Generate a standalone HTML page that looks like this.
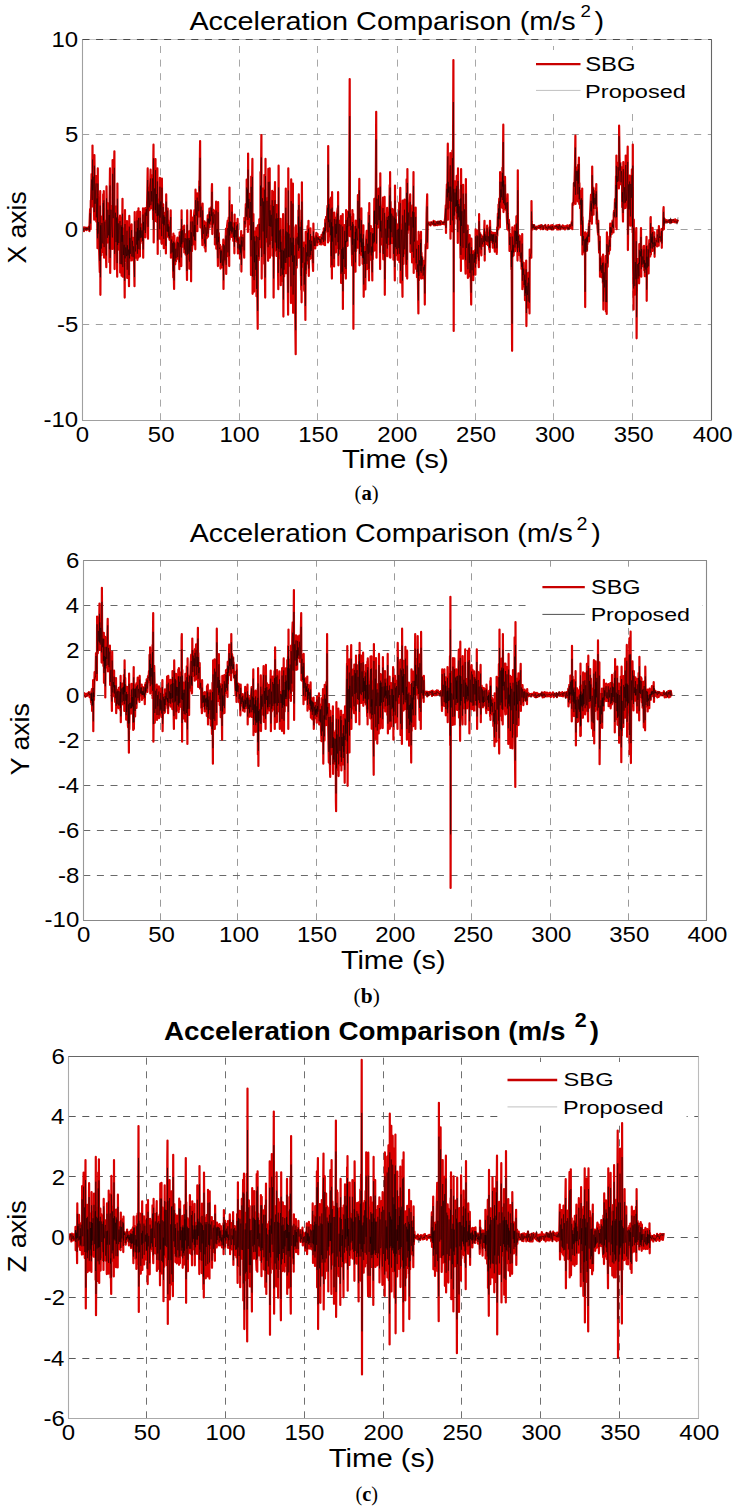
<!DOCTYPE html><html><head><meta charset="utf-8"><style>
html,body{margin:0;padding:0;background:#fff;}body{width:735px;height:1509px;overflow:hidden;position:relative;}
svg{position:absolute;left:0;top:0;}
</style></head><body>
<svg width="735" height="1509" viewBox="0 0 735 1509" font-family='"Liberation Sans", sans-serif'>
<g stroke-width="1" stroke-dasharray="7 6.6" fill="none"><line x1="160.5" y1="420.2" x2="160.5" y2="39.3" stroke="#a8a8a8"/><line x1="239.5" y1="420.2" x2="239.5" y2="39.3" stroke="#a8a8a8"/><line x1="317.5" y1="420.2" x2="317.5" y2="39.3" stroke="#a8a8a8"/><line x1="397.5" y1="420.2" x2="397.5" y2="39.3" stroke="#a8a8a8"/><line x1="475.5" y1="420.2" x2="475.5" y2="39.3" stroke="#a8a8a8"/><line x1="553.5" y1="420.2" x2="553.5" y2="39.3" stroke="#a8a8a8"/><line x1="632.5" y1="420.2" x2="632.5" y2="39.3" stroke="#a8a8a8"/><line x1="82.2" y1="134.5" x2="711.6" y2="134.5" stroke="#a0a0a0"/><line x1="82.2" y1="229.5" x2="711.6" y2="229.5" stroke="#a0a0a0"/><line x1="82.2" y1="324.5" x2="711.6" y2="324.5" stroke="#a0a0a0"/></g>
<clipPath id="c0"><rect x="82.2" y="39.3" width="629.4" height="380.9"/></clipPath>
<g clip-path="url(#c0)" fill="none" stroke-linejoin="round">
<polyline points="81.5,231.1 81.7,226.4 81.9,228.4 82.6,229.5 83.3,227.7 83.9,231.1 84.1,227.4 84.3,229.5 84.8,227.7 85.4,229.6 85.9,227.7 86.6,230.2 86.8,227.9 87.0,229.3 87.5,227.9 87.9,229.3 88.5,228.4 89.1,226.4 89.4,231.1 89.6,222.5 90.1,209.1 90.6,229.2 90.8,200.7 91.1,199.9 91.6,174.1 92.3,206.4 92.5,145.6 92.7,191.1 93.2,173.3 93.7,196.1 94.2,219.7 94.4,155.1 94.7,183.5 95.1,207.3 95.7,187.8 96.1,176.0 96.3,221.6 96.5,218.0 97.0,193.1 97.5,248.2 97.8,168.4 98.0,236.7 98.6,217.4 99.2,251.9 99.8,272.2 100.0,207.9 100.2,191.2 100.4,294.8 100.7,221.0 101.4,255.2 101.9,216.6 102.5,246.6 103.0,251.8 103.2,194.4 103.4,217.0 103.8,191.2 104.1,257.7 104.3,233.1 104.9,220.6 105.6,242.1 106.3,267.2 106.5,186.4 106.8,209.2 107.4,242.6 107.9,203.4 108.6,239.7 109.2,214.6 109.4,262.2 109.6,202.2 110.0,168.4 110.2,272.9 110.5,232.7 111.0,205.9 111.7,229.8 112.4,248.9 112.6,160.0 112.8,203.3 113.3,222.9 113.8,186.0 114.4,151.3 114.6,269.1 114.8,238.6 115.5,206.4 116.0,245.9 116.5,211.6 117.2,276.7 117.4,183.6 117.7,250.4 118.3,221.3 118.8,248.9 119.3,226.4 120.0,215.7 120.2,272.5 120.4,247.3 121.1,218.2 121.6,275.7 121.8,219.6 122.0,244.2 122.5,198.8 122.8,276.7 123.0,228.4 123.6,258.2 124.2,241.3 124.7,297.6 125.0,210.2 125.2,261.8 125.8,245.1 126.5,261.4 127.0,221.1 127.2,277.9 127.4,241.5 128.0,258.8 128.6,245.7 129.0,286.2 129.3,215.9 129.5,261.2 130.0,235.0 130.4,258.0 131.0,236.6 131.6,224.3 131.8,260.5 132.0,256.6 132.5,237.6 133.1,254.8 133.6,243.3 134.0,256.8 134.5,286.2 134.7,212.1 135.0,232.8 135.6,257.7 136.1,228.6 136.7,248.7 137.2,211.5 137.4,260.0 137.6,226.0 138.2,257.7 138.5,208.3 138.7,243.3 139.3,228.0 139.9,256.5 140.1,211.9 140.3,239.7 140.7,224.0 141.4,240.7 141.9,227.9 142.6,243.3 143.0,208.3 143.2,257.7 143.5,221.0 144.1,232.1 144.5,218.4 145.2,208.0 145.4,237.3 145.6,228.4 146.1,208.4 146.7,216.4 147.2,199.5 147.7,168.4 148.0,238.7 148.2,212.5 148.7,187.7 149.4,210.1 150.0,189.4 150.6,169.7 150.8,208.5 151.0,208.3 151.5,186.7 151.9,205.2 152.5,175.2 153.1,219.4 153.3,162.6 153.5,144.7 153.7,242.5 153.9,212.6 154.6,183.5 155.3,211.5 155.5,159.0 155.7,221.1 156.4,190.2 157.0,222.1 157.4,168.4 157.7,253.9 157.9,199.3 158.4,218.4 159.1,199.7 159.7,238.7 159.9,177.8 160.1,219.9 160.8,197.7 161.2,225.4 161.7,243.8 161.9,178.5 162.1,207.7 162.8,226.3 163.2,204.3 163.8,248.2 164.0,213.3 164.2,226.0 164.9,212.8 165.4,227.3 165.9,253.5 166.2,194.4 166.4,215.7 167.0,236.1 167.7,208.5 167.9,236.5 168.1,220.4 168.6,237.5 169.0,226.6 169.5,239.8 170.2,229.8 170.7,210.4 170.9,257.7 171.2,243.1 171.6,237.2 172.1,254.0 172.6,239.5 173.3,277.5 173.4,233.7 173.7,270.2 174.1,288.9 174.4,235.5 174.6,250.9 175.2,264.3 175.7,248.5 176.1,261.3 176.7,243.8 177.4,237.5 177.6,258.7 177.8,257.7 178.4,239.9 178.9,251.7 179.4,269.2 179.6,232.3 179.8,235.2 180.4,247.6 180.9,229.5 181.3,266.1 181.6,210.4 181.8,245.3 182.4,226.9 183.0,246.7 183.5,233.4 184.2,225.5 184.3,252.4 184.5,248.3 185.2,234.0 185.6,254.6 186.3,234.6 187.0,279.9 187.2,210.4 187.5,258.7 188.1,235.5 188.7,258.4 189.2,231.4 189.4,268.7 189.6,238.0 190.2,254.6 190.9,210.4 191.1,281.3 191.3,228.5 191.9,251.1 192.5,243.8 192.7,217.5 192.9,221.3 193.6,241.0 194.0,215.9 194.5,210.0 194.6,244.7 194.9,226.8 195.3,249.3 195.5,189.7 195.8,207.0 196.3,218.7 196.8,204.8 197.2,193.3 197.4,231.2 197.6,217.0 198.0,198.9 198.7,213.1 199.1,216.3 199.3,181.0 199.5,188.6 200.1,141.0 200.4,227.3 200.6,213.9 201.2,205.5 201.8,227.1 202.4,245.2 202.6,203.6 202.8,224.7 203.5,237.7 203.9,228.8 204.5,221.4 204.7,247.8 204.9,241.2 205.6,251.4 205.8,222.9 206.0,229.2 206.7,238.2 207.2,226.6 207.8,215.3 208.0,236.7 208.2,228.5 208.6,216.3 209.0,225.5 209.4,208.5 209.6,227.4 209.8,211.9 210.5,223.7 211.0,207.4 211.6,220.0 211.8,189.0 212.0,184.0 212.3,234.1 212.5,221.5 213.1,209.6 213.6,223.8 214.2,210.5 214.8,212.5 214.9,244.5 215.2,230.0 215.7,222.8 216.1,201.7 216.3,248.7 216.5,235.7 217.2,227.3 217.9,266.1 218.1,202.0 218.3,246.5 218.8,233.0 219.3,251.7 220.0,244.8 220.5,268.6 220.7,246.3 220.9,263.5 221.6,249.9 222.3,267.3 222.8,258.6 223.3,239.7 223.5,288.9 223.7,267.0 224.4,244.7 224.9,261.1 225.5,242.9 226.0,228.6 226.2,273.9 226.4,253.8 227.1,225.9 227.7,220.7 227.9,256.1 228.1,248.1 228.7,217.7 229.2,266.1 229.5,187.6 229.7,239.8 230.3,217.7 230.7,235.3 231.2,219.9 231.8,237.0 231.9,205.2 232.1,236.7 232.7,225.2 233.3,240.9 234.0,223.1 234.4,253.3 234.6,214.6 234.8,240.3 235.4,229.2 236.0,241.0 236.7,222.9 236.9,241.7 237.1,227.3 237.6,218.8 237.9,253.5 238.1,241.3 238.8,237.8 239.2,250.0 239.8,241.3 240.0,258.6 240.2,243.1 240.6,252.9 241.2,231.1 241.4,271.6 241.7,239.6 242.2,248.2 242.9,235.3 243.5,241.4 244.2,257.7 244.4,217.8 244.7,218.0 245.2,226.7 245.8,204.2 246.5,219.2 246.7,179.6 246.9,211.5 247.4,185.6 247.9,231.9 248.1,153.6 248.4,211.3 249.0,193.5 249.6,224.3 250.3,194.8 251.0,275.0 251.2,176.6 251.4,246.5 251.8,205.5 252.4,158.9 252.6,293.8 252.9,254.5 253.4,214.1 254.1,291.6 254.3,231.4 254.5,267.6 255.0,232.7 255.6,274.8 256.3,227.9 256.5,296.3 256.7,250.7 257.2,286.0 257.7,328.8 257.9,225.4 258.1,240.8 258.8,259.9 259.3,219.3 259.7,247.3 260.4,246.1 260.5,172.0 260.8,200.9 261.4,135.0 261.7,278.6 261.9,236.9 262.5,188.4 263.1,234.3 263.6,192.4 264.2,263.8 264.4,174.9 264.6,242.7 265.2,297.6 265.5,158.9 265.7,199.7 266.4,241.4 267.0,198.5 267.5,233.1 268.1,260.8 268.3,168.9 268.5,208.3 269.2,230.8 269.7,168.4 269.9,257.7 270.1,205.6 270.8,232.6 271.3,209.4 272.0,240.4 272.2,190.8 272.4,255.7 272.8,231.3 273.4,192.2 273.6,297.6 273.8,261.3 274.3,217.2 275.0,182.2 275.2,243.4 275.4,250.3 275.9,215.4 276.5,256.0 276.7,205.1 276.9,253.6 277.5,208.6 277.9,213.4 278.1,273.2 278.3,289.2 278.6,165.7 278.8,251.6 279.4,225.9 280.0,258.2 280.6,218.8 280.8,285.2 281.0,237.7 281.4,275.3 281.9,243.7 282.4,281.1 283.1,214.0 283.4,316.6 283.6,247.5 284.1,276.5 284.7,241.9 285.1,268.9 285.8,188.5 286.0,273.2 286.2,224.0 286.8,265.6 287.4,224.1 288.1,314.7 288.3,168.4 288.6,259.5 289.1,226.1 289.8,265.7 290.4,235.1 291.0,303.1 291.2,179.4 291.4,260.4 292.0,238.0 292.5,273.6 292.9,183.6 293.1,312.8 293.4,227.2 293.9,274.6 294.5,245.8 295.0,296.9 295.7,354.2 295.9,225.4 296.1,253.4 296.7,267.7 297.1,234.8 297.6,244.4 298.2,250.6 298.4,210.4 298.6,257.7 298.8,194.4 299.0,218.9 299.7,250.1 300.1,223.2 300.7,257.2 301.2,290.0 301.4,210.4 301.6,302.3 301.9,182.3 302.1,225.8 302.7,266.6 303.4,246.2 304.0,242.7 304.2,289.8 304.4,290.8 304.8,256.7 305.4,320.0 305.7,231.9 305.9,273.8 306.6,248.4 307.2,263.4 307.6,226.2 307.8,260.1 308.0,244.7 308.5,220.8 308.8,275.9 309.0,255.2 309.5,236.2 309.9,259.1 310.5,228.4 310.7,257.9 310.9,243.1 311.3,251.8 311.7,237.2 312.4,255.9 313.1,271.0 313.4,223.5 313.6,239.8 314.3,247.3 314.7,237.9 315.2,248.5 315.7,239.4 316.3,232.8 316.5,241.0 316.7,242.2 317.3,245.2 317.5,233.9 317.8,237.4 318.3,241.8 318.7,238.2 319.3,240.5 319.7,237.0 319.9,244.1 320.1,238.3 320.7,241.7 321.3,244.4 321.5,234.9 321.8,235.7 322.4,239.5 323.0,232.0 323.6,244.5 323.8,228.5 324.0,237.1 324.4,227.9 325.0,245.2 325.2,219.7 325.5,232.4 326.1,216.8 326.8,222.7 327.5,205.8 328.0,242.5 328.2,146.0 328.5,226.2 328.9,199.2 329.4,236.2 329.9,217.3 330.4,241.1 331.0,197.5 331.2,266.9 331.4,217.8 331.9,278.6 332.1,192.2 332.3,243.8 332.8,221.4 333.5,249.5 334.1,266.5 334.3,212.6 334.5,218.4 335.1,238.7 335.8,219.1 335.9,252.5 336.1,217.5 336.5,236.7 337.1,213.3 337.7,208.2 337.9,248.5 338.1,192.2 338.4,265.3 338.6,245.4 339.3,220.8 339.8,253.2 340.4,239.8 340.9,216.1 341.1,283.0 341.3,259.1 341.7,244.9 342.2,276.1 342.7,214.0 342.9,309.0 343.1,244.7 343.6,261.5 344.3,242.4 344.7,225.2 344.9,273.1 345.1,253.4 345.5,237.2 345.9,278.6 346.1,210.2 346.4,245.9 347.1,223.0 347.6,245.8 347.7,211.5 347.9,236.3 348.4,212.6 349.1,222.3 349.7,79.1 350.0,236.2 350.2,216.5 350.7,236.4 351.2,224.2 351.6,241.7 352.2,265.5 352.4,210.2 352.6,241.3 353.2,214.0 353.4,328.8 353.7,250.6 354.1,233.0 354.8,249.5 355.3,226.9 355.5,271.7 355.7,220.7 356.1,251.1 356.5,224.8 357.1,242.3 357.7,247.7 357.9,195.2 358.1,219.9 358.8,231.8 359.3,178.9 359.5,265.3 359.7,211.6 360.3,248.7 360.8,232.1 361.2,251.3 361.4,208.4 361.6,255.0 362.2,236.7 362.6,263.8 363.0,237.3 363.2,261.1 363.4,225.4 363.7,296.8 363.9,249.8 364.3,264.4 364.8,247.2 365.3,246.8 365.4,289.5 365.6,264.2 366.1,240.1 366.7,230.8 366.9,269.1 367.1,259.6 367.6,239.8 368.2,252.2 368.6,212.5 368.8,269.0 369.0,280.5 369.3,203.2 369.5,236.3 369.9,259.8 370.4,233.5 370.8,226.0 371.0,256.4 371.2,259.7 371.7,245.5 372.3,280.5 372.5,229.2 372.8,259.3 373.2,229.8 373.8,248.8 374.3,198.9 374.5,250.6 374.7,212.1 375.2,231.7 375.8,187.3 376.2,111.8 376.5,257.7 376.7,225.0 377.1,195.4 377.7,227.7 378.3,221.4 378.5,188.7 378.7,205.8 379.1,225.1 379.7,202.5 380.1,269.1 380.3,173.3 380.6,235.2 381.1,217.8 381.8,244.4 382.4,216.2 383.0,197.5 383.1,249.8 383.3,259.3 384.0,232.9 384.6,196.9 384.8,294.8 385.0,262.4 385.7,222.9 386.4,243.9 387.1,207.9 387.3,256.2 387.5,213.2 388.1,244.3 388.5,212.7 389.1,236.1 389.7,185.2 389.9,257.4 390.1,172.2 390.4,257.7 390.6,201.8 391.1,238.0 391.7,208.7 392.1,242.9 392.6,209.1 393.3,211.6 393.5,259.7 393.7,241.4 394.2,213.1 394.8,280.5 395.0,185.5 395.3,254.3 395.8,213.2 396.3,255.1 397.0,224.7 397.4,228.4 397.6,259.8 397.8,251.2 398.3,226.0 398.8,251.4 399.2,202.7 399.4,262.2 399.6,217.7 400.3,187.8 400.5,282.4 400.7,254.9 401.4,224.5 401.9,259.2 402.5,296.8 402.7,200.7 403.0,232.9 403.5,263.9 403.9,232.3 404.5,199.7 404.7,253.2 404.9,243.1 405.4,218.3 405.9,250.5 406.4,276.3 406.6,179.4 406.8,204.1 407.2,278.6 407.4,169.0 407.7,233.1 408.4,209.3 409.0,229.4 409.5,209.4 410.2,194.4 410.4,252.0 410.7,235.2 411.1,212.5 411.7,236.5 412.1,262.5 412.3,216.0 412.5,205.4 413.1,229.4 413.5,172.2 413.7,272.9 414.0,207.5 414.4,247.5 415.0,233.5 415.7,207.5 415.9,262.4 416.1,269.0 416.6,241.3 417.0,277.2 417.7,262.9 418.4,313.4 418.6,231.9 418.9,280.4 419.6,257.4 420.0,269.5 420.6,235.2 420.8,276.1 421.0,231.9 421.2,278.6 421.5,252.8 421.9,267.9 422.3,257.0 423.0,278.3 423.5,276.6 423.7,263.2 423.9,269.3 424.5,260.6 424.8,304.6 425.0,275.4 425.6,244.5 426.1,245.1 426.6,213.6 427.2,194.4 427.4,248.2 427.7,225.6 428.3,222.3 429.2,224.4 429.7,222.6 430.5,225.5 431.3,222.2 432.0,224.2 432.5,222.4 433.1,224.2 433.6,220.9 434.1,225.3 435.0,221.5 435.7,225.2 436.6,222.4 437.4,225.1 438.0,221.6 438.8,224.6 439.5,221.5 440.2,224.7 440.8,221.1 441.6,224.1 442.3,222.3 443.0,223.9 443.5,222.5 444.3,224.3 445.1,218.2 445.8,205.4 446.0,233.0 446.2,209.5 446.9,184.4 447.3,198.2 447.8,143.7 448.0,219.7 448.2,179.5 448.7,195.2 449.2,183.4 449.7,207.6 450.3,153.2 450.5,238.7 450.7,185.5 451.3,207.8 451.9,183.5 452.4,150.6 452.6,231.5 452.8,207.6 453.4,60.1 453.7,331.0 453.9,183.9 454.3,224.1 455.0,181.4 455.5,209.9 456.1,183.5 456.5,211.1 456.7,175.9 456.9,218.7 457.4,198.9 457.8,242.9 458.0,168.4 458.3,219.6 458.8,200.0 459.3,228.2 459.8,201.4 460.5,258.1 460.7,189.7 460.9,271.0 461.1,169.0 461.4,229.8 462.0,205.1 462.4,231.5 463.0,258.8 463.2,184.8 463.4,210.3 463.9,233.4 464.5,205.4 465.0,247.3 465.6,273.7 465.9,179.0 466.1,214.4 466.6,250.2 467.1,230.9 467.7,225.7 467.9,277.9 468.1,258.9 468.6,240.4 469.3,264.5 469.7,235.2 469.9,276.6 470.1,250.8 470.8,278.0 471.2,304.6 471.4,238.7 471.7,257.2 472.1,273.7 472.6,251.1 473.1,258.5 473.3,280.2 473.5,266.4 474.0,251.0 474.5,263.6 475.0,250.1 475.4,274.7 475.6,229.4 475.8,263.8 476.5,240.5 477.0,230.7 477.2,256.0 477.4,255.6 477.8,232.8 478.2,253.3 478.8,267.2 479.1,214.2 479.3,236.3 479.7,250.0 480.2,233.0 480.7,249.6 481.4,255.3 481.6,235.4 481.8,236.6 482.4,246.0 483.1,236.8 483.8,245.6 484.5,220.8 484.7,260.6 484.9,232.1 485.5,242.4 486.0,234.7 486.5,243.9 486.9,241.7 487.1,225.7 487.3,232.4 487.9,245.2 488.4,233.0 488.8,243.6 489.4,249.8 489.6,227.5 489.8,252.0 490.0,220.8 490.3,232.9 490.7,241.6 491.3,231.9 491.8,240.5 492.2,232.7 492.8,247.6 492.9,233.8 493.2,242.4 493.6,232.9 494.2,244.3 494.8,251.7 495.0,232.8 495.2,234.0 495.7,243.3 496.3,235.1 496.8,253.9 497.1,227.3 497.3,236.0 497.9,213.6 498.3,229.5 498.5,204.6 498.7,221.5 499.2,198.7 499.9,227.3 500.1,172.2 500.3,207.9 500.9,186.5 501.4,203.1 501.8,178.7 502.3,207.8 502.4,167.8 502.7,190.0 503.3,124.7 503.5,212.1 503.7,178.6 504.2,197.6 504.8,208.8 505.0,176.9 505.2,191.6 505.6,209.7 506.3,201.6 506.8,216.6 507.3,229.2 507.6,194.4 507.8,213.9 508.5,230.4 508.9,219.8 509.3,226.8 509.5,251.0 509.7,243.3 510.1,233.9 510.7,247.2 511.2,246.2 511.4,269.5 511.6,245.2 512.1,350.8 512.3,227.3 512.6,256.8 513.2,240.0 513.6,255.5 514.2,239.7 514.8,225.5 515.0,251.2 515.2,245.3 515.6,230.8 516.2,244.2 516.4,216.4 516.6,247.3 517.1,231.0 517.5,260.6 517.8,170.3 518.0,250.7 518.6,235.2 519.2,253.8 519.6,255.2 519.8,235.8 520.0,247.5 520.6,261.2 521.2,252.5 521.6,269.0 522.2,234.1 522.4,289.2 522.6,262.2 523.2,277.1 523.7,262.8 524.1,286.4 524.8,270.8 525.0,300.2 525.2,277.5 525.6,294.8 526.2,260.6 526.4,326.1 526.7,284.6 527.4,295.8 528.0,279.3 528.2,307.5 528.4,272.9 529.0,287.7 529.5,313.4 529.7,249.5 530.0,258.6 530.7,252.6 531.3,257.7 531.5,201.1 531.7,221.4 532.3,229.5 532.9,225.0 533.5,228.1 534.1,225.0 534.7,228.2 535.4,226.8 536.2,229.4 537.0,226.6 537.7,228.0 538.7,226.0 539.2,227.9 540.0,225.6 540.7,229.2 541.3,225.2 541.9,228.6 542.4,226.5 543.1,229.2 543.8,226.1 544.4,228.0 545.3,225.0 545.8,229.1 546.6,226.6 547.4,229.8 548.3,225.2 548.9,228.3 549.8,226.7 550.3,229.0 551.1,225.3 551.7,229.5 552.5,225.2 553.2,229.5 554.0,226.6 554.6,228.3 555.3,225.8 555.9,228.0 556.5,225.3 557.2,229.5 558.0,225.1 558.6,229.3 559.4,224.8 560.2,229.3 561.1,226.7 562.0,228.3 562.7,225.4 563.6,228.6 564.2,226.2 565.0,229.5 565.9,226.0 566.5,228.5 567.3,225.3 567.9,228.7 568.4,226.5 569.1,228.6 569.7,225.0 570.4,228.2 571.0,226.4 571.9,221.4 572.3,229.2 572.5,203.9 572.8,203.0 573.4,204.8 573.9,183.0 574.3,191.3 575.0,164.5 575.4,135.7 575.6,203.9 575.9,182.5 576.3,167.4 576.8,179.4 577.3,168.2 577.9,201.5 578.1,164.9 578.3,185.0 578.9,157.6 579.2,203.9 579.4,183.0 580.1,208.2 580.7,197.9 581.2,235.2 581.4,190.8 581.6,222.0 582.2,188.5 582.4,254.5 582.6,217.1 583.1,244.8 583.5,232.3 584.1,252.2 584.8,234.3 585.0,256.6 585.2,307.1 585.4,232.4 585.6,246.0 586.1,250.8 586.6,237.5 587.0,250.7 587.2,233.8 587.4,244.2 587.8,232.7 588.3,236.7 588.9,223.7 589.1,241.4 589.4,220.6 589.8,221.3 590.5,205.0 591.0,194.7 591.1,213.7 591.3,205.7 591.9,223.7 592.2,166.5 592.4,184.5 592.9,207.7 593.4,187.7 593.6,214.7 593.8,190.9 594.2,207.8 594.8,196.0 595.3,207.9 596.0,188.4 596.1,207.4 596.3,184.0 596.6,223.7 596.8,207.6 597.5,227.4 598.1,234.8 598.3,220.7 598.5,233.2 599.1,252.7 599.8,236.8 600.0,276.7 600.3,256.0 600.7,271.5 601.3,265.1 601.7,277.3 602.1,267.9 602.7,256.7 602.9,283.1 603.1,254.5 603.4,309.6 603.6,292.7 604.2,270.6 604.6,286.5 605.2,269.2 605.7,256.0 605.9,311.5 606.1,281.5 606.7,313.9 606.9,232.4 607.1,254.4 607.7,266.6 608.2,245.1 608.6,254.4 609.0,253.3 609.2,242.7 609.4,236.5 610.0,250.1 610.2,223.7 610.4,237.6 611.0,227.1 611.6,234.2 612.0,225.3 612.5,220.7 612.7,228.4 612.9,225.5 613.5,232.4 613.7,214.9 614.0,210.9 614.5,216.8 615.0,199.0 615.5,211.4 616.0,176.3 616.2,227.2 616.4,155.5 616.6,229.2 616.9,170.2 617.4,185.4 618.0,162.5 618.4,172.4 618.9,188.5 619.1,125.7 619.4,148.6 619.9,174.2 620.4,162.8 621.0,184.5 621.4,167.2 622.0,174.9 622.2,207.2 622.4,195.1 623.0,221.6 623.3,162.1 623.5,178.3 624.1,208.5 624.6,187.7 625.0,201.7 625.5,208.0 625.7,155.6 625.9,179.7 626.5,205.3 627.0,190.7 627.7,146.6 627.9,250.1 628.2,218.9 628.6,180.4 629.1,210.2 629.6,175.5 630.0,202.3 630.4,225.7 630.6,179.6 630.8,176.3 631.3,199.3 631.9,169.4 632.6,232.4 632.8,144.5 633.0,257.4 633.6,309.6 633.8,219.7 634.1,255.3 634.8,294.6 635.3,265.6 635.9,283.1 636.1,232.2 636.3,228.1 636.6,338.3 636.8,295.8 637.4,258.8 638.1,277.1 638.6,260.2 639.1,283.3 639.3,244.2 639.5,268.3 640.1,246.2 640.5,259.5 641.0,228.1 641.3,276.7 641.5,246.1 642.1,265.5 642.7,253.6 643.4,266.4 644.0,245.8 644.2,270.5 644.4,258.6 644.8,276.1 645.4,262.4 645.8,273.6 646.5,236.8 646.7,300.8 647.0,252.4 647.4,271.5 647.9,246.7 648.4,248.8 648.6,273.4 648.8,252.1 649.3,240.2 649.8,245.1 650.3,256.4 650.5,218.1 650.7,217.0 650.9,254.5 651.2,233.1 651.6,245.3 652.0,233.6 652.4,251.0 652.6,227.9 652.8,244.6 653.3,240.4 653.7,247.8 654.3,232.4 654.6,256.8 654.8,240.0 655.4,244.8 656.0,238.8 656.5,242.2 657.1,246.4 657.3,230.3 657.5,233.4 658.1,238.7 658.7,245.7 658.9,226.0 659.1,232.3 659.6,238.7 660.3,235.0 661.0,241.3 661.5,229.2 661.8,247.8 662.0,230.5 662.6,230.3 663.2,226.4 663.4,210.3 663.6,207.2 663.9,229.2 664.1,218.1 664.7,222.5 665.5,219.7 666.1,222.4 666.7,220.3 667.2,221.6 667.9,220.3 668.7,221.9 669.3,220.3 670.1,222.5 670.6,219.9 671.4,222.5 671.9,220.1 672.6,221.9 673.4,220.0 674.2,222.2 675.1,219.4 675.7,222.3 676.3,220.2 677.0,222.5 678.0,219.7" stroke="#d80000" stroke-width="2.2"/>
<polyline points="81.5,230.7 81.7,227.0 81.9,228.9 82.6,230.1 83.3,228.4 83.9,231.3 84.1,227.8 84.3,228.0 84.8,228.5 85.4,229.9 85.9,227.5 86.6,229.4 86.8,228.1 87.0,230.0 87.5,228.1 87.9,228.4 88.5,229.5 89.1,226.4 89.4,231.1 89.6,223.3 90.1,213.2 90.6,223.5 90.8,203.5 91.1,198.2 91.6,179.5 92.3,200.0 92.5,159.5 92.7,190.3 93.2,176.6 93.7,191.4 94.2,212.1 94.4,165.7 94.7,186.2 95.1,203.8 95.7,188.3 96.1,183.4 96.3,217.4 96.5,212.3 97.0,198.4 97.5,238.3 97.8,183.5 98.0,233.7 98.6,222.0 99.2,242.5 99.8,260.9 100.0,218.0 100.2,205.6 100.4,277.3 100.7,225.3 101.4,248.6 101.9,222.9 102.5,242.5 103.0,243.6 103.2,203.0 103.4,220.3 103.8,200.3 104.1,247.1 104.3,232.4 104.9,221.6 105.6,239.4 106.3,255.5 106.5,198.3 106.8,214.5 107.4,237.9 107.9,209.7 108.6,235.4 109.2,215.0 109.4,249.4 109.6,211.1 110.0,185.4 110.2,257.9 110.5,231.7 111.0,209.7 111.7,227.5 112.4,237.5 112.6,173.8 112.8,202.7 113.3,218.2 113.8,191.7 114.4,167.8 114.6,253.9 114.8,232.0 115.5,212.7 116.0,242.1 116.5,217.5 117.2,263.1 117.4,198.7 117.7,245.1 118.3,223.3 118.8,243.0 119.3,230.6 120.0,221.1 120.2,264.1 120.4,244.0 121.1,225.3 121.6,264.3 121.8,227.0 122.0,241.8 122.5,213.7 122.8,267.1 123.0,235.0 123.6,255.0 124.2,244.8 124.7,280.9 125.0,224.0 125.2,258.4 125.8,247.4 126.5,256.2 127.0,230.7 127.2,269.8 127.4,245.2 128.0,255.5 128.6,249.5 129.0,275.2 129.3,226.6 129.5,258.4 130.0,237.9 130.4,253.9 131.0,238.9 131.6,230.1 131.8,256.4 132.0,253.7 132.5,240.8 133.1,257.2 133.6,246.3 134.0,253.3 134.5,277.1 134.7,221.3 135.0,238.4 135.6,251.5 136.1,231.6 136.7,244.7 137.2,220.3 137.4,253.8 137.6,228.0 138.2,249.1 138.5,217.9 138.7,240.5 139.3,230.2 139.9,249.6 140.1,217.7 140.3,238.1 140.7,227.3 141.4,237.6 141.9,230.4 142.6,241.0 143.0,214.5 143.2,249.5 143.5,221.9 144.1,230.3 144.5,222.2 145.2,212.5 145.4,233.0 145.6,224.8 146.1,209.1 146.7,215.9 147.2,204.1 147.7,180.0 148.0,226.9 148.2,209.7 148.7,191.4 149.4,207.4 150.0,190.7 150.6,178.5 150.8,205.2 151.0,203.9 151.5,191.2 151.9,201.5 152.5,178.4 153.1,210.8 153.3,172.9 153.5,158.3 153.7,229.3 153.9,205.4 154.6,188.4 155.3,210.1 155.5,170.1 155.7,213.3 156.4,194.0 157.0,216.1 157.4,181.4 157.7,240.4 157.9,203.2 158.4,215.6 159.1,204.5 159.7,229.3 159.9,186.7 160.1,217.7 160.8,201.5 161.2,220.5 161.7,236.2 161.9,187.6 162.1,210.2 162.8,223.8 163.2,207.0 163.8,238.9 164.0,215.3 164.2,225.3 164.9,216.9 165.4,223.8 165.9,245.8 166.2,201.6 166.4,217.9 167.0,231.5 167.7,210.5 167.9,231.9 168.1,224.2 168.6,236.4 169.0,226.5 169.5,238.4 170.2,231.4 170.7,217.0 170.9,253.6 171.2,243.8 171.6,239.5 172.1,252.4 172.6,243.1 173.3,271.4 173.4,241.5 173.7,267.5 174.1,280.4 174.4,242.5 174.6,255.2 175.2,261.4 175.7,248.7 176.1,258.2 176.7,247.6 177.4,241.8 177.6,257.1 177.8,256.6 178.4,242.6 178.9,251.7 179.4,262.4 179.6,235.4 179.8,236.9 180.4,247.1 180.9,231.2 181.3,257.5 181.6,219.0 181.8,244.2 182.4,230.2 183.0,242.3 183.5,235.4 184.2,229.2 184.3,249.6 184.5,244.8 185.2,238.0 185.6,253.8 186.3,238.6 187.0,271.0 187.2,224.6 187.5,254.8 188.1,238.3 188.7,253.8 189.2,237.9 189.4,261.7 189.6,240.2 190.2,251.5 190.9,221.5 191.1,270.1 191.3,232.2 191.9,245.9 192.5,242.4 192.7,221.4 192.9,224.5 193.6,236.5 194.0,219.4 194.5,214.9 194.6,240.1 194.9,225.0 195.3,240.8 195.5,200.1 195.8,207.1 196.3,215.7 196.8,206.4 197.2,197.6 197.4,224.8 197.6,217.6 198.0,201.1 198.7,211.2 199.1,209.4 199.3,186.2 199.5,191.5 200.1,157.8 200.4,217.3 200.6,211.5 201.2,206.6 201.8,223.8 202.4,238.9 202.6,210.3 202.8,227.1 203.5,233.9 203.9,228.1 204.5,224.9 204.7,243.6 204.9,239.1 205.6,246.6 205.8,227.3 206.0,230.3 206.7,236.1 207.2,225.6 207.8,218.4 208.0,233.7 208.2,227.3 208.6,218.8 209.0,222.9 209.4,211.5 209.6,224.3 209.8,214.0 210.5,221.4 211.0,208.0 211.6,216.2 211.8,196.1 212.0,191.8 212.3,227.6 212.5,218.0 213.1,212.3 213.6,223.6 214.2,214.7 214.8,214.5 214.9,238.1 215.2,227.8 215.7,222.9 216.1,210.5 216.3,244.6 216.5,233.6 217.2,228.9 217.9,258.3 218.1,212.2 218.3,242.2 218.8,236.8 219.3,248.9 220.0,247.5 220.5,263.1 220.7,250.4 220.9,262.6 221.6,250.6 222.3,265.7 222.8,258.6 223.3,244.1 223.5,280.3 223.7,263.7 224.4,245.4 224.9,260.4 225.5,246.5 226.0,235.5 226.2,264.8 226.4,249.2 227.1,230.4 227.7,228.1 227.9,252.4 228.1,243.7 228.7,222.2 229.2,256.4 229.5,200.2 229.7,235.5 230.3,221.4 230.7,230.8 231.2,222.0 231.8,233.6 231.9,211.7 232.1,231.9 232.7,226.6 233.3,237.1 234.0,227.8 234.4,246.7 234.6,222.5 234.8,239.2 235.4,230.0 236.0,237.3 236.7,225.6 236.9,240.8 237.1,230.0 237.6,224.2 237.9,248.4 238.1,238.3 238.8,239.2 239.2,249.7 239.8,244.0 240.0,254.6 240.2,245.3 240.6,252.7 241.2,236.5 241.4,265.0 241.7,240.4 242.2,246.7 242.9,237.0 243.5,240.5 244.2,250.4 244.4,221.2 244.7,220.9 245.2,224.3 245.8,207.5 246.5,216.7 246.7,187.5 246.9,207.6 247.4,189.4 247.9,219.9 248.1,169.6 248.4,208.5 249.0,198.9 249.6,217.9 250.3,202.0 251.0,256.5 251.2,186.9 251.4,240.1 251.8,213.8 252.4,176.9 252.6,276.6 252.9,250.6 253.4,222.0 254.1,280.1 254.3,236.4 254.5,262.3 255.0,241.3 255.6,269.8 256.3,235.8 256.5,288.9 256.7,255.0 257.2,280.3 257.7,310.9 257.9,237.0 258.1,246.4 258.8,256.8 259.3,223.8 259.7,240.1 260.4,235.4 260.5,185.6 260.8,206.1 261.4,157.4 261.7,257.0 261.9,229.2 262.5,198.2 263.1,231.5 263.6,201.4 264.2,254.2 264.4,189.6 264.6,234.7 265.2,277.5 265.5,176.1 265.7,207.8 266.4,238.1 267.0,200.8 267.5,228.4 268.1,247.2 268.3,181.9 268.5,210.9 269.2,226.1 269.7,181.7 269.9,244.7 270.1,210.3 270.8,226.8 271.3,214.8 272.0,236.4 272.2,200.2 272.4,248.3 272.8,232.5 273.4,205.9 273.6,278.5 273.8,254.2 274.3,221.9 275.0,200.1 275.2,241.8 275.4,242.5 275.9,218.6 276.5,250.6 276.7,213.3 276.9,247.9 277.5,219.9 277.9,218.0 278.1,263.0 278.3,272.9 278.6,187.4 278.8,248.9 279.4,230.4 280.0,252.1 280.6,229.4 280.8,276.2 281.0,241.8 281.4,268.3 281.9,249.8 282.4,274.7 283.1,229.1 283.4,299.6 283.6,250.6 284.1,269.7 284.7,248.5 285.1,262.9 285.8,207.7 286.0,262.8 286.2,231.4 286.8,257.9 287.4,232.3 288.1,292.7 288.3,190.4 288.6,256.9 289.1,233.7 289.8,257.2 290.4,237.7 291.0,286.4 291.2,201.1 291.4,255.4 292.0,242.5 292.5,262.0 292.9,203.6 293.1,294.6 293.4,237.7 293.9,275.2 294.5,255.5 295.0,288.4 295.7,330.2 295.9,238.4 296.1,258.9 296.7,265.9 297.1,236.7 297.6,243.5 298.2,244.8 298.4,216.5 298.6,250.8 298.8,205.0 299.0,222.9 299.7,248.3 300.1,226.8 300.7,256.1 301.2,276.0 301.4,219.9 301.6,285.8 301.9,201.6 302.1,230.6 302.7,262.8 303.4,247.3 304.0,248.4 304.2,284.6 304.4,284.0 304.8,262.6 305.4,305.9 305.7,244.4 305.9,270.3 306.6,252.3 307.2,261.3 307.6,232.7 307.8,256.4 308.0,246.3 308.5,228.7 308.8,268.6 309.0,253.3 309.5,239.9 309.9,257.1 310.5,234.0 310.7,255.1 310.9,244.2 311.3,250.9 311.7,240.8 312.4,253.4 313.1,263.2 313.4,231.4 313.6,241.3 314.3,246.0 314.7,237.8 315.2,245.9 315.7,240.6 316.3,235.5 316.5,240.2 316.7,240.8 317.3,243.2 317.5,237.2 317.8,237.6 318.3,239.9 318.7,237.5 319.3,240.0 319.7,239.4 319.9,242.2 320.1,239.0 320.7,243.5 321.3,242.7 321.5,237.3 321.8,237.9 322.4,239.4 323.0,232.0 323.6,242.0 323.8,230.6 324.0,234.4 324.4,228.1 325.0,240.6 325.2,222.7 325.5,231.2 326.1,220.4 326.8,219.2 327.5,207.7 328.0,232.2 328.2,164.6 328.5,222.2 328.9,204.2 329.4,227.4 329.9,219.5 330.4,235.3 331.0,208.8 331.2,256.2 331.4,222.3 331.9,265.3 332.1,207.6 332.3,241.7 332.8,226.4 333.5,243.1 334.1,258.9 334.3,218.9 334.5,224.5 335.1,237.6 335.8,223.9 335.9,245.5 336.1,219.4 336.5,233.8 337.1,217.1 337.7,213.5 337.9,242.2 338.1,205.4 338.4,255.8 338.6,242.6 339.3,223.9 339.8,249.5 340.4,240.4 340.9,224.6 341.1,273.8 341.3,254.9 341.7,249.2 342.2,271.8 342.7,226.5 342.9,291.3 343.1,247.4 343.6,259.0 344.3,247.0 344.7,230.8 344.9,267.1 345.1,249.7 345.5,240.8 345.9,269.0 346.1,219.9 346.4,242.2 347.1,225.9 347.6,241.4 347.7,217.4 347.9,226.4 348.4,211.3 349.1,217.7 349.7,116.1 350.0,226.1 350.2,213.5 350.7,230.2 351.2,225.9 351.6,239.5 352.2,254.8 352.4,222.0 352.6,244.8 353.2,224.3 353.4,304.8 353.7,249.5 354.1,238.9 354.8,251.8 355.3,231.8 355.5,262.4 355.7,225.9 356.1,248.6 356.5,228.6 357.1,237.1 357.7,240.4 357.9,200.8 358.1,221.6 358.8,228.5 359.3,190.2 359.5,253.9 359.7,218.5 360.3,242.4 360.8,233.7 361.2,247.1 361.4,220.1 361.6,252.1 362.2,238.5 362.6,257.7 363.0,242.4 363.2,258.5 363.4,234.3 363.7,284.5 363.9,251.1 364.3,264.0 364.8,253.0 365.3,251.0 365.4,278.0 365.6,261.6 366.1,245.9 366.7,238.8 366.9,263.9 367.1,254.1 367.6,243.7 368.2,253.9 368.6,222.7 368.8,258.4 369.0,268.9 369.3,215.0 369.5,238.0 369.9,252.6 370.4,235.4 370.8,232.2 371.0,253.8 371.2,255.5 371.7,246.5 372.3,272.3 372.5,233.7 372.8,252.4 373.2,233.1 373.8,243.3 374.3,211.1 374.5,241.7 374.7,210.4 375.2,223.9 375.8,193.7 376.2,139.5 376.5,243.6 376.7,218.3 377.1,198.7 377.7,224.9 378.3,219.4 378.5,195.2 378.7,212.3 379.1,220.1 379.7,205.8 380.1,252.8 380.3,186.6 380.6,231.4 381.1,220.7 381.8,237.7 382.4,222.0 383.0,208.1 383.1,243.2 383.3,254.0 384.0,235.3 384.6,212.9 384.8,279.5 385.0,255.0 385.7,228.6 386.4,243.7 387.1,216.8 387.3,248.6 387.5,220.0 388.1,237.7 388.5,215.9 389.1,228.6 389.7,195.5 389.9,244.8 390.1,187.5 390.4,244.2 390.6,208.9 391.1,232.2 391.7,213.6 392.1,237.3 392.6,215.8 393.3,216.2 393.5,253.9 393.7,237.9 394.2,217.5 394.8,267.0 395.0,200.5 395.3,247.2 395.8,218.9 396.3,249.1 397.0,229.8 397.4,230.1 397.6,254.4 397.8,246.2 398.3,228.8 398.8,248.2 399.2,210.3 399.4,253.9 399.6,222.0 400.3,203.2 400.5,270.7 400.7,252.8 401.4,229.7 401.9,255.9 402.5,280.7 402.7,215.3 403.0,234.6 403.5,257.0 403.9,232.9 404.5,209.7 404.7,249.3 404.9,243.9 405.4,222.6 405.9,246.4 406.4,264.8 406.6,192.8 406.8,210.7 407.2,259.9 407.4,182.9 407.7,230.4 408.4,212.5 409.0,225.6 409.5,214.7 410.2,201.8 410.4,244.3 410.7,235.2 411.1,217.1 411.7,235.1 412.1,251.9 412.3,216.8 412.5,211.5 413.1,227.6 413.5,185.8 413.7,257.8 414.0,212.2 414.4,241.6 415.0,237.7 415.7,216.9 415.9,258.4 416.1,263.2 416.6,248.8 417.0,272.1 417.7,264.3 418.4,300.4 418.6,245.0 418.9,275.9 419.6,260.2 420.0,265.7 420.6,243.0 420.8,271.1 421.0,239.4 421.2,272.8 421.5,256.0 421.9,265.6 422.3,257.8 423.0,275.7 423.5,274.4 423.7,266.9 423.9,270.4 424.5,264.7 424.8,293.5 425.0,270.5 425.6,246.6 426.1,246.5 426.6,220.5 427.2,206.4 427.4,242.6 427.7,224.8 428.3,222.5 429.2,225.4 429.7,224.6 430.5,225.3 431.3,221.9 432.0,223.3 432.5,222.8 433.1,224.6 433.6,221.0 434.1,225.2 435.0,223.2 435.7,225.4 436.6,221.4 437.4,224.3 438.0,221.1 438.8,224.6 439.5,221.1 440.2,224.7 440.8,221.9 441.6,221.3 442.3,221.9 443.0,223.9 443.5,221.8 444.3,223.1 445.1,217.5 445.8,208.4 446.0,227.9 446.2,206.6 446.9,188.8 447.3,197.3 447.8,156.3 448.0,209.4 448.2,181.8 448.7,192.7 449.2,186.6 449.7,200.9 450.3,165.3 450.5,225.1 450.7,186.6 451.3,201.7 451.9,189.5 452.4,158.1 452.6,220.4 452.8,202.4 453.4,102.0 453.7,292.3 453.9,188.9 454.3,215.6 455.0,192.5 455.5,206.7 456.1,188.6 456.5,206.1 456.7,185.8 456.9,213.3 457.4,200.2 457.8,232.1 458.0,181.0 458.3,217.3 458.8,204.0 459.3,220.4 459.8,206.3 460.5,245.9 460.7,198.4 460.9,254.9 461.1,184.8 461.4,226.0 462.0,211.2 462.4,224.9 463.0,247.8 463.2,193.6 463.4,214.4 463.9,233.1 464.5,209.3 465.0,239.4 465.6,260.2 465.9,193.5 466.1,220.1 466.6,248.0 467.1,230.9 467.7,230.1 467.9,269.3 468.1,255.5 468.6,243.6 469.3,262.9 469.7,242.6 469.9,273.1 470.1,253.7 470.8,274.8 471.2,292.7 471.4,247.2 471.7,260.9 472.1,270.3 472.6,254.1 473.1,261.0 473.3,275.6 473.5,263.7 474.0,253.6 474.5,262.7 475.0,251.8 475.4,267.6 475.6,236.3 475.8,259.1 476.5,243.4 477.0,235.2 477.2,253.9 477.4,253.3 477.8,236.2 478.2,251.4 478.8,260.7 479.1,221.2 479.3,238.2 479.7,247.2 480.2,233.7 480.7,246.9 481.4,249.7 481.6,238.1 481.8,238.0 482.4,244.4 483.1,236.1 483.8,242.2 484.5,228.6 484.7,255.0 484.9,233.8 485.5,240.8 486.0,235.6 486.5,241.6 486.9,240.2 487.1,228.3 487.3,234.1 487.9,242.3 488.4,236.2 488.8,242.0 489.4,247.5 489.6,229.5 489.8,248.1 490.0,226.4 490.3,233.3 490.7,240.8 491.3,233.9 491.8,241.0 492.2,234.5 492.8,244.1 492.9,234.5 493.2,242.1 493.6,234.3 494.2,242.7 494.8,248.4 495.0,234.2 495.2,235.5 495.7,242.6 496.3,236.0 496.8,248.3 497.1,229.3 497.3,234.6 497.9,216.5 498.3,226.6 498.5,208.4 498.7,218.7 499.2,201.4 499.9,219.5 500.1,181.7 500.3,202.5 500.9,189.5 501.4,197.3 501.8,181.7 502.3,200.0 502.4,172.9 502.7,186.6 503.3,142.0 503.5,203.3 503.7,180.5 504.2,195.4 504.8,205.3 505.0,184.4 505.2,193.9 505.6,208.9 506.3,202.6 506.8,214.3 507.3,224.3 507.6,202.0 507.8,217.0 508.5,229.4 508.9,223.5 509.3,229.1 509.5,245.0 509.7,242.8 510.1,236.8 510.7,248.7 511.2,250.8 511.4,267.0 511.6,250.7 512.1,323.7 512.3,236.5 512.6,257.3 513.2,244.8 513.6,252.5 514.2,240.7 514.8,230.5 515.0,247.6 515.2,242.6 515.6,231.0 516.2,244.2 516.4,223.5 516.6,240.9 517.1,231.5 517.5,252.2 517.8,190.1 518.0,247.8 518.6,235.7 519.2,246.0 519.6,252.1 519.8,240.8 520.0,250.2 520.6,258.5 521.2,252.5 521.6,266.9 522.2,243.6 522.4,280.8 522.6,263.3 523.2,275.0 523.7,268.6 524.1,285.0 524.8,274.6 525.0,295.9 525.2,279.9 525.6,293.3 526.2,269.3 526.4,313.0 526.7,285.9 527.4,295.0 528.0,282.7 528.2,301.6 528.4,277.7 529.0,286.7 529.5,302.7 529.7,257.3 530.0,257.7 530.7,254.3 531.3,253.0 531.5,211.5 531.7,224.4 532.3,228.5 532.9,224.0 533.5,227.8 534.1,224.7 534.7,229.9 535.4,227.0 536.2,229.4 537.0,226.8 537.7,227.5 538.7,227.3 539.2,228.2 540.0,225.3 540.7,228.2 541.3,226.5 541.9,226.2 542.4,224.6 543.1,229.9 543.8,226.2 544.4,225.4 545.3,225.0 545.8,228.3 546.6,227.0 547.4,229.5 548.3,226.2 548.9,228.5 549.8,226.3 550.3,228.8 551.1,226.4 551.7,230.0 552.5,226.0 553.2,229.7 554.0,227.1 554.6,226.9 555.3,226.0 555.9,227.2 556.5,225.5 557.2,228.6 558.0,225.9 558.6,228.9 559.4,224.9 560.2,229.6 561.1,225.7 562.0,227.9 562.7,226.8 563.6,228.7 564.2,227.3 565.0,228.6 565.9,227.2 566.5,227.0 567.3,226.8 567.9,230.3 568.4,227.4 569.1,230.0 569.7,225.4 570.4,226.7 571.0,224.8 571.9,222.2 572.3,226.2 572.5,204.1 572.8,203.4 573.4,202.5 573.9,182.2 574.3,186.7 575.0,168.2 575.4,147.5 575.6,194.9 575.9,178.6 576.3,170.8 576.8,180.9 577.3,171.2 577.9,194.4 578.1,169.5 578.3,183.6 578.9,164.0 579.2,199.3 579.4,187.0 580.1,204.9 580.7,199.8 581.2,224.7 581.4,198.2 581.6,220.7 582.2,200.1 582.4,245.4 582.6,220.5 583.1,240.9 583.5,236.1 584.1,251.6 584.8,239.4 585.0,254.6 585.2,291.8 585.4,238.6 585.6,250.3 586.1,252.0 586.6,237.4 587.0,250.2 587.2,236.3 587.4,241.8 587.8,234.5 588.3,236.5 588.9,226.1 589.1,236.7 589.4,220.6 589.8,221.8 590.5,208.0 591.0,200.8 591.1,211.4 591.3,203.5 591.9,215.8 592.2,175.2 592.4,189.2 592.9,203.4 593.4,188.5 593.6,208.7 593.8,192.8 594.2,205.3 594.8,197.9 595.3,204.0 596.0,193.9 596.1,205.6 596.3,191.3 596.6,220.1 596.8,211.5 597.5,225.7 598.1,232.9 598.3,222.8 598.5,234.4 599.1,250.3 599.8,240.8 600.0,271.3 600.3,257.5 600.7,269.6 601.3,265.2 601.7,272.9 602.1,268.0 602.7,263.1 602.9,282.2 603.1,262.4 603.4,301.6 603.6,287.9 604.2,272.3 604.6,287.5 605.2,272.2 605.7,263.2 605.9,302.0 606.1,280.0 606.7,302.2 606.9,244.1 607.1,256.7 607.7,263.5 608.2,245.4 608.6,252.1 609.0,251.0 609.2,242.4 609.4,239.8 610.0,246.8 610.2,227.1 610.4,236.7 611.0,227.5 611.6,232.7 612.0,227.1 612.5,221.4 612.7,227.0 612.9,224.4 613.5,228.2 613.7,214.9 614.0,212.0 614.5,216.7 615.0,202.3 615.5,208.3 616.0,185.0 616.2,217.5 616.4,165.8 616.6,216.9 616.9,176.0 617.4,182.0 618.0,167.1 618.4,171.3 618.9,181.4 619.1,136.2 619.4,154.3 619.9,170.6 620.4,163.2 621.0,182.3 621.4,171.1 622.0,178.0 622.2,201.9 622.4,192.2 623.0,213.0 623.3,169.1 623.5,183.5 624.1,203.3 624.6,187.2 625.0,197.8 625.5,202.6 625.7,165.0 625.9,179.8 626.5,200.7 627.0,191.8 627.7,161.9 627.9,234.7 628.2,211.5 628.6,184.3 629.1,209.5 629.6,181.5 630.0,198.0 630.4,216.5 630.6,184.0 630.8,183.9 631.3,197.8 631.9,175.3 632.6,227.3 632.8,165.6 633.0,247.7 633.6,288.5 633.8,227.7 634.1,259.6 634.8,286.1 635.3,262.0 635.9,279.3 636.1,246.1 636.3,241.2 636.6,317.3 636.8,289.7 637.4,264.1 638.1,278.7 638.6,262.9 639.1,276.3 639.3,249.8 639.5,263.8 640.1,251.3 640.5,256.4 641.0,236.9 641.3,269.2 641.5,249.0 642.1,264.7 642.7,256.4 643.4,263.7 644.0,249.3 644.2,267.7 644.4,260.2 644.8,272.8 645.4,262.8 645.8,269.6 646.5,246.0 646.7,289.8 647.0,256.7 647.4,267.6 647.9,249.2 648.4,250.0 648.6,266.4 648.8,251.5 649.3,243.4 649.8,243.3 650.3,252.8 650.5,224.2 650.7,223.2 650.9,248.3 651.2,233.6 651.6,242.6 652.0,236.7 652.4,248.7 652.6,232.0 652.8,243.8 653.3,242.5 653.7,247.1 654.3,236.3 654.6,254.4 654.8,242.3 655.4,245.8 656.0,239.8 656.5,241.0 657.1,242.3 657.3,234.4 657.5,235.3 658.1,237.1 658.7,242.7 658.9,229.2 659.1,232.0 659.6,238.0 660.3,236.3 661.0,241.1 661.5,231.0 661.8,243.5 662.0,231.9 662.6,229.9 663.2,225.7 663.4,213.2 663.6,211.8 663.9,225.6 664.1,217.7 664.7,223.4 665.5,220.7 666.1,221.5 666.7,221.1 667.2,223.5 667.9,220.9 668.7,220.9 669.3,219.1 670.1,224.2 670.6,217.8 671.4,223.1 671.9,219.6 672.6,220.4 673.4,219.4 674.2,221.6 675.1,221.1 675.7,221.3 676.3,221.1 677.0,224.3 678.0,217.3" stroke="#000" stroke-width="0.7" stroke-opacity="0.6"/>
</g>
<g stroke-width="1.1" fill="none"><line x1="82.0" y1="39.5" x2="712.0" y2="39.5" stroke="#c8c8c8"/><line x1="711.5" y1="39.5" x2="711.5" y2="420.5" stroke="#666"/><line x1="82.0" y1="420.5" x2="712.0" y2="420.5" stroke="#a0a0a0"/><line x1="82.5" y1="39.5" x2="82.5" y2="420.5" stroke="#a0a0a0"/><line x1="82.5" y1="39.5" x2="711.5" y2="39.5" stroke="#4a4a4a" stroke-dasharray="7 6.6"/></g>
<g fill="#000"><text transform="translate(51.53,46.76) scale(1.0900,1)" font-family='"Liberation Sans", sans-serif' font-size="22.00" font-weight="normal" fill="#000">10</text><text transform="translate(64.90,141.65) scale(1.0900,1)" font-family='"Liberation Sans", sans-serif' font-size="22.00" font-weight="normal" fill="#000">5</text><text transform="translate(64.84,236.76) scale(1.0900,1)" font-family='"Liberation Sans", sans-serif' font-size="22.00" font-weight="normal" fill="#000">0</text><text transform="translate(56.93,331.65) scale(1.0900,1)" font-family='"Liberation Sans", sans-serif' font-size="22.00" font-weight="normal" fill="#000">-5</text><text transform="translate(43.50,426.76) scale(1.0900,1)" font-family='"Liberation Sans", sans-serif' font-size="22.00" font-weight="normal" fill="#000">-10</text><text transform="translate(75.77,442.25) scale(1.0900,1)" font-family='"Liberation Sans", sans-serif' font-size="22.00" font-weight="normal" fill="#000">0</text><text transform="translate(147.86,442.25) scale(1.0900,1)" font-family='"Liberation Sans", sans-serif' font-size="22.00" font-weight="normal" fill="#000">50</text><text transform="translate(219.51,442.25) scale(1.0900,1)" font-family='"Liberation Sans", sans-serif' font-size="22.00" font-weight="normal" fill="#000">100</text><text transform="translate(298.26,442.25) scale(1.0900,1)" font-family='"Liberation Sans", sans-serif' font-size="22.00" font-weight="normal" fill="#000">150</text><text transform="translate(377.31,442.25) scale(1.0900,1)" font-family='"Liberation Sans", sans-serif' font-size="22.00" font-weight="normal" fill="#000">200</text><text transform="translate(456.06,442.25) scale(1.0900,1)" font-family='"Liberation Sans", sans-serif' font-size="22.00" font-weight="normal" fill="#000">250</text><text transform="translate(534.96,442.25) scale(1.0900,1)" font-family='"Liberation Sans", sans-serif' font-size="22.00" font-weight="normal" fill="#000">300</text><text transform="translate(613.71,442.25) scale(1.0900,1)" font-family='"Liberation Sans", sans-serif' font-size="22.00" font-weight="normal" fill="#000">350</text><text transform="translate(692.64,442.25) scale(1.0900,1)" font-family='"Liberation Sans", sans-serif' font-size="22.00" font-weight="normal" fill="#000">400</text></g>
<g stroke-width="1" stroke-dasharray="7 6.6" fill="none"><line x1="160.5" y1="920.3" x2="160.5" y2="560.4" stroke="#9a9a9a"/><line x1="237.5" y1="920.3" x2="237.5" y2="560.4" stroke="#9a9a9a"/><line x1="316.5" y1="920.3" x2="316.5" y2="560.4" stroke="#9a9a9a"/><line x1="394.5" y1="920.3" x2="394.5" y2="560.4" stroke="#9a9a9a"/><line x1="471.5" y1="920.3" x2="471.5" y2="560.4" stroke="#9a9a9a"/><line x1="550.5" y1="920.3" x2="550.5" y2="560.4" stroke="#9a9a9a"/><line x1="628.5" y1="920.3" x2="628.5" y2="560.4" stroke="#9a9a9a"/><line x1="83.3" y1="605.5" x2="706.5" y2="605.5" stroke="#6a6a6a"/><line x1="83.3" y1="650.5" x2="706.5" y2="650.5" stroke="#6a6a6a"/><line x1="83.3" y1="695.5" x2="706.5" y2="695.5" stroke="#6a6a6a"/><line x1="83.3" y1="740.5" x2="706.5" y2="740.5" stroke="#6a6a6a"/><line x1="83.3" y1="785.5" x2="706.5" y2="785.5" stroke="#6a6a6a"/><line x1="83.3" y1="830.5" x2="706.5" y2="830.5" stroke="#6a6a6a"/><line x1="83.3" y1="875.5" x2="706.5" y2="875.5" stroke="#6a6a6a"/></g>
<clipPath id="c1"><rect x="83.3" y="560.4" width="623.2" height="359.9"/></clipPath>
<g clip-path="url(#c1)" fill="none" stroke-linejoin="round">
<polyline points="82.6,693.2 83.4,695.7 84.3,693.2 85.3,696.8 86.0,693.9 86.9,695.9 87.6,693.3 88.3,695.2 88.9,692.2 89.6,697.2 90.5,693.8 91.1,702.5 91.3,691.4 91.5,704.2 91.9,689.1 92.1,710.9 92.4,697.0 92.7,708.6 93.1,680.2 93.3,731.2 93.5,692.2 94.0,700.1 94.6,672.2 95.1,677.3 95.6,678.4 95.8,662.3 96.0,653.2 96.4,667.4 96.9,680.2 97.1,616.6 97.4,636.7 97.8,653.3 98.4,629.5 98.9,646.9 99.5,603.5 99.7,650.0 99.9,620.8 100.2,647.7 100.7,622.1 101.2,633.5 101.6,662.6 101.9,587.8 102.1,627.1 102.6,649.3 103.0,637.8 103.4,666.1 103.8,632.8 104.0,682.8 104.2,651.5 104.7,671.7 105.1,636.8 105.3,697.5 105.6,652.8 106.1,667.4 106.5,646.5 106.8,662.0 107.2,642.8 107.7,618.8 108.0,671.4 108.2,660.6 108.6,646.3 109.0,668.5 109.3,653.0 109.9,645.6 110.1,684.9 110.3,683.9 110.9,666.8 111.4,688.1 111.9,710.9 112.2,651.6 112.4,677.6 112.8,695.7 113.3,683.0 113.9,691.0 114.1,670.7 114.3,696.6 114.6,686.3 115.2,702.0 115.6,691.1 116.0,678.1 116.2,713.2 116.5,701.9 116.9,690.8 117.2,704.4 117.8,689.9 118.2,706.4 118.6,708.2 118.8,687.9 119.0,689.0 119.3,708.2 119.8,694.7 120.2,686.8 120.4,710.6 120.6,675.9 120.8,722.2 121.0,700.6 121.5,686.6 122.1,704.3 122.6,683.7 123.0,695.0 123.5,685.1 123.7,704.2 123.9,675.0 124.3,710.9 124.6,660.4 124.8,693.7 125.2,677.9 125.7,708.0 126.0,692.5 126.2,719.7 126.4,686.6 126.7,715.8 127.3,697.2 127.7,687.1 127.9,725.3 128.1,727.5 128.4,699.3 128.9,752.7 129.1,673.6 129.3,729.2 129.8,699.0 130.4,713.6 130.9,699.0 131.3,711.6 131.5,683.9 131.7,713.3 132.2,694.6 132.6,708.5 133.0,684.9 133.2,730.0 133.4,693.3 133.7,667.1 133.9,728.9 134.2,701.1 134.7,685.2 135.1,716.4 135.3,685.5 135.5,699.4 135.9,689.5 136.4,683.3 136.5,708.0 136.7,700.8 137.3,686.9 137.7,677.6 137.9,699.5 138.1,696.5 138.5,686.2 138.9,692.6 139.4,702.0 139.7,675.9 139.9,686.9 140.3,695.3 140.8,688.8 141.1,694.4 141.7,684.5 141.9,700.0 142.1,688.6 142.5,697.6 142.9,687.6 143.4,696.6 143.9,687.3 144.1,698.5 144.3,691.6 144.8,704.2 145.1,684.7 145.3,694.7 145.7,682.9 146.2,691.3 146.7,679.3 147.2,681.3 147.4,691.9 147.6,686.2 148.0,676.1 148.5,680.1 149.0,671.1 149.4,676.2 149.5,654.9 149.7,682.4 150.1,647.4 150.3,693.4 150.6,659.4 151.1,680.2 151.5,665.4 152.0,691.0 152.5,645.2 152.6,698.2 152.8,656.7 153.2,613.2 153.4,741.7 153.7,706.9 154.2,665.9 154.6,683.1 154.8,722.8 155.0,705.3 155.4,686.6 155.7,710.0 156.3,696.4 156.8,684.7 157.0,719.9 157.2,708.8 157.6,695.5 157.9,706.2 158.3,699.7 158.9,686.4 159.0,718.1 159.2,711.0 159.8,696.3 160.2,709.9 160.7,688.5 160.9,714.3 161.1,698.1 161.5,716.9 161.9,701.2 162.4,680.2 162.6,731.2 162.9,713.5 163.4,694.6 163.9,713.2 164.3,695.1 164.8,712.6 165.0,689.3 165.2,708.8 165.8,690.6 166.4,703.9 166.8,689.6 167.1,676.6 167.3,704.9 167.5,702.3 168.1,713.2 168.3,675.9 168.5,687.0 169.0,704.6 169.4,689.2 169.9,702.3 170.4,679.9 170.6,706.6 170.8,689.6 171.3,702.6 171.7,681.3 172.3,709.1 172.5,671.0 172.7,701.2 173.1,679.6 173.4,700.2 173.9,728.9 174.2,660.4 174.4,677.5 174.8,707.7 175.3,677.1 175.6,704.2 176.0,673.8 176.2,718.5 176.4,683.4 177.0,698.5 177.4,684.0 177.8,710.3 178.3,669.6 178.7,712.1 178.9,668.0 179.1,709.7 179.5,679.4 180.0,707.0 180.5,672.3 180.9,698.4 181.4,704.5 181.6,637.9 181.8,634.1 182.1,741.7 182.3,670.1 182.6,704.8 183.2,682.3 183.7,718.5 183.8,688.9 184.1,718.4 184.5,684.0 184.9,703.7 185.2,721.4 185.4,673.9 185.6,685.6 186.1,711.5 186.6,721.8 186.8,666.3 187.0,687.1 187.4,744.0 187.6,658.4 187.8,712.0 188.2,676.2 188.6,705.9 189.1,714.9 189.3,679.7 189.5,675.5 190.0,690.8 190.6,665.0 191.2,654.7 191.4,688.4 191.6,681.6 192.0,693.4 192.3,638.6 192.5,659.9 192.9,675.9 193.3,651.9 193.8,669.4 194.2,652.9 194.7,680.7 194.9,649.0 195.1,669.6 195.6,654.2 196.1,644.4 196.3,679.4 196.5,668.6 196.9,654.2 197.4,667.0 197.9,627.8 198.1,686.9 198.3,653.1 198.8,674.7 199.3,665.5 199.7,663.2 199.9,687.2 200.1,688.7 200.7,680.7 201.1,686.2 201.3,708.0 201.5,701.3 201.9,713.2 202.1,680.2 202.3,692.1 202.8,704.6 203.2,694.3 203.6,705.9 204.1,692.7 204.6,711.5 204.8,692.2 205.0,707.1 205.5,696.2 205.9,706.1 206.3,697.1 206.8,715.9 207.0,686.2 207.2,709.1 207.8,684.7 208.0,724.4 208.2,696.3 208.6,718.2 209.0,693.7 209.5,713.6 210.0,709.7 210.2,690.4 210.4,700.9 210.8,725.4 211.4,696.9 212.0,734.1 212.5,682.8 212.7,734.6 212.9,763.7 213.1,660.4 213.4,696.7 213.7,723.1 214.2,689.2 214.6,659.4 214.8,729.0 215.0,712.9 215.6,665.5 216.1,691.1 216.6,724.4 216.8,628.7 217.0,670.1 217.4,691.6 218.0,676.1 218.4,701.0 218.9,654.1 219.1,694.2 219.3,676.2 219.7,705.1 220.2,684.0 220.7,717.2 221.1,687.7 221.7,684.4 221.9,720.9 222.1,739.7 222.3,675.9 222.5,711.9 222.9,695.0 223.4,713.5 223.8,691.8 224.3,675.0 224.5,713.0 224.7,697.0 225.1,681.2 225.5,692.7 225.8,693.1 226.0,670.0 226.2,674.8 226.6,689.6 227.0,669.3 227.5,697.0 227.7,661.9 227.9,683.9 228.3,665.7 228.7,675.5 229.2,644.6 229.4,668.5 229.6,655.4 230.0,674.7 230.5,653.0 231.1,680.2 231.3,634.1 231.6,669.5 232.1,654.2 232.6,672.4 233.2,657.4 233.4,671.2 233.6,662.4 234.0,677.1 234.5,671.6 235.1,682.3 235.6,695.3 235.8,673.3 236.0,677.7 236.5,702.0 236.7,664.9 236.9,692.7 237.5,684.2 237.8,693.3 238.2,683.5 238.7,683.9 238.9,696.4 239.1,702.3 239.5,691.5 240.1,703.9 240.4,715.4 240.7,684.7 240.9,696.1 241.2,705.3 241.8,697.6 242.2,704.8 242.7,694.1 243.1,710.7 243.3,701.0 243.5,710.2 244.1,697.1 244.6,711.7 245.2,686.8 245.4,708.2 245.6,699.3 246.0,707.4 246.6,698.1 247.0,707.6 247.5,684.7 247.7,724.4 248.0,695.0 248.4,709.8 249.0,698.5 249.6,716.7 249.7,703.4 249.9,714.7 250.4,696.9 250.8,709.2 251.1,695.2 251.6,687.1 251.8,717.0 252.0,707.4 252.4,692.8 252.8,713.2 253.3,669.4 253.5,735.2 253.8,691.9 254.2,717.0 254.6,698.0 255.1,728.5 255.6,690.7 255.7,732.0 255.9,694.6 256.4,727.7 256.8,701.1 257.2,729.7 257.8,688.6 257.9,754.5 258.1,668.2 258.4,766.0 258.6,706.7 259.1,726.9 259.7,704.4 260.2,730.6 260.8,675.4 261.0,731.1 261.2,690.4 261.7,714.8 262.1,691.9 262.7,712.6 263.1,688.2 263.6,666.0 263.8,721.9 264.0,714.1 264.5,687.6 264.9,704.0 265.2,683.0 265.4,700.5 265.6,728.9 265.9,664.9 266.1,690.2 266.5,704.1 266.9,683.0 267.5,713.2 267.7,692.9 267.9,711.0 268.3,684.8 268.6,708.0 269.2,710.4 269.3,685.1 269.6,690.9 269.9,706.0 270.3,690.7 270.7,670.5 270.9,731.2 271.1,713.6 271.5,691.5 271.8,711.6 272.3,680.1 272.7,676.7 272.9,708.9 273.1,709.5 273.6,677.7 274.1,705.5 274.5,671.1 274.6,712.3 274.8,728.9 275.1,647.4 275.3,678.8 275.7,707.0 276.1,673.2 276.5,705.3 276.9,722.1 277.1,670.1 277.3,685.1 277.7,711.4 278.0,680.8 278.6,706.5 279.0,693.4 279.5,671.4 279.8,728.9 280.0,705.2 280.6,691.8 281.0,703.7 281.4,692.5 282.0,731.0 282.1,668.2 282.4,714.3 282.8,681.4 283.2,711.2 283.7,658.4 284.0,733.4 284.2,686.1 284.7,711.4 285.1,676.4 285.6,702.8 285.8,668.3 286.0,702.8 286.3,678.2 286.8,705.5 287.3,660.1 287.9,694.2 288.1,646.0 288.3,728.9 288.5,629.6 288.7,698.3 289.3,661.0 289.6,695.4 290.1,659.6 290.5,680.7 290.9,701.0 291.1,645.5 291.3,654.9 291.8,691.1 292.3,632.3 292.7,622.4 292.9,678.8 293.1,677.8 293.5,645.1 293.9,590.1 294.1,719.9 294.3,669.8 294.7,640.1 295.1,662.0 295.5,642.4 296.0,635.4 296.2,669.8 296.4,664.4 296.8,648.0 297.2,669.4 297.4,636.3 297.7,658.6 298.2,647.4 298.8,657.9 299.3,635.5 299.8,646.1 300.0,661.8 300.2,657.4 300.7,639.5 301.2,613.2 301.4,680.2 301.6,671.8 302.1,654.5 302.5,681.2 303.0,662.0 303.5,704.2 303.7,653.9 304.0,691.9 304.4,677.5 304.8,687.3 305.3,699.7 305.5,680.7 305.7,678.7 306.1,696.0 306.4,684.3 306.8,695.5 307.3,676.6 307.5,710.7 307.7,688.9 308.1,701.8 308.5,685.2 308.8,699.1 309.2,689.5 309.8,709.2 310.0,689.0 310.2,706.7 310.6,682.4 310.9,717.7 311.1,698.4 311.4,709.5 311.9,698.4 312.3,719.3 312.5,700.5 312.7,714.4 313.3,707.1 313.6,697.5 313.8,728.9 314.1,718.6 314.6,706.5 315.0,715.7 315.3,702.8 315.5,718.2 315.7,707.5 316.1,715.0 316.5,707.2 316.8,722.7 317.0,696.7 317.2,715.6 317.6,704.6 318.0,716.3 318.6,703.2 319.0,693.4 319.2,724.4 319.5,717.2 320.1,709.9 320.4,723.6 320.7,704.4 321.0,729.1 321.5,741.2 321.7,698.4 321.9,712.3 322.3,737.1 322.7,713.6 323.0,689.1 323.3,763.7 323.5,736.1 324.0,710.7 324.5,740.4 324.7,684.8 324.9,723.8 325.4,695.5 325.8,711.1 326.1,725.2 326.3,682.0 326.5,688.0 326.8,724.4 327.1,634.1 327.3,714.7 327.8,704.3 328.4,738.2 328.8,762.6 329.0,704.2 329.3,723.8 329.6,755.0 330.2,777.0 330.4,710.9 330.6,733.4 331.1,750.8 331.7,725.6 332.1,717.4 332.3,745.1 332.5,754.8 332.9,706.4 333.1,773.9 333.4,732.1 333.8,763.2 334.3,734.6 334.9,763.7 335.2,740.2 335.7,730.5 335.9,800.7 336.1,811.2 336.4,702.0 336.6,770.4 337.1,729.8 337.5,758.0 337.9,738.6 338.4,708.7 338.6,776.1 338.9,753.7 339.4,733.3 339.9,751.6 340.3,729.6 340.8,710.8 341.0,765.9 341.2,710.9 341.4,770.5 341.6,756.0 342.0,731.5 342.5,748.1 342.9,729.8 343.3,764.5 343.5,714.8 343.7,756.9 344.2,733.7 344.7,782.8 345.0,706.4 345.2,744.9 345.6,717.3 346.1,737.3 346.5,703.8 347.0,663.6 347.1,753.4 347.3,646.2 347.6,785.8 347.8,727.7 348.3,680.8 348.8,722.3 349.3,659.4 349.5,752.4 349.7,680.6 350.3,713.3 350.7,671.8 351.2,645.1 351.4,728.9 351.7,693.6 352.0,671.6 352.4,697.5 353.0,669.7 353.6,705.6 354.1,713.2 354.3,664.7 354.5,677.7 354.8,698.6 355.4,665.9 355.9,722.2 356.0,655.5 356.2,698.6 356.8,671.1 357.2,665.3 357.4,703.3 357.6,703.4 358.1,677.5 358.4,700.3 359.0,704.1 359.1,654.9 359.4,724.4 359.6,642.9 359.8,676.6 360.4,698.3 360.7,668.0 361.1,655.6 361.3,703.0 361.5,699.3 362.0,669.8 362.6,694.8 363.1,652.7 363.3,705.8 363.5,675.4 364.0,702.0 364.3,678.4 364.7,695.6 365.0,671.7 365.5,702.7 365.7,665.0 365.9,704.4 366.3,681.4 366.7,699.9 367.2,716.5 367.4,661.7 367.6,724.4 367.8,658.4 368.1,678.3 368.6,701.3 369.2,682.1 369.8,707.2 370.3,718.3 370.5,656.5 370.7,681.9 371.1,714.1 371.5,656.3 371.7,728.7 371.9,695.3 372.2,716.5 372.8,681.3 373.2,724.1 373.7,774.8 373.9,644.0 374.1,695.2 374.7,720.6 375.2,676.5 375.8,739.0 376.0,658.0 376.2,710.5 376.7,689.2 377.1,684.1 377.3,743.6 377.5,713.1 377.9,687.1 378.2,702.2 378.7,733.4 379.0,653.9 379.2,680.9 379.6,710.3 380.0,675.5 380.4,728.4 380.6,674.0 380.8,710.6 381.3,675.0 381.6,705.2 382.0,685.7 382.3,701.8 382.7,728.1 382.9,657.1 383.1,684.3 383.5,707.6 384.1,684.1 384.4,702.7 385.0,671.0 385.2,711.5 385.4,678.9 385.7,700.6 386.1,685.2 386.4,700.8 386.9,684.9 387.3,715.0 387.5,690.7 387.7,653.9 387.9,733.4 388.1,701.4 388.6,688.4 389.0,705.9 389.6,676.6 389.8,728.8 390.0,690.6 390.4,715.8 390.9,726.5 391.1,683.0 391.3,683.7 391.9,714.9 392.3,685.3 392.6,711.8 393.1,667.1 393.4,739.7 393.6,693.1 393.9,714.7 394.5,679.3 395.0,675.9 395.2,722.4 395.4,711.9 395.7,683.6 396.1,698.5 396.5,680.9 397.0,702.6 397.5,728.9 397.7,642.9 398.0,665.8 398.4,703.0 398.8,676.0 399.4,698.9 399.8,668.4 400.3,659.9 400.5,734.9 400.7,708.1 401.3,661.2 401.9,744.0 402.1,628.7 402.4,696.3 402.7,673.8 403.3,703.7 403.4,660.8 403.6,710.6 404.1,670.8 404.7,703.9 405.2,708.9 405.4,646.8 405.6,675.1 405.9,704.7 406.4,685.8 406.9,739.7 407.1,650.5 407.3,714.3 407.9,689.7 408.4,723.8 408.9,682.7 409.1,745.7 409.3,699.9 409.8,731.8 410.3,685.1 410.5,726.3 410.7,698.7 411.2,762.6 411.5,669.4 411.7,731.0 412.2,692.0 412.5,712.3 413.0,671.7 413.2,726.2 413.4,682.8 413.9,704.9 414.3,675.2 414.7,699.0 415.2,634.1 415.4,728.9 415.7,658.9 416.1,688.6 416.6,673.3 417.1,693.1 417.5,694.3 417.7,636.0 417.9,666.9 418.3,698.6 418.7,661.5 419.2,701.4 419.6,719.9 419.8,654.5 420.0,665.4 420.5,699.1 420.8,728.9 421.1,631.9 421.3,669.4 421.7,695.5 422.2,677.1 422.7,677.1 422.9,698.0 423.1,692.5 423.7,702.0 423.9,675.9 424.1,690.1 424.6,693.8 425.1,691.6 425.9,694.1 426.7,691.7 427.2,696.3 427.7,691.9 428.6,695.1 429.5,691.9 430.4,693.8 431.3,691.1 432.1,696.0 432.6,690.7 433.4,694.8 434.1,691.8 435.0,695.3 435.5,691.3 436.2,695.1 436.8,690.3 437.5,694.4 438.0,690.5 439.0,693.8 439.5,692.0 440.0,694.9 440.8,691.2 441.6,696.7 442.0,710.9 442.2,669.4 442.4,684.9 442.8,694.4 443.3,682.1 443.8,701.0 444.2,705.8 444.4,669.3 444.6,685.6 445.2,704.7 445.6,677.3 445.8,715.3 446.0,681.0 446.6,705.8 447.1,686.1 447.3,714.6 447.5,667.1 447.7,722.2 447.9,689.0 448.5,705.4 448.9,683.5 449.4,706.6 450.0,656.0 450.2,745.3 450.4,596.8 450.6,888.0 450.9,671.7 451.3,708.2 451.7,683.2 452.3,699.5 452.8,724.9 453.0,658.1 453.2,678.8 453.5,705.6 453.9,678.0 454.4,658.4 454.7,724.4 454.9,707.3 455.4,673.8 455.9,708.8 456.3,669.3 456.5,704.2 456.7,675.7 457.1,710.0 457.5,671.4 457.9,709.5 458.3,674.8 458.8,649.7 459.0,717.6 459.2,706.5 459.7,667.6 460.1,740.8 460.3,641.7 460.6,711.8 460.9,666.9 461.2,705.4 461.7,680.7 462.1,711.1 462.6,724.4 462.7,656.2 462.9,670.8 463.4,696.7 463.9,679.7 464.5,704.4 464.8,708.7 465.0,665.1 465.2,649.4 465.4,724.4 465.7,681.3 466.3,702.1 466.7,679.2 467.1,708.3 467.5,682.3 467.9,699.1 468.1,650.7 468.3,705.7 468.7,683.1 469.2,648.5 469.4,733.4 469.7,702.0 470.2,677.2 470.6,702.5 471.0,672.3 471.6,665.2 471.8,709.2 472.0,700.0 472.5,669.7 472.9,708.9 473.4,681.1 473.7,698.8 474.0,710.6 474.2,671.4 474.4,675.7 474.9,698.7 475.3,679.3 475.7,704.6 476.1,681.1 476.4,678.0 476.6,711.1 476.8,649.4 477.1,728.9 477.3,702.3 477.8,684.0 478.3,672.2 478.5,694.1 478.7,703.3 479.2,686.7 479.6,707.3 480.1,687.5 480.6,664.9 480.8,722.2 481.0,699.4 481.6,685.5 482.2,701.5 482.6,687.6 483.0,707.3 483.2,694.4 483.4,706.1 483.9,688.1 484.4,705.0 484.8,700.6 485.0,689.0 485.2,694.1 485.7,704.5 486.3,713.2 486.5,684.7 486.8,691.5 487.3,703.1 487.8,692.5 488.3,709.9 488.5,694.9 488.7,703.6 489.1,690.8 489.7,702.5 490.1,716.3 490.3,681.0 490.5,719.9 490.7,678.1 490.9,697.2 491.5,710.9 491.8,697.3 492.2,714.3 492.6,699.0 493.2,704.8 493.3,726.1 493.5,725.0 493.9,710.0 494.5,746.2 494.7,693.4 494.9,726.1 495.4,706.6 495.8,721.8 496.4,741.7 496.6,676.8 496.8,688.5 497.3,712.4 497.9,686.0 498.4,723.6 498.9,664.2 499.0,744.0 499.2,753.6 499.5,629.6 499.7,676.8 500.2,715.8 500.6,665.6 501.2,709.6 501.7,658.6 501.9,720.6 502.1,663.5 502.7,724.4 502.9,634.1 503.1,688.8 503.5,663.0 504.0,692.6 504.4,678.8 504.7,704.2 505.3,714.5 505.5,663.7 505.7,671.5 506.0,707.9 506.6,685.0 507.0,667.1 507.2,700.5 507.4,714.1 508.0,683.5 508.3,744.0 508.6,653.9 508.8,710.9 509.3,689.0 509.7,709.5 510.2,675.9 510.4,748.0 510.6,679.6 511.2,713.7 511.7,677.1 512.3,695.7 512.4,748.4 512.6,729.1 513.0,670.0 513.4,733.8 514.0,687.6 514.4,704.1 514.6,637.4 514.8,737.3 515.3,786.9 515.5,622.0 515.7,677.5 516.3,716.4 516.7,678.5 516.8,736.5 517.0,678.8 517.5,706.2 518.0,686.3 518.4,673.3 518.6,725.1 518.8,702.7 519.2,676.9 519.7,702.4 520.1,683.0 520.7,663.8 520.9,710.9 521.2,693.6 521.5,685.8 522.0,698.0 522.5,685.1 523.0,697.9 523.4,705.1 523.6,691.3 523.8,690.0 524.2,698.8 524.7,689.7 525.3,699.5 525.8,700.7 526.0,691.6 526.2,692.3 526.6,699.4 527.0,704.2 527.2,689.1 527.4,693.7 528.0,696.5 528.6,693.4 529.2,695.9 530.1,694.1 531.1,696.2 531.6,693.8 532.2,695.4 532.8,693.8 533.4,695.5 534.0,692.4 534.7,696.8 535.2,692.8 536.0,697.4 536.9,692.8 537.5,696.9 538.4,693.9 539.1,696.2 539.6,694.2 540.2,695.4 540.8,694.0 541.4,695.4 541.9,692.4 542.6,697.4 543.4,692.9 544.0,697.1 544.7,692.1 545.2,696.1 545.8,692.9 546.3,696.3 547.0,692.5 547.9,696.3 548.6,693.3 549.4,696.1 550.0,692.7 550.9,697.0 551.4,693.8 552.3,695.5 552.9,692.3 553.8,697.2 554.7,694.0 555.5,695.4 556.4,693.1 556.9,697.2 557.6,694.0 558.3,695.4 559.2,692.3 559.9,695.8 560.9,693.0 561.5,695.9 562.3,692.2 563.0,696.4 563.5,693.0 564.1,695.4 565.0,692.5 565.7,697.4 566.6,692.1 567.1,697.1 568.0,695.2 568.3,688.5 568.5,706.4 568.8,701.8 569.3,684.8 569.7,702.4 569.9,690.8 570.1,696.3 570.4,675.6 570.9,698.9 571.3,677.1 571.8,721.5 572.0,645.8 572.2,698.3 572.7,676.5 573.0,707.6 573.4,688.7 573.9,716.1 574.0,680.3 574.2,706.8 574.8,685.6 575.2,713.9 575.6,671.2 575.9,745.5 576.1,696.0 576.6,721.8 577.1,688.4 577.5,702.5 577.7,722.0 577.9,721.7 578.4,694.4 578.9,708.8 579.2,690.2 579.6,718.6 580.1,686.4 580.3,736.1 580.5,663.5 580.8,735.7 581.0,685.3 581.4,710.2 581.8,690.3 582.1,711.9 582.4,689.6 582.9,717.8 583.1,672.4 583.3,712.3 583.7,682.4 584.1,709.3 584.5,682.1 584.9,673.4 585.1,714.5 585.3,705.3 585.7,683.0 586.3,700.5 586.7,710.6 586.9,663.9 587.1,679.4 587.6,703.9 588.1,721.5 588.3,655.7 588.5,682.2 589.1,707.8 589.5,679.3 590.0,702.9 590.2,669.1 590.4,703.9 590.9,678.6 591.4,709.9 591.9,728.3 592.1,688.6 592.3,689.4 592.6,708.5 593.2,736.2 593.4,696.9 593.6,681.8 593.9,660.2 594.2,743.5 594.4,704.0 594.8,687.1 595.2,711.1 595.6,661.4 595.8,709.2 596.0,679.1 596.4,699.9 596.8,674.5 597.2,691.8 597.7,719.3 598.0,640.4 598.2,683.1 598.5,714.7 599.0,692.6 599.4,662.4 599.6,764.2 599.9,730.0 600.2,702.5 600.5,726.7 600.9,693.9 601.5,717.8 602.0,688.5 602.2,728.0 602.4,694.2 602.8,707.5 603.1,693.3 603.7,710.5 603.9,679.9 604.2,701.9 604.6,690.3 605.1,699.6 605.6,689.7 606.1,683.5 606.3,701.0 606.5,699.2 607.0,692.7 607.5,700.8 607.9,692.1 608.3,684.2 608.6,706.2 608.8,701.8 609.1,688.9 609.5,698.4 610.0,686.4 610.4,683.0 610.6,708.3 610.8,706.0 611.3,691.2 611.8,704.5 612.0,674.9 612.2,704.1 612.6,684.0 613.1,701.4 613.5,685.3 613.9,701.3 614.5,699.4 614.6,673.2 614.8,732.5 615.1,659.0 615.3,681.7 615.8,708.0 616.3,692.9 616.8,719.5 617.3,666.5 617.5,724.8 617.7,689.9 618.2,723.5 618.5,694.6 618.9,683.7 619.1,742.8 619.3,722.9 619.7,688.6 620.1,728.1 620.6,734.4 620.8,676.5 621.0,697.0 621.3,762.2 621.6,666.7 621.8,735.7 622.2,694.9 622.8,721.4 623.4,726.9 623.6,676.2 623.8,692.8 624.1,718.0 624.5,684.2 625.0,704.2 625.2,658.7 625.4,717.6 625.9,681.3 626.3,707.9 626.8,644.9 627.1,736.8 627.3,674.3 627.7,712.6 628.0,681.8 628.6,706.7 628.9,677.8 629.4,638.3 629.6,754.2 629.8,708.8 630.1,684.8 630.6,631.6 630.9,763.1 631.1,714.0 631.6,673.2 631.9,701.7 632.3,698.5 632.5,661.4 632.7,678.5 633.2,696.7 633.5,710.5 633.8,671.2 634.0,683.5 634.3,696.8 634.8,686.2 635.3,700.7 635.5,677.4 635.7,695.8 636.3,684.6 636.6,695.5 637.1,712.7 637.2,679.0 637.4,684.2 637.9,701.9 638.4,695.5 638.6,673.2 638.8,682.0 639.2,720.4 639.4,656.8 639.7,696.4 640.0,677.2 640.5,696.9 641.0,677.3 641.5,678.6 641.7,700.0 641.9,702.5 642.2,687.0 642.6,707.7 643.0,682.0 643.4,705.0 643.8,727.4 643.9,692.5 644.1,681.6 644.7,709.1 645.1,730.3 645.3,666.7 645.6,690.1 646.0,706.5 646.5,690.9 647.0,701.4 647.5,689.6 647.7,711.5 647.9,693.0 648.5,702.3 648.8,694.5 649.3,708.2 649.6,688.5 649.8,700.3 650.4,694.1 650.7,700.0 651.2,690.5 651.7,695.4 651.9,686.2 652.1,695.6 652.6,690.4 653.2,696.4 653.7,682.2 654.0,702.0 654.2,689.3 654.7,695.1 655.2,690.9 655.6,691.2 655.8,695.8 656.0,695.6 656.4,692.8 657.3,697.3 657.9,691.8 658.7,697.0 659.2,692.0 659.9,695.3 660.7,692.9 661.4,695.2 662.1,693.1 663.0,695.3 663.9,691.2 664.7,697.3 665.6,693.4 666.2,697.1 666.7,692.7 667.5,696.4 668.3,691.1 668.9,697.3 669.4,690.8 670.3,696.7 670.8,690.9 671.6,695.7" stroke="#d80000" stroke-width="2.2"/>
<polyline points="82.6,695.4 83.4,696.8 84.3,695.2 85.3,696.5 86.0,696.8 86.9,695.7 87.6,694.8 88.3,694.0 88.9,692.2 89.6,695.0 90.5,693.8 91.1,700.6 91.3,692.5 91.5,700.8 91.9,693.3 92.1,706.2 92.4,698.9 92.7,704.8 93.1,687.9 93.3,721.4 93.5,692.5 94.0,696.9 94.6,678.7 95.1,676.6 95.6,676.9 95.8,664.9 96.0,656.0 96.4,663.9 96.9,674.0 97.1,624.3 97.4,640.8 97.8,651.2 98.4,630.9 98.9,641.5 99.5,613.8 99.7,642.7 99.9,622.4 100.2,644.7 100.7,627.9 101.2,633.5 101.6,652.4 101.9,601.8 102.1,632.0 102.6,647.3 103.0,638.6 103.4,661.2 103.8,638.8 104.0,673.1 104.2,655.9 104.7,668.6 105.1,646.8 105.3,686.3 105.6,656.9 106.1,665.9 106.5,646.8 106.8,658.9 107.2,645.1 107.7,625.3 108.0,665.0 108.2,658.0 108.6,647.9 109.0,667.2 109.3,654.9 109.9,651.5 110.1,678.5 110.3,682.0 110.9,669.9 111.4,686.3 111.9,701.6 112.2,660.5 112.4,678.4 112.8,692.5 113.3,682.0 113.9,687.3 114.1,676.6 114.3,693.6 114.6,685.0 115.2,698.2 115.6,693.2 116.0,685.4 116.2,705.8 116.5,699.6 116.9,691.5 117.2,704.3 117.8,690.5 118.2,702.9 118.6,705.4 118.8,691.9 119.0,691.0 119.3,705.6 119.8,694.5 120.2,692.0 120.4,707.9 120.6,682.0 120.8,716.4 121.0,699.7 121.5,688.5 122.1,702.4 122.6,687.5 123.0,694.4 123.5,686.7 123.7,701.0 123.9,679.6 124.3,704.2 124.6,669.1 124.8,692.1 125.2,684.2 125.7,700.7 126.0,694.3 126.2,715.2 126.4,691.9 126.7,712.0 127.3,699.9 127.7,694.1 127.9,721.4 128.1,723.5 128.4,704.4 128.9,740.5 129.1,683.7 129.3,723.4 129.8,703.0 130.4,708.5 130.9,702.6 131.3,708.4 131.5,689.5 131.7,708.0 132.2,697.0 132.6,706.6 133.0,688.4 133.2,722.6 133.4,695.0 133.7,677.3 133.9,722.2 134.2,700.2 134.7,688.9 135.1,711.0 135.3,688.4 135.5,697.4 135.9,690.8 136.4,686.4 136.5,704.4 136.7,697.2 137.3,688.5 137.7,684.8 137.9,698.2 138.1,694.8 138.5,688.9 138.9,693.0 139.4,700.5 139.7,679.6 139.9,687.8 140.3,693.4 140.8,687.4 141.1,693.8 141.7,687.3 141.9,695.2 142.1,691.3 142.5,695.0 142.9,690.9 143.4,695.1 143.9,687.1 144.1,696.5 144.3,693.2 144.8,697.9 145.1,687.6 145.3,693.5 145.7,684.2 146.2,691.4 146.7,680.3 147.2,680.3 147.4,688.6 147.6,684.2 148.0,677.5 148.5,678.1 149.0,675.9 149.4,674.4 149.5,659.8 149.7,680.7 150.1,653.8 150.3,686.2 150.6,663.9 151.1,676.7 151.5,668.0 152.0,684.5 152.5,652.1 152.6,690.8 152.8,663.6 153.2,631.8 153.4,724.1 153.7,699.0 154.2,672.0 154.6,687.0 154.8,713.0 155.0,700.8 155.4,690.7 155.7,708.8 156.3,698.4 156.8,688.7 157.0,715.0 157.2,705.5 157.6,695.0 157.9,706.3 158.3,699.8 158.9,691.5 159.0,715.3 159.2,709.5 159.8,698.8 160.2,710.6 160.7,692.9 160.9,709.4 161.1,700.3 161.5,713.5 161.9,701.5 162.4,687.2 162.6,723.8 162.9,711.0 163.4,696.8 163.9,711.0 164.3,698.9 164.8,711.7 165.0,696.1 165.2,705.0 165.8,692.5 166.4,699.5 166.8,691.2 167.1,684.3 167.3,701.7 167.5,698.1 168.1,708.7 168.3,682.7 168.5,687.8 169.0,703.1 169.4,691.3 169.9,698.7 170.4,684.6 170.6,703.8 170.8,693.1 171.3,698.7 171.7,683.9 172.3,702.6 172.5,676.9 172.7,697.9 173.1,683.2 173.4,697.6 173.9,716.1 174.2,670.7 174.4,682.5 174.8,702.4 175.3,678.9 175.6,701.3 176.0,680.4 176.2,712.3 176.4,686.8 177.0,695.8 177.4,687.0 177.8,705.1 178.3,676.4 178.7,706.6 178.9,676.3 179.1,703.4 179.5,681.8 180.0,702.8 180.5,676.5 180.9,692.7 181.4,699.3 181.6,651.3 181.8,649.4 182.1,723.0 182.3,675.6 182.6,700.0 183.2,689.7 183.7,711.2 183.8,692.9 184.1,714.0 184.5,689.6 184.9,700.4 185.2,714.6 185.4,680.6 185.6,689.6 186.1,707.0 186.6,713.1 186.8,677.2 187.0,692.0 187.4,729.5 187.6,666.7 187.8,709.1 188.2,682.1 188.6,699.1 189.1,708.8 189.3,682.1 189.5,676.1 190.0,688.6 190.6,669.6 191.2,660.9 191.4,684.5 191.6,676.3 192.0,685.9 192.3,650.0 192.5,661.8 192.9,672.1 193.3,655.5 193.8,666.2 194.2,658.3 194.7,676.3 194.9,652.9 195.1,666.3 195.6,658.8 196.1,649.8 196.3,675.1 196.5,666.7 196.9,656.7 197.4,667.0 197.9,638.5 198.1,678.9 198.3,657.0 198.8,673.0 199.3,669.3 199.7,667.3 199.9,686.3 200.1,688.3 200.7,682.8 201.1,689.9 201.3,700.2 201.5,700.3 201.9,708.1 202.1,687.6 202.3,694.4 202.8,703.1 203.2,695.3 203.6,702.4 204.1,695.5 204.6,709.5 204.8,695.0 205.0,706.2 205.5,698.6 205.9,702.5 206.3,697.7 206.8,709.7 207.0,690.7 207.2,707.0 207.8,692.5 208.0,718.2 208.2,699.7 208.6,713.7 209.0,696.4 209.5,709.9 210.0,709.9 210.2,692.5 210.4,702.1 210.8,719.8 211.4,700.4 212.0,729.1 212.5,692.1 212.7,727.3 212.9,748.2 213.1,674.4 213.4,698.6 213.7,718.9 214.2,693.0 214.6,668.6 214.8,720.8 215.0,707.3 215.6,671.7 216.1,690.2 216.6,712.9 216.8,642.4 217.0,673.6 217.4,687.9 218.0,677.0 218.4,695.1 218.9,664.2 219.1,692.6 219.3,680.0 219.7,699.4 220.2,685.6 220.7,710.8 221.1,693.3 221.7,688.2 221.9,715.4 222.1,725.9 222.3,684.2 222.5,711.5 222.9,695.5 223.4,705.8 223.8,693.8 224.3,681.2 224.5,708.2 224.7,693.3 225.1,683.6 225.5,691.8 225.8,690.5 226.0,675.0 226.2,677.8 226.6,687.9 227.0,672.0 227.5,690.5 227.7,665.5 227.9,680.5 228.3,666.3 228.7,672.8 229.2,653.1 229.4,666.0 229.6,658.3 230.0,669.7 230.5,658.7 231.1,673.9 231.3,642.3 231.6,666.3 232.1,655.5 232.6,669.1 233.2,657.6 233.4,668.9 233.6,664.2 234.0,678.8 234.5,675.1 235.1,678.9 235.6,691.0 235.8,674.4 236.0,679.9 236.5,696.7 236.7,669.8 236.9,691.3 237.5,683.3 237.8,692.1 238.2,685.4 238.7,686.1 238.9,695.0 239.1,699.1 239.5,694.2 240.1,701.7 240.4,710.5 240.7,687.9 240.9,697.5 241.2,704.1 241.8,697.3 242.2,702.1 242.7,695.8 243.1,707.8 243.3,701.4 243.5,709.2 244.1,699.5 244.6,709.0 245.2,692.1 245.4,706.8 245.6,700.2 246.0,704.2 246.6,697.6 247.0,706.6 247.5,691.3 247.7,716.6 248.0,697.7 248.4,709.0 249.0,699.7 249.6,713.3 249.7,704.7 249.9,712.3 250.4,699.7 250.8,707.2 251.1,698.8 251.6,688.3 251.8,712.3 252.0,704.5 252.4,696.6 252.8,710.0 253.3,678.5 253.5,725.0 253.8,697.8 254.2,713.4 254.6,704.4 255.1,720.5 255.6,696.4 255.7,725.2 255.9,700.2 256.4,722.7 256.8,706.3 257.2,722.4 257.8,697.8 257.9,742.3 258.1,683.4 258.4,750.8 258.6,711.0 259.1,720.9 259.7,709.3 260.2,723.3 260.8,686.7 261.0,724.0 261.2,695.9 261.7,709.4 262.1,694.3 262.7,706.7 263.1,693.1 263.6,674.8 263.8,716.3 264.0,706.9 264.5,691.0 264.9,703.9 265.2,688.0 265.4,699.3 265.6,718.8 265.9,675.3 266.1,693.7 266.5,700.0 266.9,687.1 267.5,707.3 267.7,695.8 267.9,709.5 268.3,689.9 268.6,703.8 269.2,707.0 269.3,688.7 269.6,690.9 269.9,704.3 270.3,692.0 270.7,678.6 270.9,723.5 271.1,707.9 271.5,691.6 271.8,708.8 272.3,685.4 272.7,682.0 272.9,706.1 273.1,702.6 273.6,683.8 274.1,703.7 274.5,678.2 274.6,706.3 274.8,717.3 275.1,659.3 275.3,681.0 275.7,703.3 276.1,676.8 276.5,701.0 276.9,714.5 277.1,675.3 277.3,687.0 277.7,705.8 278.0,684.1 278.6,703.0 279.0,695.1 279.5,679.4 279.8,721.9 280.0,702.0 280.6,693.9 281.0,703.0 281.4,694.4 282.0,718.9 282.1,675.5 282.4,707.8 282.8,690.0 283.2,704.9 283.7,670.4 284.0,720.7 284.2,689.9 284.7,706.3 285.1,682.0 285.6,699.0 285.8,675.2 286.0,696.8 286.3,680.7 286.8,699.1 287.3,667.7 287.9,689.7 288.1,656.4 288.3,711.9 288.5,646.0 288.7,691.3 289.3,668.4 289.6,689.8 290.1,664.5 290.5,677.9 290.9,693.6 291.1,651.1 291.3,657.2 291.8,683.7 292.3,638.6 292.7,632.6 292.9,668.7 293.1,670.6 293.5,649.3 293.9,611.9 294.1,703.5 294.3,665.3 294.7,644.2 295.1,660.5 295.5,648.3 296.0,640.3 296.2,665.9 296.4,660.9 296.8,650.2 297.2,665.3 297.4,640.9 297.7,658.0 298.2,647.4 298.8,655.6 299.3,641.7 299.8,649.3 300.0,658.7 300.2,654.7 300.7,644.9 301.2,626.8 301.4,673.8 301.6,667.6 302.1,658.8 302.5,680.0 303.0,666.5 303.5,695.7 303.7,662.9 304.0,688.1 304.4,678.4 304.8,684.2 305.3,696.5 305.5,682.9 305.7,682.9 306.1,692.0 306.4,686.3 306.8,691.5 307.3,684.0 307.5,704.9 307.7,690.0 308.1,699.2 308.5,688.4 308.8,695.6 309.2,691.9 309.8,703.9 310.0,692.6 310.2,705.8 310.6,689.5 310.9,711.6 311.1,699.9 311.4,709.4 311.9,701.0 312.3,714.9 312.5,701.8 312.7,711.7 313.3,710.4 313.6,702.4 313.8,725.3 314.1,716.2 314.6,706.8 315.0,715.7 315.3,705.2 315.5,714.9 315.7,709.6 316.1,712.6 316.5,708.7 316.8,716.9 317.0,699.5 317.2,714.3 317.6,706.0 318.0,711.7 318.6,706.4 319.0,697.0 319.2,721.3 319.5,716.6 320.1,709.3 320.4,722.4 320.7,709.5 321.0,725.7 321.5,735.9 321.7,705.8 321.9,713.9 322.3,731.4 322.7,717.5 323.0,698.8 323.3,754.4 323.5,731.2 324.0,715.4 324.5,736.4 324.7,694.5 324.9,719.4 325.4,698.6 325.8,708.4 326.1,720.1 326.3,685.6 326.5,687.6 326.8,715.5 327.1,653.4 327.3,713.7 327.8,706.9 328.4,729.6 328.8,751.9 329.0,717.0 329.3,726.0 329.6,749.5 330.2,765.0 330.4,716.5 330.6,736.7 331.1,748.1 331.7,726.9 332.1,722.2 332.3,742.3 332.5,747.9 332.9,715.0 333.1,764.2 333.4,737.3 333.8,759.6 334.3,738.5 334.9,762.2 335.2,747.1 335.7,738.7 335.9,788.0 336.1,793.5 336.4,718.7 336.6,768.4 337.1,734.4 337.5,753.6 337.9,741.0 338.4,719.4 338.6,764.4 338.9,750.7 339.4,736.8 339.9,750.9 340.3,731.6 340.8,716.1 341.0,757.2 341.2,720.1 341.4,761.9 341.6,753.9 342.0,737.0 342.5,746.1 342.9,733.3 343.3,758.0 343.5,725.3 343.7,751.8 344.2,735.8 344.7,769.9 345.0,718.4 345.2,740.1 345.6,719.6 346.1,733.6 346.5,705.8 347.0,678.9 347.1,741.4 347.3,665.5 347.6,763.2 347.8,724.1 348.3,689.2 348.8,722.0 349.3,672.5 349.5,735.6 349.7,685.8 350.3,707.9 350.7,677.8 351.2,658.7 351.4,718.8 351.7,690.6 352.0,676.2 352.4,696.5 353.0,675.4 353.6,700.2 354.1,706.4 354.3,669.9 354.5,682.4 354.8,694.0 355.4,673.2 355.9,711.2 356.0,663.7 356.2,692.8 356.8,675.8 357.2,670.1 357.4,697.7 357.6,699.0 358.1,676.8 358.4,699.9 359.0,698.8 359.1,661.3 359.4,712.0 359.6,654.0 359.8,674.8 360.4,693.7 360.7,670.7 361.1,663.1 361.3,695.1 361.5,692.4 362.0,671.4 362.6,692.2 363.1,662.3 363.3,700.8 363.5,677.9 364.0,698.6 364.3,681.1 364.7,691.1 365.0,676.3 365.5,698.7 365.7,672.4 365.9,703.6 366.3,684.9 366.7,697.7 367.2,709.3 367.4,670.2 367.6,713.1 367.8,667.2 368.1,681.1 368.6,699.4 369.2,684.5 369.8,702.1 370.3,713.4 370.5,669.1 370.7,686.2 371.1,706.7 371.5,668.5 371.7,718.6 371.9,699.4 372.2,714.9 372.8,689.7 373.2,718.2 373.7,756.4 373.9,660.9 374.1,699.0 374.7,714.2 375.2,678.6 375.8,727.3 376.0,669.5 376.2,706.1 376.7,695.6 377.1,689.3 377.3,730.6 377.5,711.8 377.9,692.6 378.2,701.6 378.7,724.1 379.0,665.1 379.2,687.1 379.6,706.1 380.0,683.0 380.4,717.7 380.6,680.6 380.8,705.7 381.3,682.5 381.6,702.6 382.0,686.8 382.3,697.6 382.7,719.2 382.9,667.5 383.1,687.8 383.5,701.9 384.1,686.3 384.4,697.6 385.0,678.7 385.2,706.4 385.4,682.7 385.7,695.7 386.1,690.6 386.4,698.6 386.9,685.8 387.3,705.9 387.5,694.3 387.7,665.0 387.9,723.7 388.1,699.2 388.6,690.3 389.0,705.1 389.6,685.4 389.8,721.7 390.0,695.0 390.4,711.0 390.9,721.5 391.1,688.8 391.3,689.9 391.9,709.2 392.3,689.3 392.6,707.6 393.1,677.4 393.4,727.0 393.6,695.1 393.9,711.7 394.5,688.1 395.0,683.1 395.2,715.4 395.4,705.3 395.7,687.6 396.1,701.3 396.5,686.0 397.0,697.8 397.5,717.3 397.7,657.0 398.0,674.5 398.4,697.6 398.8,674.9 399.4,695.0 399.8,677.4 400.3,668.5 400.5,723.7 400.7,702.8 401.3,670.2 401.9,729.3 402.1,645.5 402.4,692.6 402.7,676.4 403.3,694.9 403.4,668.7 403.6,704.3 404.1,674.0 404.7,697.9 405.2,702.4 405.4,658.6 405.6,679.4 405.9,699.9 406.4,686.8 406.9,729.0 407.1,665.5 407.3,709.8 407.9,694.1 408.4,718.6 408.9,692.6 409.1,733.0 409.3,704.9 409.8,725.1 410.3,695.0 410.5,721.5 410.7,703.5 411.2,745.3 411.5,683.1 411.7,722.7 412.2,697.5 412.5,709.3 413.0,681.1 413.2,715.4 413.4,687.0 413.9,699.7 414.3,680.8 414.7,694.9 415.2,648.6 415.4,715.3 415.7,664.9 416.1,686.0 416.6,674.5 417.1,687.6 417.5,688.5 417.7,648.8 417.9,669.8 418.3,694.0 418.7,667.4 419.2,694.4 419.6,708.0 419.8,663.2 420.0,671.0 420.5,694.0 420.8,711.9 421.1,647.7 421.3,673.2 421.7,693.2 422.2,677.0 422.7,679.9 422.9,695.5 423.1,689.8 423.7,698.5 423.9,680.2 424.1,689.9 424.6,693.2 425.1,694.1 425.9,694.2 426.7,692.0 427.2,696.5 427.7,692.3 428.6,696.2 429.5,691.7 430.4,692.8 431.3,691.3 432.1,695.6 432.6,691.1 433.4,695.7 434.1,693.2 435.0,694.1 435.5,692.7 436.2,694.6 436.8,691.1 437.5,692.6 438.0,692.0 439.0,694.0 439.5,693.2 440.0,697.0 440.8,691.4 441.6,697.4 442.0,706.1 442.2,674.1 442.4,686.8 442.8,696.5 443.3,684.7 443.8,695.6 444.2,702.0 444.4,673.3 444.6,688.8 445.2,703.4 445.6,681.2 445.8,709.1 446.0,685.8 446.6,703.1 447.1,691.2 447.3,709.5 447.5,677.8 447.7,713.2 447.9,690.6 448.5,701.1 448.9,687.8 449.4,700.4 450.0,673.1 450.2,735.7 450.4,629.5 450.6,834.4 450.9,682.8 451.3,707.5 451.7,693.4 452.3,696.2 452.8,716.9 453.0,666.6 453.2,680.3 453.5,699.6 453.9,680.4 454.4,669.1 454.7,716.5 454.9,700.6 455.4,677.5 455.9,704.9 456.3,676.4 456.5,698.9 456.7,680.6 457.1,703.0 457.5,675.8 457.9,702.5 458.3,680.4 458.8,660.5 459.0,710.1 459.2,700.2 459.7,675.3 460.1,726.3 460.3,657.9 460.6,705.4 460.9,676.2 461.2,701.0 461.7,683.9 462.1,704.6 462.6,715.8 462.7,665.4 462.9,676.9 463.4,696.9 463.9,679.7 464.5,696.7 464.8,703.4 465.0,672.0 465.2,662.0 465.4,713.8 465.7,682.6 466.3,699.2 466.7,684.8 467.1,701.6 467.5,686.5 467.9,696.1 468.1,661.7 468.3,700.4 468.7,685.5 469.2,660.0 469.4,721.3 469.7,699.2 470.2,679.6 470.6,702.2 471.0,676.6 471.6,671.4 471.8,702.6 472.0,698.3 472.5,674.5 472.9,705.8 473.4,684.0 473.7,695.6 474.0,705.4 474.2,677.1 474.4,682.8 474.9,694.5 475.3,678.8 475.7,701.0 476.1,681.2 476.4,680.8 476.6,705.6 476.8,662.0 477.1,716.5 477.3,700.0 477.8,686.4 478.3,680.0 478.5,694.7 478.7,700.3 479.2,686.5 479.6,703.0 480.1,691.0 480.6,673.6 480.8,714.5 481.0,699.4 481.6,687.3 482.2,702.3 482.6,689.4 483.0,706.6 483.2,696.6 483.4,703.0 483.9,690.8 484.4,702.0 484.8,700.0 485.0,689.8 485.2,695.5 485.7,701.8 486.3,709.2 486.5,689.5 486.8,692.5 487.3,700.2 487.8,696.0 488.3,707.0 488.5,694.9 488.7,702.9 489.1,692.4 489.7,704.2 490.1,710.9 490.3,686.1 490.5,714.1 490.7,685.5 490.9,698.0 491.5,706.3 491.8,699.4 492.2,712.2 492.6,702.9 493.2,706.9 493.3,721.6 493.5,720.2 493.9,713.1 494.5,737.5 494.7,701.9 494.9,724.2 495.4,709.9 495.8,716.0 496.4,731.9 496.6,686.4 496.8,696.2 497.3,709.6 497.9,687.6 498.4,720.7 498.9,677.1 499.0,730.6 499.2,738.4 499.5,647.9 499.7,684.4 500.2,705.3 500.6,670.6 501.2,702.5 501.7,667.6 501.9,708.9 502.1,669.8 502.7,710.1 502.9,649.8 503.1,686.1 503.5,668.4 504.0,690.4 504.4,681.7 504.7,697.0 505.3,706.6 505.5,671.0 505.7,677.6 506.0,699.4 506.6,685.8 507.0,674.3 507.2,700.6 507.4,708.6 508.0,687.6 508.3,728.3 508.6,669.6 508.8,703.7 509.3,694.7 509.7,706.3 510.2,682.8 510.4,731.1 510.6,686.2 511.2,710.3 511.7,688.8 512.3,698.0 512.4,737.7 512.6,722.0 513.0,682.7 513.4,724.0 514.0,691.7 514.4,705.4 514.6,656.6 514.8,724.9 515.3,760.5 515.5,644.9 515.7,686.1 516.3,710.6 516.7,681.8 516.8,725.1 517.0,684.8 517.5,704.3 518.0,690.7 518.4,681.1 518.6,718.2 518.8,699.7 519.2,679.8 519.7,701.1 520.1,684.4 520.7,670.1 520.9,705.0 521.2,689.7 521.5,687.5 522.0,697.5 522.5,689.2 523.0,697.8 523.4,702.1 523.6,691.6 523.8,692.2 524.2,698.3 524.7,691.2 525.3,697.3 525.8,701.4 526.0,692.4 526.2,694.7 526.6,697.9 527.0,700.8 527.2,692.8 527.4,693.3 528.0,696.2 528.6,694.4 529.2,693.7 530.1,696.0 531.1,697.6 531.6,694.1 532.2,694.8 532.8,694.5 533.4,694.7 534.0,696.0 534.7,695.2 535.2,693.4 536.0,698.0 536.9,695.1 537.5,696.0 538.4,694.0 539.1,696.7 539.6,694.5 540.2,695.3 540.8,693.3 541.4,696.3 541.9,692.1 542.6,696.5 543.4,693.6 544.0,695.8 544.7,693.6 545.2,697.2 545.8,695.4 546.3,694.6 547.0,695.3 547.9,694.7 548.6,694.7 549.4,694.5 550.0,694.5 550.9,696.0 551.4,694.0 552.3,694.5 552.9,693.7 553.8,696.0 554.7,692.6 555.5,696.9 556.4,692.6 556.9,697.6 557.6,693.2 558.3,695.6 559.2,691.5 559.9,695.6 560.9,694.1 561.5,694.2 562.3,693.2 563.0,696.0 563.5,692.5 564.1,693.5 565.0,692.3 565.7,698.8 566.6,692.3 567.1,696.4 568.0,694.8 568.3,689.3 568.5,702.3 568.8,699.4 569.3,685.8 569.7,700.0 569.9,692.1 570.1,695.6 570.4,681.7 570.9,694.2 571.3,680.2 571.8,708.8 572.0,658.8 572.2,695.7 572.7,679.8 573.0,701.8 573.4,689.6 573.9,712.1 574.0,687.5 574.2,703.6 574.8,691.9 575.2,709.3 575.6,681.4 575.9,732.5 576.1,699.8 576.6,718.2 577.1,696.7 577.5,702.0 577.7,718.2 577.9,715.3 578.4,699.4 578.9,709.5 579.2,695.4 579.6,711.8 580.1,694.0 580.3,726.5 580.5,675.3 580.8,725.6 581.0,691.5 581.4,705.7 581.8,694.8 582.1,707.2 582.4,693.5 582.9,711.2 583.1,681.1 583.3,705.6 583.7,689.0 584.1,704.1 584.5,685.8 584.9,680.3 585.1,708.2 585.3,703.2 585.7,685.2 586.3,696.7 586.7,705.4 586.9,670.7 587.1,682.9 587.6,701.9 588.1,711.9 588.3,665.8 588.5,685.3 589.1,702.0 589.5,680.9 590.0,699.0 590.2,674.8 590.4,701.2 590.9,684.4 591.4,703.6 591.9,721.6 592.1,695.9 592.3,695.9 592.6,710.1 593.2,723.1 593.4,698.9 593.6,686.3 593.9,673.6 594.2,731.2 594.4,699.9 594.8,689.3 595.2,706.8 595.6,671.6 595.8,703.9 596.0,681.7 596.4,697.4 596.8,677.9 597.2,688.2 597.7,710.6 598.0,654.1 598.2,686.2 598.5,707.6 599.0,692.6 599.4,675.6 599.6,749.2 599.9,724.0 600.2,705.6 600.5,724.0 600.9,700.2 601.5,714.3 602.0,693.0 602.2,722.7 602.4,698.2 602.8,706.2 603.1,697.2 603.7,706.4 603.9,687.7 604.2,700.3 604.6,690.3 605.1,696.4 605.6,690.5 606.1,686.2 606.3,698.3 606.5,697.5 607.0,692.3 607.5,698.7 607.9,691.8 608.3,686.3 608.6,702.1 608.8,701.1 609.1,689.7 609.5,697.5 610.0,689.9 610.4,687.6 610.6,704.1 610.8,702.1 611.3,693.0 611.8,703.2 612.0,681.8 612.2,701.1 612.6,686.5 613.1,697.0 613.5,687.3 613.9,702.1 614.5,697.0 614.6,677.9 614.8,722.0 615.1,670.5 615.3,685.7 615.8,703.0 616.3,692.6 616.8,711.2 617.3,677.8 617.5,717.9 617.7,694.1 618.2,716.5 618.5,699.6 618.9,690.0 619.1,736.2 619.3,722.2 619.7,695.0 620.1,722.9 620.6,729.3 620.8,686.3 621.0,701.5 621.3,747.4 621.6,679.1 621.8,730.7 622.2,700.8 622.8,714.8 623.4,723.7 623.6,684.9 623.8,698.9 624.1,710.7 624.5,686.8 625.0,697.9 625.2,670.5 625.4,707.8 625.9,683.7 626.3,701.5 626.8,660.8 627.1,721.9 627.3,683.7 627.7,705.6 628.0,685.1 628.6,703.3 628.9,684.9 629.4,654.5 629.6,735.0 629.8,704.3 630.1,687.3 630.6,654.3 630.9,743.2 631.1,709.2 631.6,680.4 631.9,700.3 632.3,694.4 632.5,670.5 632.7,681.5 633.2,693.7 633.5,704.0 633.8,675.7 634.0,688.5 634.3,693.1 634.8,687.3 635.3,695.4 635.5,681.1 635.7,695.3 636.3,688.9 636.6,695.4 637.1,706.3 637.2,684.3 637.4,685.6 637.9,699.9 638.4,693.1 638.6,677.8 638.8,683.9 639.2,711.2 639.4,666.2 639.7,693.1 640.0,679.9 640.5,694.1 641.0,681.0 641.5,683.4 641.7,695.8 641.9,698.5 642.2,690.0 642.6,706.4 643.0,688.9 643.4,702.9 643.8,722.7 643.9,696.2 644.1,686.0 644.7,708.9 645.1,720.2 645.3,676.4 645.6,693.3 646.0,705.0 646.5,690.8 647.0,701.9 647.5,691.6 647.7,706.3 647.9,695.0 648.5,700.6 648.8,698.5 649.3,705.9 649.6,694.4 649.8,698.7 650.4,693.8 650.7,699.9 651.2,691.7 651.7,695.2 651.9,690.7 652.1,694.7 652.6,691.1 653.2,694.0 653.7,685.7 654.0,698.5 654.2,688.2 654.7,693.1 655.2,692.9 655.6,691.2 655.8,693.4 656.0,692.0 656.4,692.5 657.3,695.2 657.9,691.6 658.7,693.8 659.2,691.7 659.9,693.7 660.7,694.4 661.4,695.1 662.1,695.2 663.0,695.9 663.9,691.9 664.7,695.1 665.6,692.6 666.2,695.7 666.7,691.0 667.5,697.2 668.3,692.1 668.9,694.5 669.4,691.4 670.3,695.7 670.8,690.9 671.6,696.1" stroke="#000" stroke-width="0.7" stroke-opacity="0.6"/>
</g>
<g stroke-width="1.1" fill="none"><line x1="83.0" y1="560.5" x2="707.0" y2="560.5" stroke="#888"/><line x1="706.5" y1="560.5" x2="706.5" y2="920.5" stroke="#888"/><line x1="83.0" y1="920.5" x2="707.0" y2="920.5" stroke="#888"/><line x1="83.5" y1="560.5" x2="83.5" y2="920.5" stroke="#999"/></g>
<g fill="#000"><text transform="translate(66.06,567.96) scale(1.0900,1)" font-family='"Liberation Sans", sans-serif' font-size="22.00" font-weight="normal" fill="#000">6</text><text transform="translate(65.70,612.90) scale(1.0900,1)" font-family='"Liberation Sans", sans-serif' font-size="22.00" font-weight="normal" fill="#000">4</text><text transform="translate(66.24,657.95) scale(1.0900,1)" font-family='"Liberation Sans", sans-serif' font-size="22.00" font-weight="normal" fill="#000">2</text><text transform="translate(65.94,702.77) scale(1.0900,1)" font-family='"Liberation Sans", sans-serif' font-size="22.00" font-weight="normal" fill="#000">0</text><text transform="translate(58.27,747.82) scale(1.0900,1)" font-family='"Liberation Sans", sans-serif' font-size="22.00" font-weight="normal" fill="#000">-2</text><text transform="translate(57.73,792.65) scale(1.0900,1)" font-family='"Liberation Sans", sans-serif' font-size="22.00" font-weight="normal" fill="#000">-4</text><text transform="translate(58.09,837.59) scale(1.0900,1)" font-family='"Liberation Sans", sans-serif' font-size="22.00" font-weight="normal" fill="#000">-6</text><text transform="translate(58.09,882.52) scale(1.0900,1)" font-family='"Liberation Sans", sans-serif' font-size="22.00" font-weight="normal" fill="#000">-8</text><text transform="translate(44.60,927.46) scale(1.0900,1)" font-family='"Liberation Sans", sans-serif' font-size="22.00" font-weight="normal" fill="#000">-10</text><text transform="translate(76.92,942.34) scale(1.0900,1)" font-family='"Liberation Sans", sans-serif' font-size="22.00" font-weight="normal" fill="#000">0</text><text transform="translate(148.21,942.34) scale(1.0900,1)" font-family='"Liberation Sans", sans-serif' font-size="22.00" font-weight="normal" fill="#000">50</text><text transform="translate(219.06,942.34) scale(1.0900,1)" font-family='"Liberation Sans", sans-serif' font-size="22.00" font-weight="normal" fill="#000">100</text><text transform="translate(297.01,942.34) scale(1.0900,1)" font-family='"Liberation Sans", sans-serif' font-size="22.00" font-weight="normal" fill="#000">150</text><text transform="translate(375.26,942.34) scale(1.0900,1)" font-family='"Liberation Sans", sans-serif' font-size="22.00" font-weight="normal" fill="#000">200</text><text transform="translate(453.21,942.34) scale(1.0900,1)" font-family='"Liberation Sans", sans-serif' font-size="22.00" font-weight="normal" fill="#000">250</text><text transform="translate(531.31,942.34) scale(1.0900,1)" font-family='"Liberation Sans", sans-serif' font-size="22.00" font-weight="normal" fill="#000">300</text><text transform="translate(609.26,942.34) scale(1.0900,1)" font-family='"Liberation Sans", sans-serif' font-size="22.00" font-weight="normal" fill="#000">350</text><text transform="translate(687.39,942.34) scale(1.0900,1)" font-family='"Liberation Sans", sans-serif' font-size="22.00" font-weight="normal" fill="#000">400</text></g>
<g stroke-width="1" stroke-dasharray="7 6.6" fill="none"><line x1="146.5" y1="1418.3" x2="146.5" y2="1056.5" stroke="#707070"/><line x1="225.5" y1="1418.3" x2="225.5" y2="1056.5" stroke="#707070"/><line x1="304.5" y1="1418.3" x2="304.5" y2="1056.5" stroke="#707070"/><line x1="383.5" y1="1418.3" x2="383.5" y2="1056.5" stroke="#707070"/><line x1="461.5" y1="1418.3" x2="461.5" y2="1056.5" stroke="#707070"/><line x1="540.5" y1="1418.3" x2="540.5" y2="1056.5" stroke="#707070"/><line x1="619.5" y1="1418.3" x2="619.5" y2="1056.5" stroke="#707070"/><line x1="68.7" y1="1116.5" x2="698.2" y2="1116.5" stroke="#5a5a5a"/><line x1="68.7" y1="1176.5" x2="698.2" y2="1176.5" stroke="#5a5a5a"/><line x1="68.7" y1="1237.5" x2="698.2" y2="1237.5" stroke="#5a5a5a"/><line x1="68.7" y1="1297.5" x2="698.2" y2="1297.5" stroke="#5a5a5a"/><line x1="68.7" y1="1358.5" x2="698.2" y2="1358.5" stroke="#5a5a5a"/></g>
<clipPath id="c2"><rect x="68.7" y="1056.5" width="629.5" height="361.8"/></clipPath>
<g clip-path="url(#c2)" fill="none" stroke-linejoin="round">
<polyline points="67.3,1234.2 68.2,1240.6 68.9,1234.3 69.8,1238.6 70.5,1234.4 71.4,1241.5 71.9,1233.7 72.9,1240.4 73.4,1234.3 73.9,1240.1 74.6,1234.1 75.2,1240.2 75.5,1226.9 75.7,1250.2 75.9,1227.8 76.3,1241.1 76.6,1229.4 77.1,1263.2 77.3,1203.4 77.5,1244.0 78.0,1221.9 78.4,1245.4 79.0,1214.9 79.5,1247.0 79.9,1235.3 80.1,1250.0 80.3,1225.8 80.7,1245.2 81.1,1223.0 81.6,1240.9 81.9,1254.6 82.1,1186.2 82.3,1217.0 82.7,1242.2 83.1,1208.6 83.6,1172.6 83.8,1254.2 84.1,1253.5 84.4,1203.8 84.8,1258.1 85.2,1212.7 85.5,1160.2 85.8,1308.5 86.0,1266.4 86.6,1207.0 87.0,1253.8 87.4,1204.9 87.6,1272.1 87.8,1225.8 88.3,1255.0 88.7,1228.3 89.1,1183.2 89.3,1270.7 89.5,1253.2 89.9,1213.4 90.3,1252.3 90.6,1224.1 91.0,1263.1 91.2,1214.6 91.4,1272.0 91.6,1192.2 91.9,1252.8 92.3,1214.7 92.7,1249.1 93.0,1212.2 93.4,1252.7 93.8,1256.7 94.0,1193.7 94.2,1219.0 94.6,1250.8 95.0,1221.6 95.4,1202.0 95.6,1280.0 95.8,1156.9 96.0,1315.2 96.3,1266.7 96.7,1207.5 97.1,1247.9 97.6,1210.9 98.0,1281.0 98.2,1172.5 98.4,1254.7 98.9,1159.3 99.2,1282.9 99.4,1217.2 99.7,1258.5 100.1,1216.0 100.4,1208.7 100.6,1270.6 100.8,1253.2 101.3,1214.2 101.8,1243.8 102.2,1221.4 102.6,1249.1 103.1,1260.7 103.3,1215.7 103.5,1269.9 103.7,1198.9 104.0,1226.7 104.4,1244.4 105.0,1225.8 105.4,1220.4 105.6,1260.6 105.8,1251.7 106.2,1226.2 106.8,1274.1 107.0,1203.4 107.2,1245.6 107.6,1226.1 108.0,1255.8 108.6,1273.6 108.7,1190.6 109.0,1229.2 109.5,1246.6 109.9,1214.4 110.3,1194.3 110.5,1277.7 110.7,1265.0 111.2,1294.0 111.4,1175.9 111.7,1211.3 112.1,1260.7 112.6,1206.7 112.9,1257.0 113.4,1209.6 113.8,1276.5 114.0,1160.2 114.2,1246.4 114.6,1210.8 115.0,1247.9 115.5,1217.8 116.0,1267.2 116.2,1209.7 116.4,1248.5 116.9,1214.6 117.2,1247.8 117.7,1267.5 117.9,1194.7 118.1,1224.4 118.7,1246.6 119.0,1230.5 119.5,1248.9 120.0,1222.1 120.6,1250.2 120.8,1212.6 121.0,1247.2 121.5,1225.1 121.9,1241.7 122.3,1232.5 122.9,1219.0 123.1,1242.2 123.3,1252.1 123.5,1216.7 123.7,1242.5 124.1,1232.6 124.5,1239.2 125.0,1232.4 125.5,1233.3 125.7,1244.7 125.9,1242.2 126.3,1234.4 126.7,1240.6 127.1,1229.6 127.3,1240.3 127.5,1233.7 128.1,1240.6 128.5,1235.8 128.9,1245.4 129.2,1232.1 129.4,1242.0 129.8,1233.4 130.3,1244.4 130.8,1230.3 131.0,1248.1 131.2,1234.0 131.6,1247.4 132.1,1229.4 132.5,1246.3 132.9,1227.4 133.4,1263.2 133.7,1216.7 133.9,1251.6 134.3,1225.8 134.9,1245.9 135.3,1230.0 135.8,1258.7 136.2,1236.5 136.4,1269.0 136.6,1216.2 137.1,1256.5 137.6,1213.5 138.1,1264.1 138.5,1126.1 138.8,1311.9 139.0,1216.9 139.5,1261.2 140.0,1213.7 140.6,1224.2 140.8,1273.7 141.0,1254.7 141.4,1227.2 141.7,1245.9 142.2,1201.3 142.4,1269.9 142.7,1229.2 143.0,1247.5 143.5,1221.1 144.0,1216.4 144.2,1264.5 144.4,1249.4 144.9,1220.3 145.3,1244.8 145.7,1231.0 146.3,1259.7 146.5,1204.8 146.7,1256.0 147.2,1230.0 147.7,1284.1 148.0,1200.1 148.2,1246.9 148.8,1229.6 149.3,1251.9 149.7,1274.3 149.9,1233.4 150.1,1218.9 150.6,1249.0 151.0,1226.3 151.4,1248.1 151.9,1221.3 152.4,1251.3 152.5,1205.4 152.7,1241.5 153.3,1263.2 153.6,1198.9 153.8,1225.0 154.3,1242.4 154.7,1225.2 155.3,1214.2 155.5,1253.4 155.7,1249.5 156.2,1220.8 156.7,1201.0 156.9,1270.9 157.1,1246.1 157.5,1218.8 157.8,1256.0 158.3,1217.0 158.8,1216.5 159.0,1268.9 159.2,1252.4 159.6,1214.7 160.0,1285.3 160.3,1183.5 160.5,1251.4 160.9,1220.9 161.5,1182.8 161.7,1273.4 161.9,1265.8 162.3,1207.4 162.7,1267.1 163.3,1232.9 163.5,1301.2 163.7,1212.6 164.2,1266.8 164.7,1185.3 164.9,1256.7 165.1,1202.5 165.7,1254.2 166.2,1202.8 166.7,1265.2 167.1,1247.9 167.3,1160.6 167.5,1140.6 167.8,1323.9 168.0,1199.7 168.4,1271.1 169.0,1211.1 169.6,1180.1 169.8,1299.5 170.0,1264.7 170.6,1214.1 171.0,1269.1 171.5,1191.4 171.7,1284.5 171.9,1195.6 172.4,1259.5 172.9,1296.2 173.2,1154.8 173.4,1224.5 173.8,1245.6 174.3,1204.0 174.7,1252.9 175.2,1214.1 175.4,1262.0 175.6,1223.5 176.2,1254.6 176.8,1263.3 177.0,1229.6 177.2,1215.5 177.8,1253.4 178.1,1230.2 178.6,1249.8 179.0,1264.8 179.2,1198.7 179.4,1227.9 179.9,1263.2 180.1,1201.3 180.4,1243.0 180.8,1222.7 181.3,1255.5 181.6,1226.4 182.1,1249.1 182.5,1215.8 182.7,1267.8 182.9,1218.1 183.4,1260.5 183.8,1221.4 184.1,1264.5 184.3,1205.3 184.5,1263.2 184.9,1215.2 185.5,1251.1 185.8,1158.1 186.1,1302.8 186.3,1202.3 186.9,1254.1 187.4,1218.0 187.9,1271.2 188.1,1219.3 188.3,1250.2 188.8,1227.1 189.4,1252.7 189.7,1252.2 189.9,1195.1 190.1,1228.0 190.7,1253.6 191.2,1240.1 191.4,1207.2 191.6,1229.9 192.0,1265.3 192.3,1201.3 192.5,1246.5 192.8,1220.8 193.4,1243.3 193.9,1226.3 194.2,1249.7 194.6,1203.9 194.8,1265.3 195.0,1222.7 195.4,1251.3 195.8,1223.0 196.2,1242.7 196.7,1225.2 197.1,1253.9 197.3,1185.4 197.5,1243.3 197.9,1210.7 198.4,1242.9 198.8,1215.6 199.3,1274.1 199.5,1166.0 199.8,1257.6 200.3,1217.7 200.8,1259.2 201.3,1217.5 201.8,1273.1 202.0,1203.5 202.2,1246.2 202.6,1216.6 203.1,1263.2 203.4,1289.6 203.6,1227.8 203.8,1297.4 204.0,1172.6 204.3,1215.0 204.8,1262.2 205.2,1217.7 205.8,1278.3 206.0,1218.0 206.2,1248.1 206.8,1215.1 207.3,1260.1 207.8,1276.5 208.0,1189.8 208.2,1222.7 208.6,1251.1 208.9,1223.9 209.5,1278.6 209.7,1191.3 209.9,1248.6 210.5,1221.6 211.1,1243.8 211.5,1230.5 211.8,1217.0 212.0,1267.8 212.2,1249.3 212.7,1227.0 213.3,1221.2 213.5,1251.8 213.7,1242.5 214.1,1224.3 214.5,1242.8 214.9,1260.8 215.1,1205.5 215.3,1221.9 215.9,1244.4 216.3,1229.4 216.8,1247.4 217.0,1222.7 217.2,1243.0 217.5,1224.3 218.1,1243.1 218.6,1225.6 219.1,1245.5 219.6,1224.0 219.8,1237.8 220.0,1230.4 220.4,1244.8 220.9,1226.1 221.4,1245.9 221.8,1233.3 222.0,1247.4 222.2,1231.2 222.7,1240.1 223.3,1245.7 223.4,1223.3 223.6,1254.2 223.9,1210.1 224.1,1229.1 224.5,1243.8 225.0,1220.7 225.2,1247.5 225.4,1228.0 226.0,1243.0 226.4,1224.1 226.6,1237.5 226.8,1228.6 227.4,1241.1 227.9,1221.1 228.1,1248.0 228.3,1231.7 228.9,1242.8 229.4,1232.2 229.8,1214.3 230.1,1254.2 230.3,1243.4 230.9,1229.0 231.2,1223.2 231.4,1249.4 231.6,1246.9 232.0,1230.1 232.6,1243.5 233.1,1212.2 233.4,1265.0 233.6,1229.0 234.2,1244.2 234.7,1226.0 235.1,1250.4 235.6,1255.2 235.8,1227.8 236.0,1229.9 236.5,1257.4 237.1,1214.2 237.6,1282.9 237.9,1182.3 238.1,1250.1 238.6,1210.3 239.1,1265.9 239.5,1225.8 240.0,1211.0 240.2,1287.2 240.4,1249.6 240.8,1215.9 241.2,1255.2 241.6,1252.3 241.8,1198.9 242.0,1212.1 242.5,1259.1 243.1,1179.8 243.3,1300.5 243.5,1220.9 244.0,1173.5 244.3,1329.1 244.5,1283.8 245.1,1220.2 245.4,1280.3 245.8,1212.7 246.3,1276.6 246.8,1173.9 247.0,1311.0 247.2,1341.5 247.5,1088.6 247.7,1218.9 248.2,1256.4 248.8,1200.4 249.3,1278.3 249.7,1206.1 249.9,1286.4 250.1,1222.4 250.6,1275.0 251.1,1219.9 251.5,1263.0 251.9,1311.6 252.2,1188.0 252.4,1227.2 252.8,1249.0 253.2,1213.3 253.7,1258.6 254.2,1191.1 254.4,1255.4 254.6,1212.1 255.2,1258.6 255.6,1217.5 256.1,1257.6 256.6,1270.2 256.7,1174.0 256.9,1226.5 257.3,1271.7 257.6,1171.4 257.8,1245.8 258.2,1213.7 258.8,1255.4 259.0,1220.9 259.2,1248.4 259.8,1225.8 260.3,1246.5 260.7,1260.3 260.9,1195.0 261.1,1220.1 261.5,1276.2 261.7,1196.8 262.0,1251.3 262.4,1219.6 262.8,1259.2 263.3,1217.8 263.7,1210.4 263.9,1269.5 264.1,1250.3 264.6,1219.4 265.1,1205.6 265.3,1286.9 265.5,1247.1 266.0,1183.5 266.3,1294.0 266.5,1223.6 267.0,1264.5 267.6,1224.6 268.1,1233.9 268.3,1273.6 268.5,1272.6 269.1,1221.6 269.4,1256.0 269.7,1161.4 270.0,1334.8 270.2,1220.7 270.7,1272.9 271.1,1208.2 271.6,1240.9 271.8,1154.0 272.0,1256.9 272.5,1183.3 273.0,1269.0 273.4,1194.6 273.8,1111.6 274.1,1313.7 274.3,1252.6 274.6,1219.4 275.2,1265.4 275.6,1206.2 276.1,1261.7 276.4,1286.4 276.6,1172.4 276.8,1199.5 277.2,1267.0 277.7,1216.5 278.1,1297.7 278.3,1199.2 278.5,1269.2 279.0,1218.9 279.5,1260.4 280.0,1222.2 280.5,1202.0 280.7,1307.1 280.9,1320.3 281.2,1172.3 281.4,1269.5 281.8,1219.5 282.4,1271.1 282.8,1202.3 283.0,1253.4 283.2,1217.4 283.7,1260.9 284.2,1226.4 284.6,1271.6 284.8,1206.1 285.0,1251.9 285.5,1227.6 286.1,1265.7 286.6,1206.5 286.8,1238.3 287.0,1178.9 287.2,1294.0 287.4,1216.4 288.0,1254.5 288.4,1212.1 288.8,1287.6 289.0,1229.5 289.2,1257.9 289.5,1197.0 289.9,1260.3 290.4,1177.7 290.6,1300.3 290.8,1313.7 291.1,1136.1 291.3,1221.1 291.7,1249.3 292.2,1227.3 292.8,1246.0 293.3,1263.8 293.5,1232.1 293.7,1271.7 293.9,1214.3 294.2,1231.2 294.7,1247.5 295.0,1227.3 295.4,1249.1 295.9,1219.0 296.1,1252.2 296.3,1230.9 296.9,1243.6 297.2,1228.7 297.6,1245.1 298.2,1254.2 298.4,1220.9 298.6,1234.0 299.1,1239.8 299.7,1231.9 300.2,1230.1 300.4,1238.0 300.6,1241.9 300.9,1233.8 301.4,1241.5 302.0,1234.2 302.5,1227.6 302.8,1245.4 303.0,1239.2 303.4,1232.4 304.0,1241.9 304.3,1233.4 304.8,1242.4 305.3,1250.6 305.5,1233.4 305.7,1232.9 306.2,1244.1 306.8,1223.4 307.1,1254.2 307.3,1232.6 307.7,1242.3 308.1,1234.1 308.4,1244.6 308.9,1221.8 309.1,1248.6 309.3,1233.7 309.9,1244.2 310.4,1225.0 310.8,1248.7 311.3,1248.7 311.4,1230.1 311.7,1232.4 312.2,1249.7 312.7,1203.4 313.0,1262.9 313.2,1226.7 313.5,1250.0 313.9,1219.4 314.2,1257.5 314.7,1215.5 315.0,1266.0 315.2,1206.2 315.4,1264.5 316.0,1218.1 316.6,1249.9 316.9,1171.3 317.1,1287.3 317.3,1203.1 317.9,1158.1 318.1,1329.1 318.4,1259.1 318.9,1224.5 319.5,1270.7 319.8,1204.1 320.2,1227.2 320.4,1302.8 320.6,1249.8 320.9,1214.4 321.4,1260.2 321.8,1200.1 322.0,1275.4 322.2,1223.2 322.7,1267.6 323.1,1198.7 323.5,1153.6 323.7,1309.4 324.0,1258.7 324.4,1202.8 324.8,1176.3 325.0,1278.5 325.2,1265.0 325.6,1199.5 326.1,1193.5 326.3,1270.8 326.5,1257.9 327.1,1206.3 327.7,1253.4 328.1,1213.2 328.3,1291.4 328.5,1214.0 328.9,1255.0 329.4,1207.8 330.0,1249.0 330.4,1170.2 330.6,1251.0 330.8,1218.1 331.4,1294.0 331.6,1160.2 331.8,1260.7 332.4,1201.5 332.9,1264.4 333.2,1208.0 333.8,1207.0 334.0,1303.8 334.2,1270.3 334.7,1209.6 335.0,1275.2 335.5,1219.9 335.9,1120.6 336.1,1317.0 336.4,1272.4 336.9,1190.3 337.2,1257.5 337.5,1192.6 338.1,1261.3 338.7,1276.2 338.9,1236.4 339.1,1226.4 339.6,1255.7 339.9,1208.2 340.3,1304.9 340.6,1178.9 340.8,1264.1 341.4,1207.8 341.8,1254.6 342.3,1230.1 342.5,1266.4 342.7,1221.0 343.1,1253.9 343.5,1297.3 343.7,1205.5 343.9,1214.2 344.5,1262.7 345.0,1184.4 345.1,1258.2 345.3,1213.7 345.7,1248.8 346.2,1198.7 346.8,1262.5 347.1,1167.3 347.3,1246.3 347.5,1156.0 347.7,1290.7 348.0,1213.2 348.4,1246.1 348.7,1224.9 349.0,1260.3 349.5,1265.0 349.7,1182.5 349.9,1214.4 350.2,1257.9 350.8,1214.1 351.1,1248.7 351.7,1213.8 352.2,1246.6 352.4,1180.1 352.6,1258.6 353.2,1214.8 353.6,1257.4 354.0,1258.4 354.2,1202.9 354.4,1280.8 354.6,1161.4 354.9,1201.2 355.2,1256.9 355.7,1211.4 356.2,1253.5 356.7,1263.6 356.9,1203.6 357.1,1203.0 357.7,1262.5 358.1,1206.1 358.6,1301.5 358.7,1202.4 359.0,1261.4 359.5,1209.7 359.9,1251.6 360.3,1189.5 360.8,1280.7 361.0,1174.7 361.2,1260.4 361.7,1059.9 362.0,1374.4 362.2,1220.4 362.6,1263.5 363.2,1210.5 363.7,1272.7 363.9,1203.0 364.1,1250.2 364.6,1200.9 365.1,1266.5 365.6,1191.1 366.0,1243.0 366.2,1152.3 366.4,1262.8 366.9,1215.1 367.5,1254.0 368.1,1296.2 368.3,1152.7 368.5,1205.7 369.1,1254.9 369.7,1215.7 370.1,1296.2 370.3,1231.9 370.5,1247.5 370.8,1197.0 371.1,1265.9 371.6,1205.6 371.8,1266.9 372.0,1209.8 372.4,1263.8 372.9,1202.3 373.3,1304.9 373.6,1156.9 373.8,1265.8 374.2,1211.6 374.7,1260.9 375.2,1180.0 375.4,1267.0 375.6,1216.6 376.2,1260.1 376.6,1210.3 377.1,1265.5 377.6,1263.6 377.8,1206.0 378.0,1225.9 378.4,1262.1 378.9,1227.4 379.4,1197.3 379.5,1282.4 379.8,1254.3 380.1,1211.3 380.6,1253.6 381.1,1253.0 381.3,1201.2 381.5,1229.5 381.9,1246.2 382.4,1285.0 382.6,1192.2 382.8,1227.9 383.4,1256.6 383.8,1202.3 384.3,1247.6 384.7,1295.9 384.9,1152.4 385.1,1222.5 385.5,1270.4 385.8,1218.1 386.2,1256.2 386.7,1221.2 387.0,1260.2 387.2,1156.7 387.4,1277.4 388.0,1196.5 388.5,1145.3 388.7,1273.6 388.9,1280.4 389.2,1205.6 389.6,1344.5 389.8,1113.7 390.0,1259.9 390.5,1209.8 390.9,1262.2 391.3,1125.8 391.5,1291.5 391.7,1218.3 392.3,1269.4 392.7,1135.9 392.9,1263.0 393.1,1184.2 393.5,1271.3 394.0,1191.8 394.5,1297.4 394.7,1148.3 394.9,1268.9 395.4,1134.5 395.6,1333.3 395.9,1197.1 396.2,1267.1 396.8,1221.6 397.2,1276.4 397.4,1171.5 397.6,1248.7 398.1,1220.9 398.4,1259.4 399.0,1197.0 399.2,1269.0 399.4,1210.0 399.9,1262.1 400.3,1166.6 400.5,1287.1 400.8,1204.1 401.3,1254.6 401.7,1200.8 402.0,1258.3 402.5,1266.0 402.6,1160.1 402.8,1207.5 403.3,1331.2 403.6,1152.4 403.8,1273.9 404.2,1213.8 404.7,1279.0 405.3,1300.3 405.5,1211.3 405.7,1213.0 406.1,1277.8 406.6,1227.0 407.0,1243.0 407.2,1205.8 407.4,1268.0 407.7,1224.1 408.3,1255.0 408.7,1209.8 408.9,1273.7 409.1,1189.8 409.3,1319.1 409.6,1216.1 410.1,1269.3 410.7,1230.7 411.0,1201.0 411.2,1240.2 411.4,1247.7 411.8,1221.0 412.2,1250.8 412.6,1254.7 412.8,1226.7 413.0,1229.3 413.3,1267.2 413.6,1206.4 413.8,1244.7 414.4,1231.6 414.8,1238.3 415.3,1235.5 416.0,1238.1 416.6,1236.2 417.5,1239.3 417.9,1234.7 418.8,1239.2 419.7,1236.2 420.2,1239.9 420.9,1235.0 421.4,1238.4 422.2,1235.6 423.1,1239.4 423.9,1234.7 424.4,1238.9 424.9,1234.1 425.5,1238.0 426.3,1236.1 426.9,1239.7 427.8,1235.7 428.5,1237.7 429.1,1234.9 430.0,1238.2 430.7,1234.8 431.2,1241.3 431.8,1212.4 432.0,1246.9 432.2,1227.5 432.7,1244.2 433.2,1196.5 433.4,1269.3 433.6,1229.5 434.0,1251.9 434.5,1223.6 434.8,1236.7 435.0,1275.9 435.2,1256.1 435.6,1222.3 436.2,1260.6 436.7,1205.8 437.2,1182.8 437.3,1271.1 437.6,1267.2 437.9,1214.5 438.3,1266.0 438.7,1321.2 438.9,1102.8 439.1,1190.6 439.7,1256.9 440.2,1192.0 440.6,1127.4 440.8,1239.4 441.0,1248.6 441.4,1206.0 441.7,1271.9 442.3,1220.8 442.7,1160.1 442.8,1262.7 443.0,1253.0 443.4,1192.5 443.7,1261.4 444.2,1216.1 444.7,1176.7 444.9,1285.8 445.1,1249.1 445.5,1195.9 445.9,1155.7 446.1,1292.5 446.4,1249.1 446.8,1205.2 447.2,1260.0 447.7,1204.3 448.2,1229.5 448.4,1282.6 448.6,1259.3 449.1,1209.6 449.7,1259.5 450.2,1226.5 450.6,1198.2 450.8,1256.5 451.0,1172.3 451.3,1299.2 451.5,1249.5 451.9,1217.6 452.4,1272.1 452.8,1215.9 453.4,1311.4 453.6,1176.4 453.8,1255.5 454.3,1224.6 454.7,1266.3 455.3,1208.8 455.7,1200.5 455.9,1240.6 456.1,1255.7 456.5,1209.9 456.9,1353.2 457.2,1177.7 457.4,1266.9 458.0,1210.9 458.5,1265.6 459.0,1311.9 459.2,1220.3 459.4,1208.2 459.8,1251.7 460.4,1217.2 460.9,1280.4 461.1,1175.3 461.4,1258.3 461.9,1223.8 462.5,1248.6 463.0,1207.8 463.4,1254.4 463.6,1190.7 463.8,1255.2 464.4,1222.4 464.9,1262.3 465.2,1199.8 465.7,1289.2 466.0,1161.1 466.2,1248.8 466.6,1216.0 467.1,1247.5 467.7,1229.2 468.1,1253.8 468.3,1203.4 468.5,1242.6 469.1,1223.0 469.4,1248.8 469.8,1211.9 470.1,1265.0 470.3,1231.9 470.7,1241.9 471.1,1228.6 471.5,1244.8 472.1,1229.7 472.4,1247.4 472.6,1227.8 472.8,1241.3 473.4,1233.8 473.9,1242.5 474.4,1241.4 474.6,1227.8 474.8,1232.9 475.3,1243.0 475.5,1227.3 475.7,1239.0 476.1,1233.5 476.5,1239.0 477.0,1233.7 477.5,1240.2 477.8,1235.9 478.0,1243.6 478.2,1233.7 478.8,1243.0 479.2,1233.9 479.8,1253.9 480.0,1220.6 480.3,1245.4 480.6,1228.2 481.1,1241.3 481.6,1231.3 482.1,1245.5 482.6,1255.6 482.8,1230.3 483.0,1232.6 483.5,1247.0 484.1,1230.8 484.5,1245.1 485.0,1235.9 485.2,1248.5 485.4,1209.8 485.6,1258.4 485.9,1230.9 486.2,1253.3 486.7,1228.8 487.2,1263.7 487.8,1199.9 488.0,1288.0 488.2,1223.5 488.8,1315.8 489.0,1169.9 489.2,1266.1 489.8,1215.9 490.3,1284.2 490.5,1208.4 490.7,1272.7 491.2,1209.6 491.8,1254.1 492.3,1277.5 492.5,1177.3 492.7,1202.8 493.3,1274.5 493.8,1209.9 494.3,1292.3 494.5,1188.7 494.7,1264.8 495.2,1205.3 495.5,1255.4 496.1,1282.1 496.3,1176.7 496.5,1214.6 497.0,1155.7 497.2,1334.5 497.4,1269.6 498.0,1219.6 498.3,1256.4 498.9,1211.4 499.2,1201.8 499.4,1273.9 499.6,1251.1 500.0,1221.1 500.5,1249.3 500.9,1219.9 501.3,1163.2 501.5,1302.5 501.8,1247.5 502.1,1207.7 502.5,1255.8 503.1,1214.5 503.5,1248.4 504.0,1189.1 504.2,1294.7 504.4,1204.0 504.8,1251.9 505.2,1212.8 505.8,1302.5 506.0,1151.2 506.3,1256.2 506.6,1213.7 507.1,1263.2 507.5,1219.5 507.9,1250.3 508.3,1199.0 508.5,1270.4 508.7,1218.0 509.2,1252.7 509.6,1224.6 510.1,1275.9 510.3,1205.0 510.5,1258.3 511.0,1216.1 511.6,1250.5 512.1,1273.8 512.3,1192.2 512.6,1221.4 513.2,1244.3 513.5,1222.1 513.9,1253.4 514.1,1227.9 514.3,1248.4 514.7,1228.2 515.1,1251.6 515.7,1224.1 516.1,1209.8 516.3,1265.0 516.5,1241.6 517.0,1229.6 517.4,1243.8 517.7,1233.9 518.2,1239.8 518.7,1231.5 519.3,1239.3 519.8,1235.0 520.7,1239.4 521.3,1234.1 522.1,1240.9 522.9,1233.7 523.5,1241.1 524.2,1233.3 524.8,1237.8 525.7,1234.2 526.3,1241.3 526.8,1233.8 527.4,1238.8 528.0,1231.6 528.5,1240.9 529.2,1235.1 529.7,1241.4 530.3,1234.4 531.1,1241.3 531.8,1233.8 532.6,1241.4 533.5,1233.1 534.1,1238.0 534.9,1234.4 535.6,1239.1 536.5,1233.0 537.0,1240.3 537.8,1235.1 538.4,1241.2 539.2,1234.5 539.7,1241.4 540.2,1234.5 541.2,1239.8 541.8,1232.0 542.6,1238.4 543.4,1234.4 544.0,1239.8 544.9,1234.5 545.6,1241.3 546.5,1232.8 547.3,1240.1 547.9,1233.3 548.6,1240.5 549.1,1234.1 549.6,1240.4 550.3,1231.9 551.0,1239.3 551.7,1233.5 552.4,1241.2 553.2,1231.7 553.9,1239.1 554.8,1233.1 555.5,1240.1 556.2,1233.6 556.7,1241.1 557.1,1232.7 557.8,1239.1 558.7,1232.4 559.0,1240.4 559.3,1231.5 559.8,1204.6 560.0,1259.6 560.2,1248.3 560.7,1220.1 561.2,1243.1 561.7,1210.0 561.9,1252.1 562.1,1225.2 562.7,1253.9 563.0,1226.9 563.5,1205.6 563.7,1255.4 563.9,1247.6 564.4,1223.6 564.8,1260.0 565.2,1210.8 565.7,1179.2 565.9,1288.3 566.2,1245.3 566.8,1217.1 567.1,1245.5 567.6,1210.7 568.2,1217.4 568.4,1259.2 568.6,1257.7 568.9,1226.0 569.5,1172.1 569.7,1277.4 569.9,1244.6 570.2,1220.8 570.8,1169.3 571.0,1275.3 571.3,1246.8 571.7,1218.3 572.2,1253.4 572.7,1226.9 572.9,1264.3 573.1,1227.0 573.7,1243.9 574.1,1221.2 574.6,1265.8 574.8,1215.8 575.0,1245.9 575.4,1219.9 575.9,1245.7 576.4,1204.6 576.6,1264.1 576.9,1225.3 577.2,1242.8 577.6,1229.1 578.2,1245.9 578.6,1252.7 578.8,1198.2 579.0,1216.2 579.5,1245.1 579.9,1216.5 580.4,1214.2 580.6,1248.1 580.8,1286.2 581.1,1187.1 581.3,1246.4 581.7,1227.9 582.1,1258.2 582.6,1209.4 583.0,1255.7 583.4,1295.9 583.6,1206.8 583.8,1209.3 584.2,1271.5 584.7,1168.4 584.9,1322.4 585.2,1205.9 585.5,1252.3 585.9,1222.6 586.4,1275.0 586.9,1178.3 587.1,1282.1 587.3,1211.0 587.8,1275.9 588.2,1331.5 588.5,1168.4 588.7,1214.7 589.2,1255.9 589.8,1211.0 590.2,1217.5 590.4,1268.0 590.6,1252.1 591.0,1220.8 591.5,1257.4 591.9,1226.0 592.1,1274.3 592.3,1221.5 592.8,1204.6 593.0,1270.8 593.3,1244.2 593.8,1232.0 594.3,1248.0 594.8,1229.7 595.2,1250.8 595.4,1235.7 595.6,1248.9 595.9,1230.3 596.4,1247.3 596.9,1229.1 597.4,1222.6 597.6,1247.5 597.8,1241.8 598.2,1234.0 598.7,1224.6 598.9,1253.3 599.2,1243.3 599.5,1231.5 600.0,1245.5 600.3,1227.2 600.8,1245.8 601.1,1238.8 601.3,1220.0 601.5,1232.1 601.8,1246.2 602.3,1222.7 602.7,1248.2 603.2,1257.3 603.4,1215.5 603.6,1221.7 604.0,1264.1 604.2,1193.4 604.5,1248.9 605.0,1214.6 605.6,1247.3 606.0,1200.3 606.2,1257.0 606.4,1207.6 606.7,1258.9 607.2,1209.8 607.7,1259.7 608.0,1288.3 608.3,1168.4 608.5,1220.9 609.0,1245.9 609.4,1202.9 609.8,1247.4 610.4,1266.0 610.6,1172.8 610.8,1217.6 611.3,1248.7 611.8,1222.9 612.3,1275.6 612.5,1212.3 612.7,1255.7 613.1,1204.9 613.4,1245.1 613.9,1277.4 614.1,1165.1 614.3,1213.4 614.7,1265.8 615.0,1213.9 615.6,1277.5 615.8,1207.5 616.0,1269.2 616.4,1199.7 616.9,1255.1 617.3,1193.3 617.7,1130.6 618.0,1357.8 618.2,1284.2 618.6,1188.6 618.9,1262.6 619.3,1215.5 619.7,1269.7 620.0,1148.5 620.2,1258.9 620.4,1189.7 620.9,1259.5 621.4,1215.7 621.9,1323.6 622.1,1123.1 622.4,1269.7 622.7,1220.8 623.2,1250.9 623.6,1225.8 624.0,1260.1 624.4,1259.8 624.6,1189.1 624.8,1224.7 625.3,1246.2 625.8,1222.6 626.3,1206.7 626.6,1264.1 626.8,1248.5 627.3,1228.7 627.8,1229.7 628.0,1264.4 628.2,1242.0 628.7,1227.5 629.1,1246.9 629.4,1225.8 629.8,1244.3 630.3,1223.5 630.5,1268.9 630.7,1229.4 631.3,1245.0 631.6,1272.9 631.8,1206.7 632.1,1222.0 632.5,1252.6 632.9,1220.4 633.2,1242.5 633.7,1223.3 634.1,1210.8 634.3,1251.5 634.5,1246.8 634.9,1220.3 635.5,1243.6 636.0,1206.9 636.2,1252.2 636.4,1260.8 636.6,1189.2 636.8,1225.4 637.2,1244.1 637.6,1221.1 638.1,1242.0 638.4,1223.8 639.0,1223.8 639.2,1249.6 639.4,1240.4 639.9,1231.6 640.5,1246.2 640.7,1222.2 640.9,1242.8 641.4,1233.2 641.7,1250.8 641.9,1224.6 642.2,1239.6 642.7,1232.0 643.3,1239.5 643.7,1248.8 643.9,1230.2 644.1,1232.1 644.6,1243.4 645.0,1231.7 645.4,1227.9 645.6,1249.1 645.8,1239.8 646.3,1234.4 646.8,1243.3 647.3,1229.1 647.4,1248.9 647.7,1233.1 648.2,1244.3 648.6,1230.9 649.1,1244.6 649.5,1223.4 649.7,1253.3 649.9,1232.9 650.4,1240.6 650.8,1235.6 651.5,1239.6 652.4,1236.0 653.3,1241.5 654.1,1235.2 655.0,1239.1 655.5,1236.0 656.2,1240.8 657.1,1233.9 657.7,1239.6 658.7,1235.0 659.4,1240.8 660.2,1233.8 661.1,1239.5 662.0,1234.0 662.9,1239.8 663.8,1233.2" stroke="#d80000" stroke-width="2.2"/>
<polyline points="67.3,1235.9 68.2,1238.8 68.9,1237.6 69.8,1237.0 70.5,1233.6 71.4,1240.8 71.9,1234.2 72.9,1239.0 73.4,1235.9 73.9,1240.0 74.6,1238.3 75.2,1236.9 75.5,1230.1 75.7,1242.0 75.9,1230.2 76.3,1238.7 76.6,1232.7 77.1,1252.0 77.3,1213.8 77.5,1237.9 78.0,1226.2 78.4,1240.5 79.0,1223.8 79.5,1239.6 79.9,1236.2 80.1,1245.9 80.3,1228.3 80.7,1244.7 81.1,1224.6 81.6,1238.7 81.9,1246.4 82.1,1199.3 82.3,1219.9 82.7,1236.3 83.1,1214.0 83.6,1186.5 83.8,1246.2 84.1,1243.7 84.4,1207.4 84.8,1252.0 85.2,1220.1 85.5,1179.9 85.8,1287.7 86.0,1256.8 86.6,1218.1 87.0,1252.5 87.4,1216.8 87.6,1258.2 87.8,1229.4 88.3,1250.4 88.7,1232.6 89.1,1197.1 89.3,1260.8 89.5,1248.4 89.9,1221.7 90.3,1249.6 90.6,1228.0 91.0,1255.6 91.2,1222.0 91.4,1261.3 91.6,1205.2 91.9,1245.2 92.3,1223.0 92.7,1240.7 93.0,1218.2 93.4,1246.1 93.8,1251.0 94.0,1204.8 94.2,1221.6 94.6,1244.2 95.0,1220.4 95.4,1211.2 95.6,1271.0 95.8,1181.7 96.0,1294.0 96.3,1258.6 96.7,1216.8 97.1,1248.6 97.6,1218.2 98.0,1261.3 98.2,1188.4 98.4,1247.6 98.9,1180.4 99.2,1264.4 99.4,1221.2 99.7,1247.1 100.1,1226.1 100.4,1216.7 100.6,1260.1 100.8,1246.6 101.3,1221.4 101.8,1242.0 102.2,1223.9 102.6,1244.8 103.1,1252.1 103.3,1221.4 103.5,1262.0 103.7,1206.3 104.0,1228.8 104.4,1238.3 105.0,1228.0 105.4,1224.9 105.6,1255.7 105.8,1246.0 106.2,1231.2 106.8,1261.4 107.0,1213.7 107.2,1244.7 107.6,1230.7 108.0,1248.3 108.6,1263.0 108.7,1200.7 109.0,1227.8 109.5,1244.7 109.9,1217.1 110.3,1213.4 110.5,1263.6 110.7,1258.3 111.2,1277.8 111.4,1194.4 111.7,1219.5 112.1,1253.4 112.6,1211.3 112.9,1250.4 113.4,1218.2 113.8,1258.6 114.0,1182.4 114.2,1239.4 114.6,1216.1 115.0,1240.6 115.5,1222.7 116.0,1256.1 116.2,1217.4 116.4,1243.9 116.9,1219.5 117.2,1241.8 117.7,1256.3 117.9,1206.8 118.1,1229.4 118.7,1244.2 119.0,1229.5 119.5,1241.9 120.0,1226.4 120.6,1248.3 120.8,1220.2 121.0,1242.2 121.5,1226.9 121.9,1238.5 122.3,1232.4 122.9,1221.8 123.1,1242.2 123.3,1246.0 123.5,1223.3 123.7,1240.5 124.1,1231.6 124.5,1235.0 125.0,1233.1 125.5,1235.1 125.7,1243.3 125.9,1239.8 126.3,1237.0 126.7,1239.9 127.1,1231.0 127.3,1237.8 127.5,1235.5 128.1,1238.9 128.5,1234.6 128.9,1242.6 129.2,1236.8 129.4,1240.4 129.8,1234.8 130.3,1243.0 130.8,1233.1 131.0,1247.3 131.2,1233.9 131.6,1243.8 132.1,1234.1 132.5,1243.4 132.9,1231.1 133.4,1256.7 133.7,1227.6 133.9,1251.6 134.3,1227.5 134.9,1245.2 135.3,1235.1 135.8,1252.3 136.2,1239.5 136.4,1258.5 136.6,1226.3 137.1,1246.5 137.6,1223.6 138.1,1252.6 138.5,1157.9 138.8,1286.6 139.0,1220.7 139.5,1252.2 140.0,1223.5 140.6,1227.1 140.8,1265.9 141.0,1247.0 141.4,1233.2 141.7,1244.8 142.2,1213.1 142.4,1258.6 142.7,1230.8 143.0,1243.4 143.5,1228.2 144.0,1223.6 144.2,1254.9 144.4,1244.3 144.9,1225.7 145.3,1241.7 145.7,1234.7 146.3,1251.0 146.5,1218.3 146.7,1250.0 147.2,1233.3 147.7,1269.2 148.0,1211.8 148.2,1246.4 148.8,1235.9 149.3,1245.9 149.7,1263.3 149.9,1234.5 150.1,1224.6 150.6,1248.6 151.0,1228.9 151.4,1243.3 151.9,1228.3 152.4,1246.8 152.5,1213.6 152.7,1240.2 153.3,1255.3 153.6,1207.7 153.8,1225.6 154.3,1238.1 154.7,1228.2 155.3,1221.4 155.5,1247.0 155.7,1244.8 156.2,1226.4 156.7,1212.2 156.9,1259.9 157.1,1241.1 157.5,1222.6 157.8,1253.5 158.3,1224.5 158.8,1221.1 159.0,1260.3 159.2,1245.3 159.6,1223.6 160.0,1272.3 160.3,1198.5 160.5,1249.5 160.9,1227.6 161.5,1198.6 161.7,1260.8 161.9,1256.1 162.3,1220.3 162.7,1262.3 163.3,1237.6 163.5,1279.9 163.7,1221.4 164.2,1255.5 164.7,1200.9 164.9,1245.5 165.1,1209.6 165.7,1245.8 166.2,1210.0 166.7,1247.1 167.1,1242.5 167.3,1176.3 167.5,1167.8 167.8,1294.4 168.0,1200.7 168.4,1260.1 169.0,1222.5 169.6,1198.0 169.8,1283.9 170.0,1255.6 170.6,1224.3 171.0,1260.2 171.5,1207.0 171.7,1274.3 171.9,1206.0 172.4,1249.4 172.9,1282.0 173.2,1176.9 173.4,1225.8 173.8,1241.3 174.3,1209.9 174.7,1247.1 175.2,1224.2 175.4,1256.5 175.6,1228.1 176.2,1247.3 176.8,1257.4 177.0,1232.5 177.2,1222.7 177.8,1250.2 178.1,1230.7 178.6,1246.5 179.0,1257.6 179.2,1208.4 179.4,1229.2 179.9,1256.1 180.1,1208.7 180.4,1240.2 180.8,1226.8 181.3,1250.7 181.6,1230.4 182.1,1247.7 182.5,1227.4 182.7,1258.4 182.9,1225.4 183.4,1253.1 183.8,1227.5 184.1,1255.7 184.3,1214.1 184.5,1250.7 184.9,1219.3 185.5,1240.4 185.8,1180.0 186.1,1279.3 186.3,1209.7 186.9,1248.8 187.4,1226.7 187.9,1259.8 188.1,1228.4 188.3,1246.1 188.8,1228.0 189.4,1248.3 189.7,1248.8 189.9,1205.8 190.1,1227.3 190.7,1248.8 191.2,1236.6 191.4,1215.0 191.6,1234.1 192.0,1255.4 192.3,1210.9 192.5,1242.4 192.8,1225.3 193.4,1238.9 193.9,1229.6 194.2,1244.9 194.6,1213.2 194.8,1254.6 195.0,1225.5 195.4,1247.3 195.8,1229.5 196.2,1239.6 196.7,1225.1 197.1,1244.9 197.3,1199.7 197.5,1239.6 197.9,1218.7 198.4,1235.9 198.8,1221.6 199.3,1259.8 199.5,1184.1 199.8,1249.6 200.3,1222.5 200.8,1252.1 201.3,1223.5 201.8,1260.8 202.0,1215.8 202.2,1243.5 202.6,1225.3 203.1,1260.1 203.4,1276.6 203.6,1230.1 203.8,1284.3 204.0,1192.7 204.3,1223.6 204.8,1254.4 205.2,1222.2 205.8,1265.8 206.0,1224.3 206.2,1247.0 206.8,1222.0 207.3,1250.9 207.8,1264.2 208.0,1202.8 208.2,1228.8 208.6,1244.8 208.9,1223.7 209.5,1262.5 209.7,1202.4 209.9,1245.7 210.5,1224.6 211.1,1239.4 211.5,1231.4 211.8,1221.3 212.0,1260.6 212.2,1245.5 212.7,1233.3 213.3,1227.7 213.5,1248.8 213.7,1242.3 214.1,1225.3 214.5,1241.5 214.9,1253.7 215.1,1213.5 215.3,1224.5 215.9,1243.6 216.3,1227.3 216.8,1244.3 217.0,1228.3 217.2,1240.0 217.5,1226.8 218.1,1235.8 218.6,1227.0 219.1,1242.6 219.6,1227.9 219.8,1238.0 220.0,1231.2 220.4,1240.5 220.9,1230.2 221.4,1241.6 221.8,1237.4 222.0,1245.5 222.2,1234.7 222.7,1240.8 223.3,1245.3 223.4,1224.9 223.6,1249.9 223.9,1217.0 224.1,1228.4 224.5,1238.2 225.0,1222.3 225.2,1246.8 225.4,1230.5 226.0,1240.5 226.4,1228.6 226.6,1237.0 226.8,1231.3 227.4,1237.9 227.9,1226.2 228.1,1246.1 228.3,1234.5 228.9,1240.2 229.4,1236.6 229.8,1219.6 230.1,1248.9 230.3,1241.7 230.9,1231.1 231.2,1228.6 231.4,1244.9 231.6,1244.8 232.0,1235.4 232.6,1239.3 233.1,1219.9 233.4,1260.2 233.6,1229.3 234.2,1245.2 234.7,1227.9 235.1,1243.8 235.6,1249.8 235.8,1230.6 236.0,1235.9 236.5,1249.4 237.1,1221.0 237.6,1266.1 237.9,1199.3 238.1,1247.4 238.6,1218.0 239.1,1256.0 239.5,1231.6 240.0,1218.8 240.2,1275.7 240.4,1245.0 240.8,1223.5 241.2,1249.5 241.6,1249.5 241.8,1205.4 242.0,1217.1 242.5,1250.0 243.1,1192.4 243.3,1283.5 243.5,1228.5 244.0,1193.7 244.3,1309.8 244.5,1272.3 245.1,1229.4 245.4,1273.5 245.8,1223.3 246.3,1271.8 246.8,1191.7 247.0,1289.1 247.2,1309.6 247.5,1130.0 247.7,1228.7 248.2,1249.0 248.8,1207.3 249.3,1264.9 249.7,1218.7 249.9,1272.8 250.1,1230.5 250.6,1265.1 251.1,1230.0 251.5,1254.3 251.9,1292.7 252.2,1205.6 252.4,1233.6 252.8,1246.4 253.2,1217.7 253.7,1252.1 254.2,1205.3 254.4,1244.7 254.6,1218.9 255.2,1251.8 255.6,1220.0 256.1,1252.1 256.6,1260.1 256.7,1190.6 256.9,1227.9 257.3,1258.6 257.6,1186.6 257.8,1239.0 258.2,1217.5 258.8,1246.2 259.0,1224.4 259.2,1247.3 259.8,1233.3 260.3,1240.3 260.7,1250.8 260.9,1205.2 261.1,1225.5 261.5,1262.7 261.7,1205.2 262.0,1248.0 262.4,1223.5 262.8,1250.2 263.3,1225.9 263.7,1214.7 263.9,1257.3 264.1,1243.8 264.6,1227.6 265.1,1214.8 265.3,1270.8 265.5,1243.4 266.0,1199.6 266.3,1282.5 266.5,1228.2 267.0,1260.9 267.6,1234.5 268.1,1236.7 268.3,1266.5 268.5,1263.1 269.1,1229.8 269.4,1252.8 269.7,1187.7 270.0,1305.0 270.2,1225.4 270.7,1257.4 271.1,1218.6 271.6,1233.7 271.8,1176.7 272.0,1244.6 272.5,1187.1 273.0,1252.0 273.4,1204.7 273.8,1145.2 274.1,1288.5 274.3,1241.4 274.6,1222.1 275.2,1263.5 275.6,1214.5 276.1,1250.8 276.4,1269.3 276.6,1190.6 276.8,1211.6 277.2,1257.7 277.7,1221.8 278.1,1277.9 278.3,1212.7 278.5,1260.5 279.0,1222.8 279.5,1254.0 280.0,1234.0 280.5,1213.0 280.7,1291.5 280.9,1298.9 281.2,1196.7 281.4,1264.4 281.8,1225.5 282.4,1259.1 282.8,1217.0 283.0,1249.0 283.2,1224.7 283.7,1253.0 284.2,1231.0 284.6,1263.1 284.8,1218.1 285.0,1246.4 285.5,1229.9 286.1,1254.8 286.6,1216.9 286.8,1238.0 287.0,1194.7 287.2,1275.6 287.4,1223.9 288.0,1251.1 288.4,1225.0 288.8,1272.4 289.0,1232.1 289.2,1250.9 289.5,1209.4 289.9,1256.7 290.4,1193.7 290.6,1275.3 290.8,1287.2 291.1,1164.5 291.3,1227.3 291.7,1245.8 292.2,1225.5 292.8,1248.4 293.3,1258.8 293.5,1235.0 293.7,1264.5 293.9,1223.8 294.2,1231.6 294.7,1246.6 295.0,1230.1 295.4,1246.3 295.9,1225.6 296.1,1248.9 296.3,1232.0 296.9,1242.4 297.2,1229.2 297.6,1244.6 298.2,1249.1 298.4,1227.5 298.6,1234.4 299.1,1236.7 299.7,1234.2 300.2,1230.3 300.4,1238.8 300.6,1241.8 300.9,1233.8 301.4,1239.2 302.0,1235.1 302.5,1229.7 302.8,1243.1 303.0,1239.1 303.4,1237.1 304.0,1242.1 304.3,1236.2 304.8,1240.3 305.3,1248.6 305.5,1231.5 305.7,1234.1 306.2,1243.1 306.8,1226.6 307.1,1249.6 307.3,1232.7 307.7,1241.1 308.1,1233.6 308.4,1243.9 308.9,1226.6 309.1,1245.0 309.3,1236.4 309.9,1243.0 310.4,1229.5 310.8,1247.2 311.3,1247.3 311.4,1230.5 311.7,1235.6 312.2,1243.3 312.7,1210.9 313.0,1255.2 313.2,1229.7 313.5,1244.3 313.9,1225.3 314.2,1251.4 314.7,1221.7 315.0,1257.6 315.2,1216.4 315.4,1251.4 316.0,1224.1 316.6,1244.9 316.9,1187.3 317.1,1269.9 317.3,1214.4 317.9,1182.1 318.1,1304.3 318.4,1253.4 318.9,1225.7 319.5,1268.4 319.8,1216.3 320.2,1233.8 320.4,1286.6 320.6,1244.7 320.9,1223.4 321.4,1255.1 321.8,1213.4 322.0,1262.7 322.2,1224.2 322.7,1259.2 323.1,1209.7 323.5,1177.7 323.7,1284.1 324.0,1247.4 324.4,1211.5 324.8,1191.9 325.0,1262.5 325.2,1251.3 325.6,1210.1 326.1,1207.1 326.3,1258.5 326.5,1247.8 327.1,1217.5 327.7,1250.7 328.1,1221.4 328.3,1271.7 328.5,1223.1 328.9,1246.7 329.4,1214.7 330.0,1241.1 330.4,1190.4 330.6,1240.8 330.8,1222.8 331.4,1269.6 331.6,1186.8 331.8,1254.3 332.4,1209.1 332.9,1252.9 333.2,1218.4 333.8,1217.1 334.0,1287.3 334.2,1261.7 334.7,1216.9 335.0,1266.8 335.5,1227.6 335.9,1151.5 336.1,1292.1 336.4,1258.6 336.9,1202.8 337.2,1256.6 337.5,1207.6 338.1,1252.8 338.7,1267.0 338.9,1237.2 339.1,1233.7 339.6,1251.5 339.9,1217.5 340.3,1283.8 340.6,1197.3 340.8,1257.2 341.4,1219.0 341.8,1245.9 342.3,1235.1 342.5,1261.9 342.7,1229.4 343.1,1250.7 343.5,1279.8 343.7,1214.5 343.9,1220.0 344.5,1252.7 345.0,1196.0 345.1,1247.5 345.3,1218.9 345.7,1239.1 346.2,1205.6 346.8,1250.8 347.1,1183.9 347.3,1236.4 347.5,1178.0 347.7,1269.7 348.0,1218.1 348.4,1245.9 348.7,1229.1 349.0,1252.7 349.5,1255.9 349.7,1196.6 349.9,1220.1 350.2,1250.5 350.8,1217.5 351.1,1242.6 351.7,1218.6 352.2,1240.8 352.4,1196.8 352.6,1249.4 353.2,1221.6 353.6,1251.8 354.0,1249.2 354.2,1209.1 354.4,1264.6 354.6,1181.9 354.9,1207.8 355.2,1251.0 355.7,1217.2 356.2,1244.9 356.7,1257.0 356.9,1211.1 357.1,1216.1 357.7,1253.3 358.1,1213.7 358.6,1283.2 358.7,1215.9 359.0,1256.6 359.5,1220.2 359.9,1243.8 360.3,1203.6 360.8,1256.6 361.0,1190.6 361.2,1249.2 361.7,1112.9 362.0,1331.4 362.2,1225.4 362.6,1251.9 363.2,1222.5 363.7,1260.1 363.9,1215.5 364.1,1244.1 364.6,1210.2 365.1,1252.8 365.6,1201.5 366.0,1236.8 366.2,1175.8 366.4,1254.7 366.9,1217.7 367.5,1243.0 368.1,1275.8 368.3,1175.6 368.5,1215.7 369.1,1251.9 369.7,1219.4 370.1,1275.9 370.3,1236.8 370.5,1243.7 370.8,1212.1 371.1,1255.0 371.6,1213.8 371.8,1258.1 372.0,1221.9 372.4,1254.8 372.9,1213.5 373.3,1280.7 373.6,1181.2 373.8,1253.7 374.2,1218.4 374.7,1250.4 375.2,1195.6 375.4,1255.0 375.6,1221.6 376.2,1253.0 376.6,1221.7 377.1,1255.7 377.6,1258.1 377.8,1216.8 378.0,1224.7 378.4,1253.4 378.9,1230.7 379.4,1208.0 379.5,1268.4 379.8,1249.6 380.1,1219.4 380.6,1248.2 381.1,1246.6 381.3,1211.8 381.5,1234.4 381.9,1241.8 382.4,1266.6 382.6,1206.5 382.8,1231.2 383.4,1254.0 383.8,1209.9 384.3,1242.3 384.7,1274.6 384.9,1176.1 385.1,1224.6 385.5,1260.8 385.8,1220.3 386.2,1248.2 386.7,1226.6 387.0,1249.7 387.2,1172.5 387.4,1259.2 388.0,1204.7 388.5,1167.4 388.7,1264.7 388.9,1262.5 389.2,1212.2 389.6,1313.6 389.8,1152.3 390.0,1247.8 390.5,1216.5 390.9,1246.1 391.3,1159.4 391.5,1267.7 391.7,1219.5 392.3,1250.4 392.7,1164.7 392.9,1248.1 393.1,1197.3 393.5,1253.5 394.0,1204.3 394.5,1271.6 394.7,1174.1 394.9,1256.5 395.4,1165.5 395.6,1303.6 395.9,1209.0 396.2,1253.8 396.8,1229.4 397.2,1264.1 397.4,1190.4 397.6,1240.8 398.1,1225.0 398.4,1250.1 399.0,1207.4 399.2,1254.9 399.4,1216.1 399.9,1249.0 400.3,1187.5 400.5,1268.6 400.8,1209.8 401.3,1247.1 401.7,1206.7 402.0,1251.2 402.5,1260.4 402.6,1178.7 402.8,1215.2 403.3,1302.4 403.6,1177.4 403.8,1268.4 404.2,1224.3 404.7,1267.9 405.3,1286.3 405.5,1223.0 405.7,1228.8 406.1,1266.1 406.6,1226.7 407.0,1241.6 407.2,1215.9 407.4,1257.6 407.7,1229.3 408.3,1250.9 408.7,1221.8 408.9,1267.1 409.1,1208.2 409.3,1296.5 409.6,1224.0 410.1,1261.2 410.7,1235.8 411.0,1212.1 411.2,1238.3 411.4,1245.8 411.8,1221.0 412.2,1245.9 412.6,1251.3 412.8,1227.0 413.0,1234.0 413.3,1256.3 413.6,1216.0 413.8,1242.1 414.4,1234.2 414.8,1237.9 415.3,1237.1 416.0,1237.3 416.6,1237.1 417.5,1235.9 417.9,1235.5 418.8,1242.7 419.7,1237.8 420.2,1239.5 420.9,1235.5 421.4,1237.2 422.2,1238.2 423.1,1238.4 423.9,1236.8 424.4,1238.3 424.9,1235.6 425.5,1235.9 426.3,1235.0 426.9,1236.6 427.8,1237.5 428.5,1238.4 429.1,1235.8 430.0,1237.8 430.7,1236.1 431.2,1238.4 431.8,1216.1 432.0,1241.3 432.2,1227.2 432.7,1243.0 433.2,1206.0 433.4,1255.7 433.6,1231.3 434.0,1249.4 434.5,1230.5 434.8,1241.0 435.0,1266.9 435.2,1254.1 435.6,1223.7 436.2,1254.4 436.7,1216.8 437.2,1200.9 437.3,1259.2 437.6,1261.1 437.9,1220.8 438.3,1254.5 438.7,1296.4 438.9,1136.6 439.1,1194.0 439.7,1241.6 440.2,1190.8 440.6,1149.3 440.8,1234.8 441.0,1239.7 441.4,1206.2 441.7,1258.2 442.3,1225.3 442.7,1184.0 442.8,1255.8 443.0,1242.4 443.4,1200.8 443.7,1255.1 444.2,1220.8 444.7,1194.0 444.9,1262.8 445.1,1244.7 445.5,1206.2 445.9,1178.4 446.1,1272.8 446.4,1243.1 446.8,1212.6 447.2,1254.3 447.7,1215.3 448.2,1230.4 448.4,1270.7 448.6,1252.8 449.1,1219.4 449.7,1256.0 450.2,1226.8 450.6,1209.9 450.8,1248.6 451.0,1189.0 451.3,1278.9 451.5,1249.0 451.9,1228.8 452.4,1264.2 452.8,1223.7 453.4,1289.3 453.6,1195.8 453.8,1251.5 454.3,1229.6 454.7,1255.1 455.3,1213.8 455.7,1209.3 455.9,1244.0 456.1,1247.4 456.5,1218.6 456.9,1319.5 457.2,1198.1 457.4,1264.2 458.0,1222.5 458.5,1255.9 459.0,1294.5 459.2,1228.2 459.4,1222.0 459.8,1246.3 460.4,1222.1 460.9,1266.0 461.1,1194.4 461.4,1249.8 461.9,1225.5 462.5,1241.5 463.0,1215.7 463.4,1244.2 463.6,1206.2 463.8,1246.4 464.4,1227.1 464.9,1251.4 465.2,1208.5 465.7,1267.7 466.0,1182.4 466.2,1242.4 466.6,1220.8 467.1,1241.9 467.7,1231.3 468.1,1246.4 468.3,1212.7 468.5,1240.1 469.1,1225.1 469.4,1245.6 469.8,1220.7 470.1,1257.8 470.3,1233.4 470.7,1239.0 471.1,1232.5 471.5,1240.4 472.1,1232.6 472.4,1243.9 472.6,1230.5 472.8,1240.2 473.4,1234.6 473.9,1241.8 474.4,1243.4 474.6,1230.9 474.8,1234.4 475.3,1240.9 475.5,1231.0 475.7,1239.8 476.1,1231.3 476.5,1236.8 477.0,1234.5 477.5,1239.0 477.8,1237.6 478.0,1242.0 478.2,1234.0 478.8,1239.9 479.2,1236.3 479.8,1249.5 480.0,1226.6 480.3,1243.8 480.6,1229.8 481.1,1239.4 481.6,1233.3 482.1,1244.1 482.6,1249.1 482.8,1232.8 483.0,1238.8 483.5,1242.9 484.1,1232.7 484.5,1243.2 485.0,1234.9 485.2,1248.6 485.4,1219.9 485.6,1251.2 485.9,1235.2 486.2,1244.7 486.7,1231.0 487.2,1256.5 487.8,1215.5 488.0,1271.4 488.2,1229.5 488.8,1294.6 489.0,1194.9 489.2,1259.7 489.8,1224.5 490.3,1268.3 490.5,1217.1 490.7,1264.3 491.2,1220.0 491.8,1248.2 492.3,1263.4 492.5,1190.9 492.7,1215.6 493.3,1263.9 493.8,1218.3 494.3,1273.3 494.5,1205.1 494.7,1255.4 495.2,1215.7 495.5,1247.2 496.1,1264.4 496.3,1192.3 496.5,1219.9 497.0,1181.2 497.2,1302.6 497.4,1257.7 498.0,1224.5 498.3,1255.7 498.9,1218.4 499.2,1212.2 499.4,1263.4 499.6,1246.9 500.0,1223.2 500.5,1246.0 500.9,1224.2 501.3,1183.6 501.5,1282.1 501.8,1244.2 502.1,1212.4 502.5,1252.0 503.1,1220.4 503.5,1244.2 504.0,1203.4 504.2,1278.5 504.4,1216.8 504.8,1247.0 505.2,1220.1 505.8,1279.8 506.0,1178.0 506.3,1250.2 506.6,1220.0 507.1,1251.5 507.5,1224.4 507.9,1244.8 508.3,1211.7 508.5,1259.8 508.7,1227.9 509.2,1247.5 509.6,1230.6 510.1,1263.9 510.3,1213.4 510.5,1253.6 511.0,1222.9 511.6,1244.7 512.1,1263.3 512.3,1201.9 512.6,1226.0 513.2,1239.1 513.5,1223.4 513.9,1249.0 514.1,1231.0 514.3,1243.1 514.7,1230.7 515.1,1246.9 515.7,1228.7 516.1,1217.8 516.3,1255.7 516.5,1240.9 517.0,1232.5 517.4,1242.6 517.7,1238.8 518.2,1239.2 518.7,1233.2 519.3,1237.8 519.8,1236.6 520.7,1239.9 521.3,1233.8 522.1,1240.7 522.9,1234.0 523.5,1239.6 524.2,1235.7 524.8,1238.1 525.7,1236.3 526.3,1238.2 526.8,1234.4 527.4,1240.7 528.0,1230.6 528.5,1237.5 529.2,1234.0 529.7,1241.4 530.3,1236.3 531.1,1240.9 531.8,1232.8 532.6,1239.8 533.5,1233.9 534.1,1237.8 534.9,1237.2 535.6,1236.9 536.5,1230.9 537.0,1239.7 537.8,1237.2 538.4,1241.0 539.2,1236.5 539.7,1242.2 540.2,1236.1 541.2,1239.3 541.8,1235.8 542.6,1237.1 543.4,1235.9 544.0,1240.4 544.9,1235.3 545.6,1237.5 546.5,1232.0 547.3,1237.4 547.9,1232.8 548.6,1237.7 549.1,1233.8 549.6,1237.7 550.3,1230.4 551.0,1238.8 551.7,1233.1 552.4,1241.5 553.2,1232.2 553.9,1236.0 554.8,1234.7 555.5,1236.1 556.2,1235.9 556.7,1237.2 557.1,1234.3 557.8,1237.4 558.7,1232.7 559.0,1237.5 559.3,1233.2 559.8,1211.6 560.0,1252.2 560.2,1242.6 560.7,1224.5 561.2,1240.5 561.7,1218.5 561.9,1246.7 562.1,1228.9 562.7,1248.2 563.0,1230.8 563.5,1214.3 563.7,1250.4 563.9,1245.4 564.4,1223.1 564.8,1249.9 565.2,1218.4 565.7,1198.0 565.9,1271.1 566.2,1240.1 566.8,1220.9 567.1,1243.7 567.6,1218.2 568.2,1222.5 568.4,1248.6 568.6,1249.4 568.9,1229.5 569.5,1190.3 569.7,1259.4 569.9,1237.1 570.2,1224.7 570.8,1189.1 571.0,1261.4 571.3,1241.4 571.7,1223.8 572.2,1248.9 572.7,1230.2 572.9,1255.1 573.1,1234.0 573.7,1244.1 574.1,1227.6 574.6,1255.9 574.8,1220.6 575.0,1242.6 575.4,1222.7 575.9,1241.1 576.4,1214.5 576.6,1253.5 576.9,1226.5 577.2,1241.1 577.6,1231.2 578.2,1240.6 578.6,1245.4 578.8,1207.7 579.0,1219.4 579.5,1239.4 579.9,1221.3 580.4,1218.4 580.6,1245.0 580.8,1272.9 581.1,1203.1 581.3,1244.2 581.7,1228.2 582.1,1251.1 582.6,1218.8 583.0,1250.9 583.4,1281.9 583.6,1214.9 583.8,1219.8 584.2,1262.2 584.7,1189.5 584.9,1296.2 585.2,1218.7 585.5,1245.5 585.9,1227.4 586.4,1260.9 586.9,1201.3 587.1,1271.9 587.3,1222.3 587.8,1263.9 588.2,1306.0 588.5,1189.0 588.7,1224.7 589.2,1248.6 589.8,1217.1 590.2,1223.9 590.4,1259.3 590.6,1246.2 591.0,1229.0 591.5,1256.3 591.9,1228.5 592.1,1264.2 592.3,1226.5 592.8,1213.0 593.0,1264.0 593.3,1243.5 593.8,1234.6 594.3,1248.2 594.8,1230.6 595.2,1247.1 595.4,1237.2 595.6,1245.4 595.9,1230.2 596.4,1243.6 596.9,1230.5 597.4,1227.6 597.6,1242.6 597.8,1240.6 598.2,1236.0 598.7,1229.8 598.9,1247.1 599.2,1241.8 599.5,1233.0 600.0,1243.9 600.3,1229.0 600.8,1243.2 601.1,1240.0 601.3,1224.4 601.5,1233.1 601.8,1244.9 602.3,1226.3 602.7,1243.1 603.2,1254.9 603.4,1218.1 603.6,1224.3 604.0,1253.6 604.2,1202.4 604.5,1245.4 605.0,1219.5 605.6,1239.7 606.0,1209.4 606.2,1247.5 606.4,1212.8 606.7,1252.2 607.2,1218.4 607.7,1253.0 608.0,1274.0 608.3,1186.7 608.5,1224.3 609.0,1242.3 609.4,1206.9 609.8,1241.4 610.4,1255.3 610.6,1187.9 610.8,1223.3 611.3,1244.3 611.8,1225.5 612.3,1262.4 612.5,1220.7 612.7,1252.0 613.1,1210.8 613.4,1239.2 613.9,1263.6 614.1,1181.8 614.3,1217.8 614.7,1254.5 615.0,1220.7 615.6,1261.2 615.8,1219.0 616.0,1259.5 616.4,1206.7 616.9,1245.5 617.3,1207.8 617.7,1163.3 618.0,1319.3 618.2,1271.3 618.6,1202.4 618.9,1261.7 619.3,1220.8 619.7,1254.5 620.0,1173.6 620.2,1248.1 620.4,1202.6 620.9,1246.4 621.4,1220.2 621.9,1295.0 622.1,1157.1 622.4,1259.5 622.7,1226.4 623.2,1243.3 623.6,1228.2 624.0,1253.7 624.4,1253.8 624.6,1201.9 624.8,1226.4 625.3,1242.7 625.8,1227.6 626.3,1214.6 626.6,1256.5 626.8,1242.2 627.3,1230.5 627.8,1233.2 628.0,1259.4 628.2,1241.8 628.7,1229.6 629.1,1245.8 629.4,1230.3 629.8,1241.7 630.3,1227.6 630.5,1262.0 630.7,1232.2 631.3,1245.5 631.6,1263.8 631.8,1215.5 632.1,1224.0 632.5,1246.4 632.9,1225.3 633.2,1237.0 633.7,1222.8 634.1,1215.9 634.3,1245.2 634.5,1239.0 634.9,1224.1 635.5,1242.7 636.0,1213.9 636.2,1250.1 636.4,1252.9 636.6,1200.0 636.8,1226.9 637.2,1242.1 637.6,1222.4 638.1,1240.1 638.4,1228.3 639.0,1225.2 639.2,1247.1 639.4,1238.8 639.9,1232.2 640.5,1245.1 640.7,1227.0 640.9,1242.3 641.4,1234.4 641.7,1246.3 641.9,1227.5 642.2,1240.0 642.7,1234.2 643.3,1240.7 643.7,1246.6 643.9,1233.8 644.1,1235.4 644.6,1242.3 645.0,1233.2 645.4,1230.8 645.6,1244.3 645.8,1239.7 646.3,1237.0 646.8,1245.5 647.3,1230.4 647.4,1244.5 647.7,1234.0 648.2,1243.1 648.6,1234.5 649.1,1243.4 649.5,1229.9 649.7,1248.0 649.9,1234.8 650.4,1237.8 650.8,1236.6 651.5,1239.3 652.4,1235.7 653.3,1239.3 654.1,1237.8 655.0,1241.1 655.5,1238.5 656.2,1238.3 657.1,1234.2 657.7,1236.9 658.7,1235.7 659.4,1239.0 660.2,1235.6 661.1,1235.7 662.0,1233.7 662.9,1236.1 663.8,1233.1" stroke="#000" stroke-width="0.7" stroke-opacity="0.6"/>
</g>
<g stroke-width="1.1" fill="none"><line x1="68.0" y1="1056.5" x2="699.0" y2="1056.5" stroke="#666"/><line x1="698.5" y1="1056.5" x2="698.5" y2="1418.5" stroke="#bbb"/><line x1="68.0" y1="1418.5" x2="699.0" y2="1418.5" stroke="#aaa"/><line x1="68.5" y1="1056.5" x2="68.5" y2="1418.5" stroke="#aaa"/></g>
<g fill="#000"><text transform="translate(51.46,1063.56) scale(1.0900,1)" font-family='"Liberation Sans", sans-serif' font-size="22.00" font-weight="normal" fill="#000">6</text><text transform="translate(51.10,1123.98) scale(1.0900,1)" font-family='"Liberation Sans", sans-serif' font-size="22.00" font-weight="normal" fill="#000">4</text><text transform="translate(51.64,1184.51) scale(1.0900,1)" font-family='"Liberation Sans", sans-serif' font-size="22.00" font-weight="normal" fill="#000">2</text><text transform="translate(51.34,1244.81) scale(1.0900,1)" font-family='"Liberation Sans", sans-serif' font-size="22.00" font-weight="normal" fill="#000">0</text><text transform="translate(43.67,1305.34) scale(1.0900,1)" font-family='"Liberation Sans", sans-serif' font-size="22.00" font-weight="normal" fill="#000">-2</text><text transform="translate(43.13,1365.65) scale(1.0900,1)" font-family='"Liberation Sans", sans-serif' font-size="22.00" font-weight="normal" fill="#000">-4</text><text transform="translate(43.49,1426.06) scale(1.0900,1)" font-family='"Liberation Sans", sans-serif' font-size="22.00" font-weight="normal" fill="#000">-6</text><text transform="translate(61.67,1440.35) scale(1.0900,1)" font-family='"Liberation Sans", sans-serif' font-size="22.00" font-weight="normal" fill="#000">0</text><text transform="translate(133.86,1440.35) scale(1.0900,1)" font-family='"Liberation Sans", sans-serif' font-size="22.00" font-weight="normal" fill="#000">50</text><text transform="translate(205.61,1440.35) scale(1.0900,1)" font-family='"Liberation Sans", sans-serif' font-size="22.00" font-weight="normal" fill="#000">100</text><text transform="translate(284.46,1440.35) scale(1.0900,1)" font-family='"Liberation Sans", sans-serif' font-size="22.00" font-weight="normal" fill="#000">150</text><text transform="translate(363.61,1440.35) scale(1.0900,1)" font-family='"Liberation Sans", sans-serif' font-size="22.00" font-weight="normal" fill="#000">200</text><text transform="translate(442.46,1440.35) scale(1.0900,1)" font-family='"Liberation Sans", sans-serif' font-size="22.00" font-weight="normal" fill="#000">250</text><text transform="translate(521.46,1440.35) scale(1.0900,1)" font-family='"Liberation Sans", sans-serif' font-size="22.00" font-weight="normal" fill="#000">300</text><text transform="translate(600.31,1440.35) scale(1.0900,1)" font-family='"Liberation Sans", sans-serif' font-size="22.00" font-weight="normal" fill="#000">350</text><text transform="translate(679.34,1440.35) scale(1.0900,1)" font-family='"Liberation Sans", sans-serif' font-size="22.00" font-weight="normal" fill="#000">400</text></g>
<rect x="490" y="50" width="219.0" height="62.5" fill="#fff"/>
<line x1="536" y1="64.2" x2="580.5" y2="64.2" stroke="#c80000" stroke-width="2.3"/>
<line x1="536" y1="90.4" x2="580.5" y2="90.4" stroke="#c0c0c0" stroke-width="1"/>
<text transform="translate(585.17,70.75) scale(1.1819,1)" font-family='"Liberation Sans", sans-serif' font-size="20.21" font-weight="normal" fill="#000">SBG</text>
<text transform="translate(585.11,97.55) scale(1.2652,1)" font-family='"Liberation Sans", sans-serif' font-size="18.62" font-weight="normal" fill="#000">Proposed</text>
<rect x="531" y="572" width="171.0" height="56.0" fill="#fff"/>
<line x1="542.4" y1="587.2" x2="584.8" y2="587.2" stroke="#c80000" stroke-width="2.3"/>
<line x1="542.4" y1="614.4" x2="584.8" y2="614.4" stroke="#505050" stroke-width="1"/>
<text transform="translate(590.99,594.45) scale(1.1870,1)" font-family='"Liberation Sans", sans-serif' font-size="19.79" font-weight="normal" fill="#000">SBG</text>
<text transform="translate(590.63,621.25) scale(1.2104,1)" font-family='"Liberation Sans", sans-serif' font-size="19.20" font-weight="normal" fill="#000">Proposed</text>
<rect x="499.5" y="1062" width="187.1" height="60.0" fill="#fff"/>
<line x1="507.5" y1="1080" x2="557.2" y2="1080" stroke="#c80000" stroke-width="2.3"/>
<line x1="507.5" y1="1106.9" x2="557.2" y2="1106.9" stroke="#c0c0c0" stroke-width="1"/>
<text transform="translate(563.58,1086.46) scale(1.2323,1)" font-family='"Liberation Sans", sans-serif' font-size="19.22" font-weight="normal" fill="#000">SBG</text>
<text transform="translate(563.11,1113.55) scale(1.2324,1)" font-family='"Liberation Sans", sans-serif' font-size="19.05" font-weight="normal" fill="#000">Proposed</text>
<g fill="#000"><text transform="translate(189.38,30.15) scale(1.1271,1)" font-family='"Liberation Sans", sans-serif' font-size="25.60" font-weight="normal" fill="#000">Acceleration Comparison (m/s</text><text transform="translate(580.41,16.75) scale(1.1271,1)" font-family='"Liberation Sans", sans-serif' font-size="16.63" font-weight="normal" fill="#000">2</text><text transform="translate(594.43,30.15) scale(1.1271,1)" font-family='"Liberation Sans", sans-serif' font-size="25.60" font-weight="normal" fill="#000">)</text><text transform="translate(189.68,542.15) scale(1.1180,1)" font-family='"Liberation Sans", sans-serif' font-size="25.60" font-weight="normal" fill="#000">Acceleration Comparison (m/s</text><text transform="translate(576.46,529.55) scale(1.1180,1)" font-family='"Liberation Sans", sans-serif' font-size="17.63" font-weight="normal" fill="#000">2</text><text transform="translate(591.14,542.15) scale(1.1180,1)" font-family='"Liberation Sans", sans-serif' font-size="25.60" font-weight="normal" fill="#000">)</text><text transform="translate(163.96,1039.55) scale(1.1111,1)" font-family='"Liberation Sans", sans-serif' font-size="25.02" font-weight="bold" fill="#000">Acceleration Comparison (m/s</text><text transform="translate(574.80,1026.75) scale(1.1111,1)" font-family='"Liberation Sans", sans-serif' font-size="19.35" font-weight="bold" fill="#000">2</text><text transform="translate(589.78,1039.55) scale(1.1111,1)" font-family='"Liberation Sans", sans-serif' font-size="25.02" font-weight="bold" fill="#000">)</text><text transform="translate(341.99,467.75) scale(1.1700,1)" font-family='"Liberation Sans", sans-serif' font-size="25.16" font-weight="normal" fill="#000">Time (s)</text><text transform="translate(340.90,969.05) scale(1.1465,1)" font-family='"Liberation Sans", sans-serif' font-size="25.16" font-weight="normal" fill="#000">Time (s)</text><text transform="translate(328.69,1466.55) scale(1.1712,1)" font-family='"Liberation Sans", sans-serif' font-size="25.02" font-weight="normal" fill="#000">Time (s)</text><text transform="translate(25.95,263.55) rotate(-90) scale(1.0147,1)" font-family='"Liberation Sans", sans-serif' font-size="26.18" font-weight="normal">X axis</text><text transform="translate(28.65,775.35) rotate(-90) scale(1.0032,1)" font-family='"Liberation Sans", sans-serif' font-size="26.62" font-weight="normal">Y axis</text><text transform="translate(25.65,1272.33) rotate(-90) scale(1.0270,1)" font-family='"Liberation Sans", sans-serif' font-size="26.33" font-weight="normal">Z axis</text><text transform="translate(354.52,500.22) scale(0.9937,1)" font-family='"Liberation Serif", serif' font-size="20.83">(<tspan font-weight="bold">a</tspan>)</text><text transform="translate(353.59,1002.92) scale(1.0280,1)" font-family='"Liberation Serif", serif' font-size="20.83">(<tspan font-weight="bold">b</tspan>)</text><text transform="translate(355.43,1501.02) scale(0.9768,1)" font-family='"Liberation Serif", serif' font-size="20.83">(<tspan font-weight="bold">c</tspan>)</text></g>
</svg>
</body></html>
